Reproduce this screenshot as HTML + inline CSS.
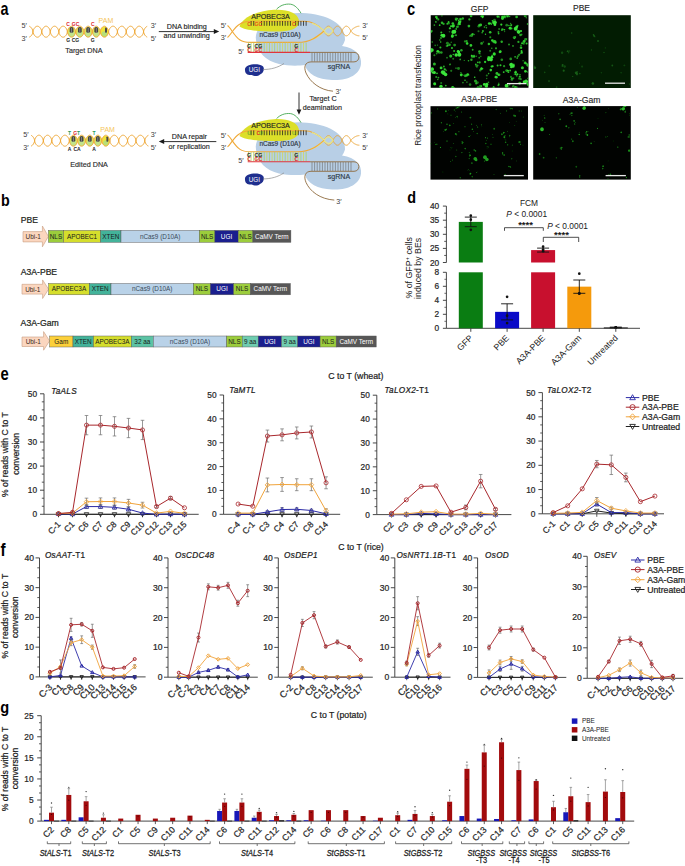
<!DOCTYPE html>
<html><head><meta charset="utf-8"><style>
html,body{margin:0;padding:0;background:#fff;width:685px;height:866px;overflow:hidden}
svg{display:block}
text{font-family:"Liberation Sans", sans-serif}
.b{stroke:#222;stroke-width:0.22px}
.b2{stroke:#333;stroke-width:0.15px}
</style></head><body>
<svg width="685" height="866" viewBox="0 0 685 866">
<rect width="685" height="866" fill="#fff"/>
<text transform="translate(0.4,14.5) scale(0.8,1.0)" font-size="18.0" font-weight="bold" fill="#000">a</text>
<ellipse cx="71.55" cy="31.70" rx="3.95" ry="5.30" fill="#dfe25a"/>
<ellipse cx="71.55" cy="34.01" rx="2.95" ry="2.86" fill="#c2e38a"/>
<rect x="69.65" y="27.10" width="3.8" height="5.70" rx="1.6" fill="#444"/>
<rect x="71.20" y="27.80" width="0.70" height="4.90" fill="#9a9a9a" stroke="none" stroke-width="0.5" />
<ellipse cx="79.85" cy="31.70" rx="3.95" ry="5.30" fill="#dfe25a"/>
<ellipse cx="79.85" cy="34.01" rx="2.95" ry="2.86" fill="#c2e38a"/>
<rect x="77.95" y="27.10" width="3.8" height="5.70" rx="1.6" fill="#444"/>
<rect x="79.50" y="27.80" width="0.70" height="4.90" fill="#9a9a9a" stroke="none" stroke-width="0.5" />
<ellipse cx="88.15" cy="31.70" rx="3.95" ry="5.30" fill="#dfe25a"/>
<ellipse cx="88.15" cy="34.01" rx="2.95" ry="2.86" fill="#c2e38a"/>
<rect x="86.25" y="27.10" width="3.8" height="5.70" rx="1.6" fill="#444"/>
<rect x="87.80" y="27.80" width="0.70" height="4.90" fill="#9a9a9a" stroke="none" stroke-width="0.5" />
<ellipse cx="96.25" cy="31.70" rx="3.75" ry="5.30" fill="#dfe25a"/>
<ellipse cx="96.25" cy="34.01" rx="2.75" ry="2.86" fill="#c2e38a"/>
<rect x="94.35" y="27.10" width="3.8" height="5.70" rx="1.6" fill="#444"/>
<rect x="95.90" y="27.80" width="0.70" height="4.90" fill="#9a9a9a" stroke="none" stroke-width="0.5" />
<ellipse cx="104.40" cy="31.70" rx="4.00" ry="5.30" fill="#efe33a"/>
<ellipse cx="104.40" cy="34.01" rx="2.80" ry="2.75" fill="#b8df78"/>
<rect x="105.00" y="27.40" width="2.0" height="5.30" rx="0.8" fill="#4a4a4a"/>
<polyline points="29.20,26.28 29.69,26.45 30.18,26.73 30.68,27.12 31.17,27.62 31.66,28.24 32.15,29.04 32.64,30.10 33.13,32.58 33.62,33.92 34.12,34.82 34.61,35.51 35.10,36.07 35.59,36.51 36.08,36.83 36.57,37.06 37.07,37.18 37.56,37.19 38.05,37.11 38.54,36.93 39.03,36.64 39.52,36.24 40.02,35.73 40.51,35.08 41.00,34.27 41.49,33.16 41.98,30.61 42.47,29.32 42.97,28.44 43.46,27.75 43.95,27.21 44.44,26.79 44.93,26.48 45.42,26.29 45.92,26.20 46.41,26.23 46.90,26.36 47.39,26.61 47.88,26.97 48.38,27.44 48.87,28.05 49.36,28.82 49.85,29.83 50.34,32.15 50.83,33.77 51.32,34.73 51.82,35.46 52.31,36.05 52.80,36.50 53.29,36.84 53.78,37.07 54.27,37.18 54.77,37.19 55.26,37.09 55.75,36.87 56.24,36.55 56.73,36.11 57.22,35.54 57.72,34.83 58.21,33.90 58.70,32.46 59.19,29.99 59.68,28.94 60.17,28.15 60.67,27.53 61.16,27.04 61.65,26.67 62.14,26.40 62.63,26.25 63.12,26.20 63.62,26.26 64.11,26.42 64.60,26.70 65.09,27.08 65.58,27.59 66.07,28.22 66.57,29.03 67.06,30.12 67.55,32.68 68.04,34.04 68.53,34.95 69.02,35.65 69.52,36.21 70.01,36.63 70.50,36.94 70.99,37.13 71.48,37.20 71.97,37.16 72.47,37.00 72.96,36.73 73.45,36.34 73.94,35.82 74.43,35.16 74.92,34.31 75.42,33.14 75.91,30.50 76.40,29.24 76.89,28.36 77.38,27.67 77.87,27.13 78.37,26.72 78.86,26.43 79.35,26.26 79.84,26.20 80.33,26.26 80.82,26.43 81.32,26.71 81.81,27.12 82.30,27.65 82.79,28.33 83.28,29.20 83.77,30.45 84.27,33.09 84.76,34.28 85.25,35.13 85.74,35.80 86.23,36.32 86.72,36.72 87.22,36.99 87.71,37.15 88.20,37.20 88.69,37.13 89.18,36.95 89.67,36.65 90.17,36.23 90.66,35.68 91.15,34.98 91.64,34.07 92.13,32.75 92.62,30.09 93.12,28.93 93.61,28.08 94.10,27.43 94.59,26.92 95.08,26.56 95.57,26.32 96.07,26.21 96.56,26.22 97.05,26.37 97.54,26.64 98.03,27.04 98.52,27.58 99.02,28.28 99.51,29.18 100.00,30.50 100.49,33.15 100.98,34.31 101.47,35.15 101.97,35.80 102.46,36.32 102.95,36.71 103.44,36.99 103.93,37.15 104.42,37.20 104.92,37.14 105.41,36.96 105.90,36.68 106.39,36.27 106.88,35.74 107.37,35.07 107.87,34.21 108.36,33.00 108.85,30.41 109.34,29.24 109.83,28.40 110.32,27.74 110.82,27.22 111.31,26.81 111.80,26.50 112.29,26.31 112.78,26.21 113.27,26.22 113.77,26.32 114.26,26.53 114.75,26.85 115.24,27.27 115.73,27.81 116.22,28.49 116.72,29.35 117.21,30.60 117.70,33.14 118.19,34.26 118.68,35.07 119.17,35.72 119.67,36.23 120.16,36.63 120.65,36.92 121.14,37.11 121.63,37.19 122.12,37.18 122.62,37.06 123.11,36.84 123.60,36.51 124.09,36.08 124.58,35.52 125.07,34.83 125.57,33.94 126.06,32.62 126.55,30.10 127.04,29.02 127.53,28.21 128.02,27.58 128.52,27.08 129.01,26.69 129.50,26.42 129.99,26.26 130.48,26.20 130.97,26.25 131.47,26.41 131.96,26.67 132.45,27.05 132.94,27.54 133.43,28.16 133.92,28.95 134.42,30.01 134.91,32.48 135.40,33.87 135.89,34.78 136.38,35.48 136.87,36.04 137.37,36.49 137.86,36.82 138.35,37.05 138.84,37.17 139.33,37.20 139.82,37.12 140.32,36.94 140.81,36.65 141.30,36.26 141.79,35.75 142.28,35.12 142.77,34.32 143.27,33.23 143.76,30.72 144.25,29.42 144.74,28.54 145.23,27.86 145.72,27.31 146.22,26.87 146.71,26.55 147.20,26.33" fill="none" stroke="#f0a938" stroke-width="1.0"/>
<polyline points="29.20,37.12 29.69,36.95 30.18,36.67 30.68,36.28 31.17,35.78 31.66,35.16 32.15,34.36 32.64,33.30 33.13,30.82 33.62,29.48 34.12,28.58 34.61,27.89 35.10,27.33 35.59,26.89 36.08,26.57 36.57,26.34 37.07,26.22 37.56,26.21 38.05,26.29 38.54,26.47 39.03,26.76 39.52,27.16 40.02,27.67 40.51,28.32 41.00,29.13 41.49,30.24 41.98,32.79 42.47,34.08 42.97,34.96 43.46,35.65 43.95,36.19 44.44,36.61 44.93,36.92 45.42,37.11 45.92,37.20 46.41,37.17 46.90,37.04 47.39,36.79 47.88,36.43 48.38,35.96 48.87,35.35 49.36,34.58 49.85,33.57 50.34,31.25 50.83,29.63 51.32,28.67 51.82,27.94 52.31,27.35 52.80,26.90 53.29,26.56 53.78,26.33 54.27,26.22 54.77,26.21 55.26,26.31 55.75,26.53 56.24,26.85 56.73,27.29 57.22,27.86 57.72,28.57 58.21,29.50 58.70,30.94 59.19,33.41 59.68,34.46 60.17,35.25 60.67,35.87 61.16,36.36 61.65,36.73 62.14,37.00 62.63,37.15 63.12,37.20 63.62,37.14 64.11,36.98 64.60,36.70 65.09,36.32 65.58,35.81 66.07,35.18 66.57,34.37 67.06,33.28 67.55,30.72 68.04,29.36 68.53,28.45 69.02,27.75 69.52,27.19 70.01,26.77 70.50,26.46 70.99,26.27 71.48,26.20 71.97,26.24 72.47,26.40 72.96,26.67 73.45,27.06 73.94,27.58 74.43,28.24 74.92,29.09 75.42,30.26 75.91,32.90 76.40,34.16 76.89,35.04 77.38,35.73 77.87,36.27 78.37,36.68 78.86,36.97 79.35,37.14 79.84,37.20 80.33,37.14 80.82,36.97 81.32,36.69 81.81,36.28 82.30,35.75 82.79,35.07 83.28,34.20 83.77,32.95 84.27,30.31 84.76,29.12 85.25,28.27 85.74,27.60 86.23,27.08 86.72,26.68 87.22,26.41 87.71,26.25 88.20,26.20 88.69,26.27 89.18,26.45 89.67,26.75 90.17,27.17 90.66,27.72 91.15,28.42 91.64,29.33 92.13,30.65 92.62,33.31 93.12,34.47 93.61,35.32 94.10,35.97 94.59,36.48 95.08,36.84 95.57,37.08 96.07,37.19 96.56,37.18 97.05,37.03 97.54,36.76 98.03,36.36 98.52,35.82 99.02,35.12 99.51,34.22 100.00,32.90 100.49,30.25 100.98,29.09 101.47,28.25 101.97,27.60 102.46,27.08 102.95,26.69 103.44,26.41 103.93,26.25 104.42,26.20 104.92,26.26 105.41,26.44 105.90,26.72 106.39,27.13 106.88,27.66 107.37,28.33 107.87,29.19 108.36,30.40 108.85,32.99 109.34,34.16 109.83,35.00 110.32,35.66 110.82,36.18 111.31,36.59 111.80,36.90 112.29,37.09 112.78,37.19 113.27,37.18 113.77,37.08 114.26,36.87 114.75,36.55 115.24,36.13 115.73,35.59 116.22,34.91 116.72,34.05 117.21,32.80 117.70,30.26 118.19,29.14 118.68,28.33 119.17,27.68 119.67,27.17 120.16,26.77 120.65,26.48 121.14,26.29 121.63,26.21 122.12,26.22 122.62,26.34 123.11,26.56 123.60,26.89 124.09,27.32 124.58,27.88 125.07,28.57 125.57,29.46 126.06,30.78 126.55,33.30 127.04,34.38 127.53,35.19 128.02,35.82 128.52,36.32 129.01,36.71 129.50,36.98 129.99,37.14 130.48,37.20 130.97,37.15 131.47,36.99 131.96,36.73 132.45,36.35 132.94,35.86 133.43,35.24 133.92,34.45 134.42,33.39 134.91,30.92 135.40,29.53 135.89,28.62 136.38,27.92 136.87,27.36 137.37,26.91 137.86,26.58 138.35,26.35 138.84,26.23 139.33,26.20 139.82,26.28 140.32,26.46 140.81,26.75 141.30,27.14 141.79,27.65 142.28,28.28 142.77,29.08 143.27,30.17 143.76,32.68 144.25,33.98 144.74,34.86 145.23,35.54 145.72,36.09 146.22,36.53 146.71,36.85 147.20,37.07" fill="none" stroke="#f0a938" stroke-width="1.0"/>
<text x="21.60" y="27.80" font-size="7.2" text-anchor="start" fill="#3a3a3a" font-weight="normal" font-style="normal" >5&#8242;</text>
<text x="21.60" y="40.50" font-size="7.2" text-anchor="start" fill="#3a3a3a" font-weight="normal" font-style="normal" >3&#8242;</text>
<text x="150.80" y="27.90" font-size="7.2" text-anchor="start" fill="#3a3a3a" font-weight="normal" font-style="normal" >3&#8242;</text>
<text x="150.80" y="40.50" font-size="7.2" text-anchor="start" fill="#3a3a3a" font-weight="normal" font-style="normal" >5&#8242;</text>
<text x="98.60" y="23.40" font-size="7.0" text-anchor="start" fill="#f5c55a" font-weight="normal" font-style="normal" >PAM</text>
<text x="68.00" y="25.70" font-size="5.0" font-weight="bold" fill="#e0242c" text-anchor="middle">C</text>
<text x="75.50" y="25.70" font-size="5.0" font-weight="bold" fill="#e0242c" text-anchor="middle">GC</text>
<text x="92.70" y="25.70" font-size="5.0" font-weight="bold" fill="#e0242c" text-anchor="middle">C</text>
<text x="68.10" y="42.10" font-size="5.0" font-weight="bold" fill="#222" text-anchor="middle">G</text>
<text x="75.40" y="42.10" font-size="5.0" font-weight="bold" fill="#222" text-anchor="middle">CG</text>
<text x="92.70" y="42.10" font-size="5.0" font-weight="bold" fill="#222" text-anchor="middle">G</text>
<text x="83.90" y="52.50" font-size="7.2" text-anchor="middle" fill="#2a2a2a" font-weight="normal" font-style="normal" class="b2">Target DNA</text>
<ellipse cx="73.40" cy="140.70" rx="3.90" ry="5.30" fill="#dfe25a"/>
<ellipse cx="73.40" cy="143.01" rx="2.90" ry="2.86" fill="#c2e38a"/>
<rect x="71.50" y="136.10" width="3.8" height="5.70" rx="1.6" fill="#444"/>
<rect x="73.05" y="136.80" width="0.70" height="4.90" fill="#9a9a9a" stroke="none" stroke-width="0.5" />
<ellipse cx="81.60" cy="140.70" rx="3.90" ry="5.30" fill="#dfe25a"/>
<ellipse cx="81.60" cy="143.01" rx="2.90" ry="2.86" fill="#c2e38a"/>
<rect x="79.70" y="136.10" width="3.8" height="5.70" rx="1.6" fill="#444"/>
<rect x="81.25" y="136.80" width="0.70" height="4.90" fill="#9a9a9a" stroke="none" stroke-width="0.5" />
<ellipse cx="89.80" cy="140.70" rx="3.90" ry="5.30" fill="#dfe25a"/>
<ellipse cx="89.80" cy="143.01" rx="2.90" ry="2.86" fill="#c2e38a"/>
<rect x="87.90" y="136.10" width="3.8" height="5.70" rx="1.6" fill="#444"/>
<rect x="89.45" y="136.80" width="0.70" height="4.90" fill="#9a9a9a" stroke="none" stroke-width="0.5" />
<ellipse cx="97.85" cy="140.70" rx="3.75" ry="5.30" fill="#dfe25a"/>
<ellipse cx="97.85" cy="143.01" rx="2.75" ry="2.86" fill="#c2e38a"/>
<rect x="95.95" y="136.10" width="3.8" height="5.70" rx="1.6" fill="#444"/>
<rect x="97.50" y="136.80" width="0.70" height="4.90" fill="#9a9a9a" stroke="none" stroke-width="0.5" />
<ellipse cx="105.80" cy="140.70" rx="3.80" ry="5.30" fill="#efe33a"/>
<ellipse cx="105.80" cy="143.01" rx="2.60" ry="2.75" fill="#b8df78"/>
<rect x="106.40" y="136.40" width="2.0" height="5.30" rx="0.8" fill="#4a4a4a"/>
<polyline points="31.00,135.32 31.49,135.53 31.98,135.85 32.47,136.27 32.96,136.82 33.45,137.50 33.94,138.38 34.42,139.65 34.91,142.19 35.40,143.29 35.89,144.10 36.38,144.75 36.87,145.26 37.36,145.65 37.85,145.94 38.34,146.12 38.83,146.20 39.32,146.17 39.80,146.04 40.29,145.81 40.78,145.47 41.27,145.02 41.76,144.45 42.25,143.73 42.74,142.80 43.23,141.31 43.72,138.91 44.21,137.88 44.70,137.10 45.19,136.48 45.67,136.00 46.16,135.64 46.65,135.38 47.14,135.24 47.63,135.20 48.12,135.27 48.61,135.45 49.10,135.74 49.59,136.15 50.08,136.67 50.57,137.34 51.06,138.18 51.55,139.37 52.03,141.95 52.52,143.14 53.01,143.99 53.50,144.65 53.99,145.18 54.48,145.60 54.97,145.90 55.46,146.10 55.95,146.19 56.44,146.18 56.93,146.07 57.42,145.85 57.90,145.53 58.39,145.10 58.88,144.55 59.37,143.86 59.86,142.97 60.35,141.66 60.84,139.15 61.33,138.08 61.82,137.28 62.31,136.65 62.80,136.14 63.29,135.75 63.77,135.47 64.26,135.29 64.75,135.20 65.24,135.22 65.73,135.35 66.22,135.57 66.71,135.89 67.20,136.33 67.69,136.88 68.18,137.57 68.67,138.46 69.16,139.77 69.64,142.33 70.13,143.44 70.62,144.26 71.11,144.91 71.60,145.41 72.09,145.78 72.58,146.04 73.07,146.17 73.56,146.19 74.05,146.10 74.54,145.89 75.03,145.56 75.51,145.10 76.00,144.51 76.49,143.76 76.98,142.78 77.47,141.07 77.96,138.77 78.45,137.74 78.94,136.97 79.43,136.36 79.92,135.89 80.41,135.55 80.90,135.32 81.38,135.21 81.87,135.22 82.36,135.34 82.85,135.58 83.34,135.94 83.83,136.43 84.32,137.05 84.81,137.85 85.30,138.91 85.79,141.41 86.28,142.91 86.77,143.86 87.25,144.59 87.74,145.16 88.23,145.60 88.72,145.92 89.21,146.12 89.70,146.20 90.19,146.16 90.68,146.01 91.17,145.74 91.66,145.36 92.15,144.84 92.64,144.18 93.12,143.33 93.61,142.16 94.10,139.49 94.59,138.18 95.08,137.28 95.57,136.59 96.06,136.05 96.55,135.64 97.04,135.37 97.53,135.23 98.02,135.21 98.51,135.31 98.99,135.54 99.48,135.90 99.97,136.40 100.46,137.04 100.95,137.87 101.44,138.99 101.93,141.62 102.42,143.04 102.91,143.97 103.40,144.69 103.89,145.26 104.38,145.68 104.86,145.98 105.35,146.15 105.84,146.20 106.33,146.13 106.82,145.93 107.31,145.62 107.80,145.17 108.29,144.58 108.78,143.83 109.27,142.84 109.76,141.18 110.24,138.89 110.73,137.90 111.22,137.15 111.71,136.55 112.20,136.07 112.69,135.70 113.18,135.44 113.67,135.27 114.16,135.20 114.65,135.23 115.14,135.36 115.63,135.59 116.12,135.92 116.60,136.36 117.09,136.91 117.58,137.60 118.07,138.48 118.56,139.80 119.05,142.28 119.54,143.34 120.03,144.14 120.52,144.77 121.01,145.27 121.50,145.66 121.98,145.94 122.47,146.12 122.96,146.20 123.45,146.17 123.94,146.05 124.43,145.83 124.92,145.50 125.41,145.06 125.90,144.50 126.39,143.81 126.88,142.92 127.37,141.59 127.86,139.08 128.34,137.99 128.83,137.19 129.32,136.56 129.81,136.06 130.30,135.68 130.79,135.41 131.28,135.25 131.77,135.20 132.26,135.26 132.75,135.42 133.24,135.70 133.72,136.09 134.21,136.60 134.70,137.24 135.19,138.06 135.68,139.18 136.17,141.73 136.66,143.00 137.15,143.87 137.64,144.55 138.13,145.10 138.62,145.53 139.11,145.85 139.60,146.06 140.08,146.18 140.57,146.19 141.06,146.11 141.55,145.92 142.04,145.63 142.53,145.23 143.02,144.72 143.51,144.08 144.00,143.28 144.49,142.18 144.98,139.66 145.47,138.39 145.95,137.52 146.44,136.84 146.93,136.30 147.42,135.87 147.91,135.55 148.40,135.33" fill="none" stroke="#f0a938" stroke-width="1.0"/>
<polyline points="31.00,146.08 31.49,145.87 31.98,145.55 32.47,145.13 32.96,144.58 33.45,143.90 33.94,143.02 34.42,141.75 34.91,139.21 35.40,138.11 35.89,137.30 36.38,136.65 36.87,136.14 37.36,135.75 37.85,135.46 38.34,135.28 38.83,135.20 39.32,135.23 39.80,135.36 40.29,135.59 40.78,135.93 41.27,136.38 41.76,136.95 42.25,137.67 42.74,138.60 43.23,140.09 43.72,142.49 44.21,143.52 44.70,144.30 45.19,144.92 45.67,145.40 46.16,145.76 46.65,146.02 47.14,146.16 47.63,146.20 48.12,146.13 48.61,145.95 49.10,145.66 49.59,145.25 50.08,144.73 50.57,144.06 51.06,143.22 51.55,142.03 52.03,139.45 52.52,138.26 53.01,137.41 53.50,136.75 53.99,136.22 54.48,135.80 54.97,135.50 55.46,135.30 55.95,135.21 56.44,135.22 56.93,135.33 57.42,135.55 57.90,135.87 58.39,136.30 58.88,136.85 59.37,137.54 59.86,138.43 60.35,139.74 60.84,142.25 61.33,143.32 61.82,144.12 62.31,144.75 62.80,145.26 63.29,145.65 63.77,145.93 64.26,146.11 64.75,146.20 65.24,146.18 65.73,146.05 66.22,145.83 66.71,145.51 67.20,145.07 67.69,144.52 68.18,143.83 68.67,142.94 69.16,141.63 69.64,139.07 70.13,137.96 70.62,137.14 71.11,136.49 71.60,135.99 72.09,135.62 72.58,135.36 73.07,135.23 73.56,135.21 74.05,135.30 74.54,135.51 75.03,135.84 75.51,136.30 76.00,136.89 76.49,137.64 76.98,138.62 77.47,140.33 77.96,142.63 78.45,143.66 78.94,144.43 79.43,145.04 79.92,145.51 80.41,145.85 80.90,146.08 81.38,146.19 81.87,146.18 82.36,146.06 82.85,145.82 83.34,145.46 83.83,144.97 84.32,144.35 84.81,143.55 85.30,142.49 85.79,139.99 86.28,138.49 86.77,137.54 87.25,136.81 87.74,136.24 88.23,135.80 88.72,135.48 89.21,135.28 89.70,135.20 90.19,135.24 90.68,135.39 91.17,135.66 91.66,136.04 92.15,136.56 92.64,137.22 93.12,138.07 93.61,139.24 94.10,141.91 94.59,143.22 95.08,144.12 95.57,144.81 96.06,145.35 96.55,145.76 97.04,146.03 97.53,146.17 98.02,146.19 98.51,146.09 98.99,145.86 99.48,145.50 99.97,145.00 100.46,144.36 100.95,143.53 101.44,142.41 101.93,139.78 102.42,138.36 102.91,137.43 103.40,136.71 103.89,136.14 104.38,135.72 104.86,135.42 105.35,135.25 105.84,135.20 106.33,135.27 106.82,135.47 107.31,135.78 107.80,136.23 108.29,136.82 108.78,137.57 109.27,138.56 109.76,140.22 110.24,142.51 110.73,143.50 111.22,144.25 111.71,144.85 112.20,145.33 112.69,145.70 113.18,145.96 113.67,146.13 114.16,146.20 114.65,146.17 115.14,146.04 115.63,145.81 116.12,145.48 116.60,145.04 117.09,144.49 117.58,143.80 118.07,142.92 118.56,141.60 119.05,139.12 119.54,138.06 120.03,137.26 120.52,136.63 121.01,136.13 121.50,135.74 121.98,135.46 122.47,135.28 122.96,135.20 123.45,135.23 123.94,135.35 124.43,135.57 124.92,135.90 125.41,136.34 125.90,136.90 126.39,137.59 126.88,138.48 127.37,139.81 127.86,142.32 128.34,143.41 128.83,144.21 129.32,144.84 129.81,145.34 130.30,145.72 130.79,145.99 131.28,146.15 131.77,146.20 132.26,146.14 132.75,145.98 133.24,145.70 133.72,145.31 134.21,144.80 134.70,144.16 135.19,143.34 135.68,142.22 136.17,139.67 136.66,138.40 137.15,137.53 137.64,136.85 138.13,136.30 138.62,135.87 139.11,135.55 139.60,135.34 140.08,135.22 140.57,135.21 141.06,135.29 141.55,135.48 142.04,135.77 142.53,136.17 143.02,136.68 143.51,137.32 144.00,138.12 144.49,139.22 144.98,141.74 145.47,143.01 145.95,143.88 146.44,144.56 146.93,145.10 147.42,145.53 147.91,145.85 148.40,146.07" fill="none" stroke="#f0a938" stroke-width="1.0"/>
<text x="23.30" y="136.80" font-size="7.2" text-anchor="start" fill="#3a3a3a" font-weight="normal" font-style="normal" >5&#8242;</text>
<text x="23.30" y="149.50" font-size="7.2" text-anchor="start" fill="#3a3a3a" font-weight="normal" font-style="normal" >3&#8242;</text>
<text x="150.80" y="136.90" font-size="7.2" text-anchor="start" fill="#3a3a3a" font-weight="normal" font-style="normal" >3&#8242;</text>
<text x="150.80" y="149.50" font-size="7.2" text-anchor="start" fill="#3a3a3a" font-weight="normal" font-style="normal" >5&#8242;</text>
<text x="100.30" y="132.40" font-size="7.0" text-anchor="start" fill="#f5c55a" font-weight="normal" font-style="normal" >PAM</text>
<text x="69.60" y="134.70" font-size="5.0" font-weight="bold" fill="#2a9a5a" text-anchor="middle">T</text>
<text x="75.30" y="134.70" font-size="5.0" font-weight="bold" fill="#e0242c" text-anchor="middle">G</text>
<text x="78.60" y="134.70" font-size="5.0" font-weight="bold" fill="#2a9a5a" text-anchor="middle">T</text>
<text x="94.00" y="134.70" font-size="5.0" font-weight="bold" fill="#2a9a5a" text-anchor="middle">T</text>
<text x="69.60" y="151.10" font-size="5.0" font-weight="bold" fill="#222" text-anchor="middle">A</text>
<text x="77.00" y="151.10" font-size="5.0" font-weight="bold" fill="#222" text-anchor="middle">CA</text>
<text x="94.00" y="151.10" font-size="5.0" font-weight="bold" fill="#222" text-anchor="middle">A</text>
<text x="89.10" y="167.30" font-size="7.2" text-anchor="middle" fill="#2a2a2a" font-weight="normal" font-style="normal" class="b2">Edited DNA</text>
<line x1="158.80" y1="31.60" x2="215.50" y2="31.60" stroke="#1a1a1a" stroke-width="0.9" />
<path d="M219.2,31.6 L213.8,29.1 L213.8,34.1Z" fill="#1a1a1a"/>
<text x="186.80" y="29.30" font-size="7.2" text-anchor="middle" fill="#1a1a1a" font-weight="normal" font-style="normal" class="b2">DNA binding</text>
<text x="186.60" y="38.20" font-size="7.2" text-anchor="middle" fill="#1a1a1a" font-weight="normal" font-style="normal" class="b2">and unwinding</text>
<line x1="162.50" y1="141.60" x2="216.30" y2="141.60" stroke="#1a1a1a" stroke-width="0.9" />
<path d="M158.8,141.6 L164.2,139.1 L164.2,144.1Z" fill="#1a1a1a"/>
<text x="189.40" y="139.30" font-size="7.2" text-anchor="middle" fill="#1a1a1a" font-weight="normal" font-style="normal" class="b2">DNA repair</text>
<text x="189.20" y="148.60" font-size="7.2" text-anchor="middle" fill="#1a1a1a" font-weight="normal" font-style="normal" class="b2">or replication</text>
<line x1="299.00" y1="92.50" x2="299.00" y2="110.00" stroke="#1a1a1a" stroke-width="0.9" />
<path d="M299.0,114.8 L296.6,109.4 L301.4,109.4Z" fill="#1a1a1a"/>
<text x="323.00" y="100.90" font-size="7.2" text-anchor="middle" fill="#1a1a1a" font-weight="normal" font-style="normal" class="b2">Target C</text>
<text x="322.40" y="110.10" font-size="7.2" text-anchor="middle" fill="#1a1a1a" font-weight="normal" font-style="normal" class="b2">deamination</text>
<path d="M256,40.0 C254,24.0 276,12.0 302,13.0 C328,14.0 346,24.0 345,40.0 C344,43.0 343,45.0 342,46.0 C356,48.0 362,56.0 361,64.0 C360,75.0 347,81.0 332,80.0 C318,79.5 307,74.0 305,65.0 C298,66.0 288,66.0 279,64.0 C266,61.0 257,52.0 256,40.0Z" fill="#b8cfe6"/>
<path d="M239.5,26.5 C242,18.0 256,11.0 274,9.8 C288,9.0 297,13.0 298.8,19.5 C300.5,26.5 294,31.2 281,31.5 C264,31.8 246,31.0 239.5,26.5Z" fill="#dcdf28"/>
<path d="M276.5,9.3 C280,5.5 285,3.6 290.5,4.2 C295,4.8 298.5,9.0 301,13.2" fill="none" stroke="#2b9c3a" stroke-width="0.8"/>
<polyline points="324.00,31.00 324.15,31.45 324.30,31.78 324.44,32.07 324.59,32.35 324.74,32.61 324.88,32.85 325.03,33.09 325.18,33.31 325.33,33.52 325.48,33.72 325.62,33.92 325.77,34.10 325.92,34.28 326.06,34.44 326.21,34.60 326.36,34.75 326.51,34.89 326.65,35.01 326.80,35.13 326.95,35.24 327.10,35.34 327.25,35.43 327.39,35.51 327.54,35.59 327.69,35.65 327.83,35.70 327.98,35.74 328.13,35.77 328.28,35.79 328.43,35.80 328.57,35.80 328.72,35.79 328.87,35.77 329.01,35.74 329.16,35.70 329.31,35.65 329.46,35.59 329.61,35.52 329.75,35.44 329.90,35.34 330.05,35.24 330.19,35.14 330.34,35.02 330.49,34.89 330.64,34.75 330.78,34.60 330.93,34.45 331.08,34.28 331.23,34.10 331.38,33.92 331.52,33.73 331.67,33.52 331.82,33.31 331.96,33.09 332.11,32.86 332.26,32.61 332.41,32.35 332.56,32.08 332.70,31.78 332.85,31.45 333.00,31.02 333.14,30.56 333.29,30.23 333.44,29.93 333.59,29.66 333.74,29.40 333.88,29.15 334.03,28.92 334.18,28.70 334.32,28.48 334.47,28.28 334.62,28.09 334.77,27.90 334.92,27.73 335.06,27.56 335.21,27.40 335.36,27.26 335.50,27.12 335.65,26.99 335.80,26.87 335.95,26.76 336.09,26.66 336.24,26.57 336.39,26.49 336.54,26.42 336.69,26.35 336.83,26.30 336.98,26.26 337.13,26.23 337.27,26.21 337.42,26.20 337.57,26.20 337.72,26.21 337.87,26.23 338.01,26.26 338.16,26.30 338.31,26.35 338.45,26.41 338.60,26.48 338.75,26.56 338.90,26.65 339.05,26.75 339.19,26.86 339.34,26.98 339.49,27.11 339.63,27.25 339.78,27.40 339.93,27.55 340.08,27.72 340.22,27.89 340.37,28.08 340.52,28.27 340.67,28.47 340.81,28.68 340.96,28.91 341.11,29.14 341.26,29.38 341.40,29.64 341.55,29.92 341.70,30.21 341.85,30.54 342.00,30.97 342.14,31.44 342.29,31.78 342.44,32.08 342.58,32.36 342.73,32.63 342.88,32.88 343.03,33.11 343.18,33.34 343.32,33.56 343.47,33.76 343.62,33.96 343.76,34.14 343.91,34.32 344.06,34.49 344.21,34.65 344.35,34.79 344.50,34.93 344.65,35.06 344.80,35.18 344.94,35.29 345.09,35.38 345.24,35.47 345.39,35.55 345.53,35.62 345.68,35.67 345.83,35.72 345.98,35.76 346.12,35.78 346.27,35.80 346.42,35.80 346.57,35.79 346.71,35.78 346.86,35.75 347.01,35.71 347.16,35.66 347.31,35.60 347.45,35.53 347.60,35.45 347.75,35.36 347.89,35.26 348.04,35.15 348.19,35.03 348.34,34.90 348.48,34.75 348.63,34.60 348.78,34.44 348.93,34.27 349.07,34.09 349.22,33.91 349.37,33.71 349.52,33.50 349.66,33.28 349.81,33.05 349.96,32.81 350.11,32.56 350.25,32.29 350.40,32.00 350.55,31.69 350.70,31.34 350.84,30.90 350.99,30.67 351.14,30.48 351.29,30.31 351.44,30.14 351.58,29.99 351.73,29.84 351.88,29.70 352.02,29.56 352.17,29.43 352.32,29.30 352.47,29.17 352.62,29.04 352.76,28.92 352.91,28.81 353.06,28.69 353.20,28.58 353.35,28.47 353.50,28.36 353.65,28.26 353.79,28.15 353.94,28.06 354.09,27.96 354.24,27.86 354.38,27.77 354.53,27.68 354.68,27.60 354.83,27.51 354.97,27.43 355.12,27.35 355.27,27.27 355.42,27.20 355.56,27.13 355.71,27.06 355.86,26.99 356.01,26.93 356.15,26.87 356.30,26.81 356.45,26.75 356.60,26.70 356.75,26.65 356.89,26.60 357.04,26.55 357.19,26.51 357.33,26.47 357.48,26.43 357.63,26.40 357.78,26.37 357.92,26.34 358.07,26.31 358.22,26.29 358.37,26.27 358.51,26.25 358.66,26.23 358.81,26.22 358.96,26.21 359.10,26.21 359.25,26.20 359.40,26.20" fill="none" stroke="#f0a938" stroke-width="1.0"/>
<polyline points="324.00,31.00 324.15,30.55 324.30,30.22 324.44,29.93 324.59,29.65 324.74,29.39 324.88,29.15 325.03,28.91 325.18,28.69 325.33,28.48 325.48,28.28 325.62,28.08 325.77,27.90 325.92,27.72 326.06,27.56 326.21,27.40 326.36,27.25 326.51,27.11 326.65,26.99 326.80,26.87 326.95,26.76 327.10,26.66 327.25,26.57 327.39,26.49 327.54,26.41 327.69,26.35 327.83,26.30 327.98,26.26 328.13,26.23 328.28,26.21 328.43,26.20 328.57,26.20 328.72,26.21 328.87,26.23 329.01,26.26 329.16,26.30 329.31,26.35 329.46,26.41 329.61,26.48 329.75,26.56 329.90,26.66 330.05,26.76 330.19,26.86 330.34,26.98 330.49,27.11 330.64,27.25 330.78,27.40 330.93,27.55 331.08,27.72 331.23,27.90 331.38,28.08 331.52,28.27 331.67,28.48 331.82,28.69 331.96,28.91 332.11,29.14 332.26,29.39 332.41,29.65 332.56,29.92 332.70,30.22 332.85,30.55 333.00,30.98 333.14,31.44 333.29,31.77 333.44,32.07 333.59,32.34 333.74,32.60 333.88,32.85 334.03,33.08 334.18,33.30 334.32,33.52 334.47,33.72 334.62,33.91 334.77,34.10 334.92,34.27 335.06,34.44 335.21,34.60 335.36,34.74 335.50,34.88 335.65,35.01 335.80,35.13 335.95,35.24 336.09,35.34 336.24,35.43 336.39,35.51 336.54,35.58 336.69,35.65 336.83,35.70 336.98,35.74 337.13,35.77 337.27,35.79 337.42,35.80 337.57,35.80 337.72,35.79 337.87,35.77 338.01,35.74 338.16,35.70 338.31,35.65 338.45,35.59 338.60,35.52 338.75,35.44 338.90,35.35 339.05,35.25 339.19,35.14 339.34,35.02 339.49,34.89 339.63,34.75 339.78,34.60 339.93,34.45 340.08,34.28 340.22,34.11 340.37,33.92 340.52,33.73 340.67,33.53 340.81,33.32 340.96,33.09 341.11,32.86 341.26,32.62 341.40,32.36 341.55,32.08 341.70,31.79 341.85,31.46 342.00,31.03 342.14,30.56 342.29,30.22 342.44,29.92 342.58,29.64 342.73,29.37 342.88,29.12 343.03,28.89 343.18,28.66 343.32,28.44 343.47,28.24 343.62,28.04 343.76,27.86 343.91,27.68 344.06,27.51 344.21,27.35 344.35,27.21 344.50,27.07 344.65,26.94 344.80,26.82 344.94,26.71 345.09,26.62 345.24,26.53 345.39,26.45 345.53,26.38 345.68,26.33 345.83,26.28 345.98,26.24 346.12,26.22 346.27,26.20 346.42,26.20 346.57,26.21 346.71,26.22 346.86,26.25 347.01,26.29 347.16,26.34 347.31,26.40 347.45,26.47 347.60,26.55 347.75,26.64 347.89,26.74 348.04,26.85 348.19,26.97 348.34,27.10 348.48,27.25 348.63,27.40 348.78,27.56 348.93,27.73 349.07,27.91 349.22,28.09 349.37,28.29 349.52,28.50 349.66,28.72 349.81,28.95 349.96,29.19 350.11,29.44 350.25,29.71 350.40,30.00 350.55,30.31 350.70,30.66 350.84,31.10 350.99,31.33 351.14,31.52 351.29,31.69 351.44,31.86 351.58,32.01 351.73,32.16 351.88,32.30 352.02,32.44 352.17,32.57 352.32,32.70 352.47,32.83 352.62,32.96 352.76,33.08 352.91,33.19 353.06,33.31 353.20,33.42 353.35,33.53 353.50,33.64 353.65,33.74 353.79,33.85 353.94,33.94 354.09,34.04 354.24,34.14 354.38,34.23 354.53,34.32 354.68,34.40 354.83,34.49 354.97,34.57 355.12,34.65 355.27,34.73 355.42,34.80 355.56,34.87 355.71,34.94 355.86,35.01 356.01,35.07 356.15,35.13 356.30,35.19 356.45,35.25 356.60,35.30 356.75,35.35 356.89,35.40 357.04,35.45 357.19,35.49 357.33,35.53 357.48,35.57 357.63,35.60 357.78,35.63 357.92,35.66 358.07,35.69 358.22,35.71 358.37,35.73 358.51,35.75 358.66,35.77 358.81,35.78 358.96,35.79 359.10,35.79 359.25,35.80 359.40,35.80" fill="none" stroke="#f0a938" stroke-width="1.0"/>
<path d="M227.5,37.5 C231,35.0 234,27.0 240,24.0 C243,22.0 246,21.3 250,21.3 H304 C312,21.3 318,24.5 324,31.0" fill="none" stroke="#f0a938" stroke-width="1.1"/>
<path d="M312,23.3 C317,24.5 320,27.0 324,31.0 C327,35.0 330,35.8 333,31.0 C330,26.0 327,26.5 324,31.0 C320,36.0 316,38.0 311,39.5" fill="none" stroke="#e6e48c" stroke-width="1.3"/>
<path d="M227.5,25.5 C231,28.0 234,36.0 240,40.0 C243,42.0 246,42.4 250,42.4 H298 C310,42.4 317,37.0 324,31.0" fill="none" stroke="#f0a938" stroke-width="1.1"/>
<line x1="251.12" y1="21.00" x2="251.12" y2="25.80" stroke="#222" stroke-width="0.8" />
<line x1="253.74" y1="21.00" x2="253.74" y2="25.80" stroke="#222" stroke-width="0.8" />
<line x1="261.60" y1="21.00" x2="261.60" y2="25.80" stroke="#222" stroke-width="0.8" />
<line x1="264.22" y1="21.00" x2="264.22" y2="25.80" stroke="#222" stroke-width="0.8" />
<line x1="266.84" y1="21.00" x2="266.84" y2="25.80" stroke="#222" stroke-width="0.8" />
<line x1="269.46" y1="21.00" x2="269.46" y2="25.80" stroke="#222" stroke-width="0.8" />
<line x1="272.08" y1="21.00" x2="272.08" y2="25.80" stroke="#222" stroke-width="0.8" />
<line x1="274.70" y1="21.00" x2="274.70" y2="25.80" stroke="#222" stroke-width="0.8" />
<line x1="277.32" y1="21.00" x2="277.32" y2="25.80" stroke="#222" stroke-width="0.8" />
<line x1="279.94" y1="21.00" x2="279.94" y2="25.80" stroke="#222" stroke-width="0.8" />
<line x1="282.56" y1="21.00" x2="282.56" y2="25.80" stroke="#222" stroke-width="0.8" />
<line x1="285.18" y1="21.00" x2="285.18" y2="25.80" stroke="#222" stroke-width="0.8" />
<line x1="287.80" y1="21.00" x2="287.80" y2="25.80" stroke="#222" stroke-width="0.8" />
<line x1="290.42" y1="21.00" x2="290.42" y2="25.80" stroke="#222" stroke-width="0.8" />
<line x1="295.66" y1="21.00" x2="295.66" y2="25.80" stroke="#222" stroke-width="0.8" />
<line x1="298.28" y1="21.00" x2="298.28" y2="25.80" stroke="#222" stroke-width="0.8" />
<line x1="300.90" y1="21.00" x2="300.90" y2="25.80" stroke="#222" stroke-width="0.8" />
<line x1="303.52" y1="21.00" x2="303.52" y2="25.80" stroke="#222" stroke-width="0.8" />
<line x1="306.14" y1="21.00" x2="306.14" y2="25.80" stroke="#222" stroke-width="0.8" />
<text x="249.00" y="25.60" font-size="5.2" font-weight="bold" fill="#e8501c" text-anchor="middle">C</text>
<text x="258.30" y="25.60" font-size="5.2" font-weight="bold" fill="#e8501c" text-anchor="middle">GC</text>
<text x="293.80" y="25.60" font-size="5.2" font-weight="bold" fill="#e8501c" text-anchor="middle">C</text>
<line x1="248.50" y1="42.60" x2="248.50" y2="52.00" stroke="#a8d07a" stroke-width="0.9" />
<line x1="251.12" y1="42.60" x2="251.12" y2="52.00" stroke="#c9d96a" stroke-width="0.9" />
<line x1="253.74" y1="42.60" x2="253.74" y2="52.00" stroke="#a8d07a" stroke-width="0.9" />
<line x1="256.36" y1="42.60" x2="256.36" y2="52.00" stroke="#c9d96a" stroke-width="0.9" />
<line x1="258.98" y1="42.60" x2="258.98" y2="52.00" stroke="#a8d07a" stroke-width="0.9" />
<line x1="261.60" y1="42.60" x2="261.60" y2="52.00" stroke="#c9d96a" stroke-width="0.9" />
<line x1="264.22" y1="42.60" x2="264.22" y2="52.00" stroke="#a8d07a" stroke-width="0.9" />
<line x1="266.84" y1="42.60" x2="266.84" y2="52.00" stroke="#c9d96a" stroke-width="0.9" />
<line x1="269.46" y1="42.60" x2="269.46" y2="52.00" stroke="#a8d07a" stroke-width="0.9" />
<line x1="272.08" y1="42.60" x2="272.08" y2="52.00" stroke="#c9d96a" stroke-width="0.9" />
<line x1="274.70" y1="42.60" x2="274.70" y2="52.00" stroke="#a8d07a" stroke-width="0.9" />
<line x1="277.32" y1="42.60" x2="277.32" y2="52.00" stroke="#c9d96a" stroke-width="0.9" />
<line x1="279.94" y1="42.60" x2="279.94" y2="52.00" stroke="#a8d07a" stroke-width="0.9" />
<line x1="282.56" y1="42.60" x2="282.56" y2="52.00" stroke="#c9d96a" stroke-width="0.9" />
<line x1="285.18" y1="42.60" x2="285.18" y2="52.00" stroke="#a8d07a" stroke-width="0.9" />
<line x1="287.80" y1="42.60" x2="287.80" y2="52.00" stroke="#c9d96a" stroke-width="0.9" />
<line x1="290.42" y1="42.60" x2="290.42" y2="52.00" stroke="#a8d07a" stroke-width="0.9" />
<line x1="293.04" y1="42.60" x2="293.04" y2="52.00" stroke="#c9d96a" stroke-width="0.9" />
<line x1="295.66" y1="42.60" x2="295.66" y2="52.00" stroke="#a8d07a" stroke-width="0.9" />
<line x1="298.28" y1="42.60" x2="298.28" y2="52.00" stroke="#c9d96a" stroke-width="0.9" />
<line x1="300.90" y1="42.60" x2="300.90" y2="52.00" stroke="#a8d07a" stroke-width="0.9" />
<line x1="303.52" y1="42.60" x2="303.52" y2="52.00" stroke="#c9d96a" stroke-width="0.9" />
<line x1="306.14" y1="42.60" x2="306.14" y2="52.00" stroke="#a8d07a" stroke-width="0.9" />
<text x="249.00" y="47.80" font-size="5.2" font-weight="bold" fill="#222" text-anchor="middle">G</text>
<text x="258.30" y="47.80" font-size="5.2" font-weight="bold" fill="#222" text-anchor="middle">CG</text>
<text x="296.30" y="47.80" font-size="5.2" font-weight="bold" fill="#222" text-anchor="middle">G</text>
<text x="249.00" y="52.00" font-size="5.0" font-weight="bold" fill="#e0242c" text-anchor="middle">C</text>
<text x="258.30" y="52.00" font-size="5.0" font-weight="bold" fill="#e0242c" text-anchor="middle">GC</text>
<text x="296.30" y="52.00" font-size="5.0" font-weight="bold" fill="#e0242c" text-anchor="middle">C</text>
<line x1="247.70" y1="52.40" x2="310.00" y2="52.40" stroke="#e0343c" stroke-width="1.1" />
<line x1="312.00" y1="52.60" x2="312.00" y2="61.60" stroke="#666" stroke-width="0.6" />
<line x1="314.60" y1="52.60" x2="314.60" y2="61.60" stroke="#666" stroke-width="0.6" />
<line x1="317.20" y1="52.60" x2="317.20" y2="61.60" stroke="#666" stroke-width="0.6" />
<line x1="319.80" y1="52.60" x2="319.80" y2="61.60" stroke="#666" stroke-width="0.6" />
<line x1="322.40" y1="52.60" x2="322.40" y2="61.60" stroke="#666" stroke-width="0.6" />
<line x1="325.00" y1="52.60" x2="325.00" y2="61.60" stroke="#666" stroke-width="0.6" />
<line x1="327.60" y1="52.60" x2="327.60" y2="61.60" stroke="#666" stroke-width="0.6" />
<line x1="330.20" y1="52.60" x2="330.20" y2="61.60" stroke="#666" stroke-width="0.6" />
<line x1="332.80" y1="52.60" x2="332.80" y2="61.60" stroke="#666" stroke-width="0.6" />
<line x1="335.40" y1="52.60" x2="335.40" y2="61.60" stroke="#666" stroke-width="0.6" />
<line x1="338.00" y1="52.60" x2="338.00" y2="61.60" stroke="#666" stroke-width="0.6" />
<line x1="340.60" y1="52.60" x2="340.60" y2="61.60" stroke="#666" stroke-width="0.6" />
<line x1="343.20" y1="52.60" x2="343.20" y2="61.60" stroke="#666" stroke-width="0.6" />
<line x1="345.80" y1="52.60" x2="345.80" y2="61.60" stroke="#666" stroke-width="0.6" />
<line x1="348.40" y1="52.60" x2="348.40" y2="61.60" stroke="#666" stroke-width="0.6" />
<line x1="351.00" y1="52.60" x2="351.00" y2="61.60" stroke="#666" stroke-width="0.6" />
<path d="M310,52.4 H354 C360.5,52.4 360.5,61.9 354,61.9 H311 C305,62.0 303.5,67.0 306,73.0 C310,82.0 320,90.2 333.0,91.2" fill="none" stroke="#8e6b3e" stroke-width="0.9"/>
<path d="M245,70.0 C244,64.0 258,62.5 262.5,66.0 C265,68.0 264,73.0 260,74.5 C258,76.5 254,76.5 252,75.0 C248,75.5 245,74.0 245,70.0Z" fill="#1f2f8e"/>
<path d="M263,69.5 C271,69.5 278,67.5 284,63.5" fill="none" stroke="#8a8a8a" stroke-width="0.7"/>
<text x="254.30" y="72.30" font-size="6.3" text-anchor="middle" fill="#ffffff" font-weight="normal" font-style="normal" >UGI</text>
<text x="270.50" y="18.60" font-size="7.2" text-anchor="middle" fill="#1a1a1a" font-weight="normal" font-style="normal" class="b2">APOBEC3A</text>
<text x="280.00" y="37.00" font-size="6.5" text-anchor="middle" fill="#2a3a4a" font-weight="normal" font-style="normal" class="b2">nCas9 (D10A)</text>
<text x="339.00" y="69.40" font-size="7.1" text-anchor="middle" fill="#2a3a4a" font-weight="normal" font-style="normal" class="b2">sgRNA</text>
<text x="220.80" y="28.10" font-size="7.2" text-anchor="start" fill="#3a3a3a" font-weight="normal" font-style="normal" >5&#8242;</text>
<text x="220.80" y="40.40" font-size="7.2" text-anchor="start" fill="#3a3a3a" font-weight="normal" font-style="normal" >3&#8242;</text>
<text x="238.20" y="53.60" font-size="7.2" text-anchor="start" fill="#3a3a3a" font-weight="normal" font-style="normal" >5&#8242;</text>
<text x="362.30" y="28.20" font-size="7.2" text-anchor="start" fill="#3a3a3a" font-weight="normal" font-style="normal" >3&#8242;</text>
<text x="362.30" y="40.30" font-size="7.2" text-anchor="start" fill="#3a3a3a" font-weight="normal" font-style="normal" >5&#8242;</text>
<text x="335.60" y="94.00" font-size="7.2" text-anchor="start" fill="#3a3a3a" font-weight="normal" font-style="normal" >3&#8242;</text>
<path d="M256,149.4 C254,133.4 276,121.4 302,122.4 C328,123.4 346,133.4 345,149.4 C344,152.4 343,154.4 342,155.4 C356,157.4 362,165.4 361,173.4 C360,184.4 347,190.4 332,189.4 C318,188.9 307,183.4 305,174.4 C298,175.4 288,175.4 279,173.4 C266,170.4 257,161.4 256,149.4Z" fill="#b8cfe6"/>
<path d="M239.5,135.9 C242,127.4 256,120.4 274,119.2 C288,118.4 297,122.4 298.8,128.9 C300.5,135.9 294,140.6 281,140.9 C264,141.20000000000002 246,140.4 239.5,135.9Z" fill="#dcdf28"/>
<path d="M276.5,118.7 C280,114.9 285,113.0 290.5,113.60000000000001 C295,114.2 298.5,118.4 301,122.60000000000001" fill="none" stroke="#2b9c3a" stroke-width="0.8"/>
<polyline points="324.00,140.40 324.15,140.85 324.30,141.18 324.44,141.47 324.59,141.75 324.74,142.01 324.88,142.25 325.03,142.49 325.18,142.71 325.33,142.92 325.48,143.12 325.62,143.32 325.77,143.50 325.92,143.68 326.06,143.84 326.21,144.00 326.36,144.15 326.51,144.29 326.65,144.41 326.80,144.53 326.95,144.64 327.10,144.74 327.25,144.83 327.39,144.91 327.54,144.99 327.69,145.05 327.83,145.10 327.98,145.14 328.13,145.17 328.28,145.19 328.43,145.20 328.57,145.20 328.72,145.19 328.87,145.17 329.01,145.14 329.16,145.10 329.31,145.05 329.46,144.99 329.61,144.92 329.75,144.84 329.90,144.74 330.05,144.64 330.19,144.54 330.34,144.42 330.49,144.29 330.64,144.15 330.78,144.00 330.93,143.85 331.08,143.68 331.23,143.50 331.38,143.32 331.52,143.13 331.67,142.92 331.82,142.71 331.96,142.49 332.11,142.26 332.26,142.01 332.41,141.75 332.56,141.48 332.70,141.18 332.85,140.85 333.00,140.42 333.14,139.96 333.29,139.63 333.44,139.33 333.59,139.06 333.74,138.80 333.88,138.55 334.03,138.32 334.18,138.10 334.32,137.88 334.47,137.68 334.62,137.49 334.77,137.30 334.92,137.13 335.06,136.96 335.21,136.80 335.36,136.66 335.50,136.52 335.65,136.39 335.80,136.27 335.95,136.16 336.09,136.06 336.24,135.97 336.39,135.89 336.54,135.82 336.69,135.75 336.83,135.70 336.98,135.66 337.13,135.63 337.27,135.61 337.42,135.60 337.57,135.60 337.72,135.61 337.87,135.63 338.01,135.66 338.16,135.70 338.31,135.75 338.45,135.81 338.60,135.88 338.75,135.96 338.90,136.05 339.05,136.15 339.19,136.26 339.34,136.38 339.49,136.51 339.63,136.65 339.78,136.80 339.93,136.95 340.08,137.12 340.22,137.29 340.37,137.48 340.52,137.67 340.67,137.87 340.81,138.08 340.96,138.31 341.11,138.54 341.26,138.78 341.40,139.04 341.55,139.32 341.70,139.61 341.85,139.94 342.00,140.37 342.14,140.84 342.29,141.18 342.44,141.48 342.58,141.76 342.73,142.03 342.88,142.28 343.03,142.51 343.18,142.74 343.32,142.96 343.47,143.16 343.62,143.36 343.76,143.54 343.91,143.72 344.06,143.89 344.21,144.05 344.35,144.19 344.50,144.33 344.65,144.46 344.80,144.58 344.94,144.69 345.09,144.78 345.24,144.87 345.39,144.95 345.53,145.02 345.68,145.07 345.83,145.12 345.98,145.16 346.12,145.18 346.27,145.20 346.42,145.20 346.57,145.19 346.71,145.18 346.86,145.15 347.01,145.11 347.16,145.06 347.31,145.00 347.45,144.93 347.60,144.85 347.75,144.76 347.89,144.66 348.04,144.55 348.19,144.43 348.34,144.30 348.48,144.15 348.63,144.00 348.78,143.84 348.93,143.67 349.07,143.49 349.22,143.31 349.37,143.11 349.52,142.90 349.66,142.68 349.81,142.45 349.96,142.21 350.11,141.96 350.25,141.69 350.40,141.40 350.55,141.09 350.70,140.74 350.84,140.30 350.99,140.07 351.14,139.88 351.29,139.71 351.44,139.54 351.58,139.39 351.73,139.24 351.88,139.10 352.02,138.96 352.17,138.83 352.32,138.70 352.47,138.57 352.62,138.44 352.76,138.32 352.91,138.21 353.06,138.09 353.20,137.98 353.35,137.87 353.50,137.76 353.65,137.66 353.79,137.55 353.94,137.46 354.09,137.36 354.24,137.26 354.38,137.17 354.53,137.08 354.68,137.00 354.83,136.91 354.97,136.83 355.12,136.75 355.27,136.67 355.42,136.60 355.56,136.53 355.71,136.46 355.86,136.39 356.01,136.33 356.15,136.27 356.30,136.21 356.45,136.15 356.60,136.10 356.75,136.05 356.89,136.00 357.04,135.95 357.19,135.91 357.33,135.87 357.48,135.83 357.63,135.80 357.78,135.77 357.92,135.74 358.07,135.71 358.22,135.69 358.37,135.67 358.51,135.65 358.66,135.63 358.81,135.62 358.96,135.61 359.10,135.61 359.25,135.60 359.40,135.60" fill="none" stroke="#f0a938" stroke-width="1.0"/>
<polyline points="324.00,140.40 324.15,139.95 324.30,139.62 324.44,139.33 324.59,139.05 324.74,138.79 324.88,138.55 325.03,138.31 325.18,138.09 325.33,137.88 325.48,137.68 325.62,137.48 325.77,137.30 325.92,137.12 326.06,136.96 326.21,136.80 326.36,136.65 326.51,136.51 326.65,136.39 326.80,136.27 326.95,136.16 327.10,136.06 327.25,135.97 327.39,135.89 327.54,135.81 327.69,135.75 327.83,135.70 327.98,135.66 328.13,135.63 328.28,135.61 328.43,135.60 328.57,135.60 328.72,135.61 328.87,135.63 329.01,135.66 329.16,135.70 329.31,135.75 329.46,135.81 329.61,135.88 329.75,135.96 329.90,136.06 330.05,136.16 330.19,136.26 330.34,136.38 330.49,136.51 330.64,136.65 330.78,136.80 330.93,136.95 331.08,137.12 331.23,137.30 331.38,137.48 331.52,137.67 331.67,137.88 331.82,138.09 331.96,138.31 332.11,138.54 332.26,138.79 332.41,139.05 332.56,139.32 332.70,139.62 332.85,139.95 333.00,140.38 333.14,140.84 333.29,141.17 333.44,141.47 333.59,141.74 333.74,142.00 333.88,142.25 334.03,142.48 334.18,142.70 334.32,142.92 334.47,143.12 334.62,143.31 334.77,143.50 334.92,143.67 335.06,143.84 335.21,144.00 335.36,144.14 335.50,144.28 335.65,144.41 335.80,144.53 335.95,144.64 336.09,144.74 336.24,144.83 336.39,144.91 336.54,144.98 336.69,145.05 336.83,145.10 336.98,145.14 337.13,145.17 337.27,145.19 337.42,145.20 337.57,145.20 337.72,145.19 337.87,145.17 338.01,145.14 338.16,145.10 338.31,145.05 338.45,144.99 338.60,144.92 338.75,144.84 338.90,144.75 339.05,144.65 339.19,144.54 339.34,144.42 339.49,144.29 339.63,144.15 339.78,144.00 339.93,143.85 340.08,143.68 340.22,143.51 340.37,143.32 340.52,143.13 340.67,142.93 340.81,142.72 340.96,142.49 341.11,142.26 341.26,142.02 341.40,141.76 341.55,141.48 341.70,141.19 341.85,140.86 342.00,140.43 342.14,139.96 342.29,139.62 342.44,139.32 342.58,139.04 342.73,138.77 342.88,138.52 343.03,138.29 343.18,138.06 343.32,137.84 343.47,137.64 343.62,137.44 343.76,137.26 343.91,137.08 344.06,136.91 344.21,136.75 344.35,136.61 344.50,136.47 344.65,136.34 344.80,136.22 344.94,136.11 345.09,136.02 345.24,135.93 345.39,135.85 345.53,135.78 345.68,135.73 345.83,135.68 345.98,135.64 346.12,135.62 346.27,135.60 346.42,135.60 346.57,135.61 346.71,135.62 346.86,135.65 347.01,135.69 347.16,135.74 347.31,135.80 347.45,135.87 347.60,135.95 347.75,136.04 347.89,136.14 348.04,136.25 348.19,136.37 348.34,136.50 348.48,136.65 348.63,136.80 348.78,136.96 348.93,137.13 349.07,137.31 349.22,137.49 349.37,137.69 349.52,137.90 349.66,138.12 349.81,138.35 349.96,138.59 350.11,138.84 350.25,139.11 350.40,139.40 350.55,139.71 350.70,140.06 350.84,140.50 350.99,140.73 351.14,140.92 351.29,141.09 351.44,141.26 351.58,141.41 351.73,141.56 351.88,141.70 352.02,141.84 352.17,141.97 352.32,142.10 352.47,142.23 352.62,142.36 352.76,142.48 352.91,142.59 353.06,142.71 353.20,142.82 353.35,142.93 353.50,143.04 353.65,143.14 353.79,143.25 353.94,143.34 354.09,143.44 354.24,143.54 354.38,143.63 354.53,143.72 354.68,143.80 354.83,143.89 354.97,143.97 355.12,144.05 355.27,144.13 355.42,144.20 355.56,144.27 355.71,144.34 355.86,144.41 356.01,144.47 356.15,144.53 356.30,144.59 356.45,144.65 356.60,144.70 356.75,144.75 356.89,144.80 357.04,144.85 357.19,144.89 357.33,144.93 357.48,144.97 357.63,145.00 357.78,145.03 357.92,145.06 358.07,145.09 358.22,145.11 358.37,145.13 358.51,145.15 358.66,145.17 358.81,145.18 358.96,145.19 359.10,145.19 359.25,145.20 359.40,145.20" fill="none" stroke="#f0a938" stroke-width="1.0"/>
<path d="M227.5,146.9 C231,144.4 234,136.4 240,133.4 C243,131.4 246,130.70000000000002 250,130.70000000000002 H304 C312,130.70000000000002 318,133.9 324,140.4" fill="none" stroke="#f0a938" stroke-width="1.1"/>
<path d="M312,132.70000000000002 C317,133.9 320,136.4 324,140.4 C327,144.4 330,145.2 333,140.4 C330,135.4 327,135.9 324,140.4 C320,145.4 316,147.4 311,148.9" fill="none" stroke="#e6e48c" stroke-width="1.3"/>
<path d="M227.5,134.9 C231,137.4 234,145.4 240,149.4 C243,151.4 246,151.8 250,151.8 H298 C310,151.8 317,146.4 324,140.4" fill="none" stroke="#f0a938" stroke-width="1.1"/>
<line x1="251.12" y1="130.40" x2="251.12" y2="135.20" stroke="#222" stroke-width="0.8" />
<line x1="253.74" y1="130.40" x2="253.74" y2="135.20" stroke="#222" stroke-width="0.8" />
<line x1="261.60" y1="130.40" x2="261.60" y2="135.20" stroke="#222" stroke-width="0.8" />
<line x1="264.22" y1="130.40" x2="264.22" y2="135.20" stroke="#222" stroke-width="0.8" />
<line x1="266.84" y1="130.40" x2="266.84" y2="135.20" stroke="#222" stroke-width="0.8" />
<line x1="269.46" y1="130.40" x2="269.46" y2="135.20" stroke="#222" stroke-width="0.8" />
<line x1="272.08" y1="130.40" x2="272.08" y2="135.20" stroke="#222" stroke-width="0.8" />
<line x1="274.70" y1="130.40" x2="274.70" y2="135.20" stroke="#222" stroke-width="0.8" />
<line x1="277.32" y1="130.40" x2="277.32" y2="135.20" stroke="#222" stroke-width="0.8" />
<line x1="279.94" y1="130.40" x2="279.94" y2="135.20" stroke="#222" stroke-width="0.8" />
<line x1="282.56" y1="130.40" x2="282.56" y2="135.20" stroke="#222" stroke-width="0.8" />
<line x1="285.18" y1="130.40" x2="285.18" y2="135.20" stroke="#222" stroke-width="0.8" />
<line x1="287.80" y1="130.40" x2="287.80" y2="135.20" stroke="#222" stroke-width="0.8" />
<line x1="290.42" y1="130.40" x2="290.42" y2="135.20" stroke="#222" stroke-width="0.8" />
<line x1="295.66" y1="130.40" x2="295.66" y2="135.20" stroke="#222" stroke-width="0.8" />
<line x1="298.28" y1="130.40" x2="298.28" y2="135.20" stroke="#222" stroke-width="0.8" />
<line x1="300.90" y1="130.40" x2="300.90" y2="135.20" stroke="#222" stroke-width="0.8" />
<line x1="303.52" y1="130.40" x2="303.52" y2="135.20" stroke="#222" stroke-width="0.8" />
<line x1="306.14" y1="130.40" x2="306.14" y2="135.20" stroke="#222" stroke-width="0.8" />
<text x="249.00" y="135.00" font-size="5.2" font-weight="bold" fill="#6aa52a" text-anchor="middle">U</text>
<text x="258.30" y="135.00" font-size="5.2" font-weight="bold" fill="#e0242c" text-anchor="middle">C</text>
<text x="260.80" y="135.00" font-size="5.2" font-weight="bold" fill="#6aa52a" text-anchor="middle">U</text>
<text x="293.80" y="135.00" font-size="5.2" font-weight="bold" fill="#6aa52a" text-anchor="middle">U</text>
<line x1="248.50" y1="152.00" x2="248.50" y2="161.40" stroke="#a8d07a" stroke-width="0.9" />
<line x1="251.12" y1="152.00" x2="251.12" y2="161.40" stroke="#c9d96a" stroke-width="0.9" />
<line x1="253.74" y1="152.00" x2="253.74" y2="161.40" stroke="#a8d07a" stroke-width="0.9" />
<line x1="256.36" y1="152.00" x2="256.36" y2="161.40" stroke="#c9d96a" stroke-width="0.9" />
<line x1="258.98" y1="152.00" x2="258.98" y2="161.40" stroke="#a8d07a" stroke-width="0.9" />
<line x1="261.60" y1="152.00" x2="261.60" y2="161.40" stroke="#c9d96a" stroke-width="0.9" />
<line x1="264.22" y1="152.00" x2="264.22" y2="161.40" stroke="#a8d07a" stroke-width="0.9" />
<line x1="266.84" y1="152.00" x2="266.84" y2="161.40" stroke="#c9d96a" stroke-width="0.9" />
<line x1="269.46" y1="152.00" x2="269.46" y2="161.40" stroke="#a8d07a" stroke-width="0.9" />
<line x1="272.08" y1="152.00" x2="272.08" y2="161.40" stroke="#c9d96a" stroke-width="0.9" />
<line x1="274.70" y1="152.00" x2="274.70" y2="161.40" stroke="#a8d07a" stroke-width="0.9" />
<line x1="277.32" y1="152.00" x2="277.32" y2="161.40" stroke="#c9d96a" stroke-width="0.9" />
<line x1="279.94" y1="152.00" x2="279.94" y2="161.40" stroke="#a8d07a" stroke-width="0.9" />
<line x1="282.56" y1="152.00" x2="282.56" y2="161.40" stroke="#c9d96a" stroke-width="0.9" />
<line x1="285.18" y1="152.00" x2="285.18" y2="161.40" stroke="#a8d07a" stroke-width="0.9" />
<line x1="287.80" y1="152.00" x2="287.80" y2="161.40" stroke="#c9d96a" stroke-width="0.9" />
<line x1="290.42" y1="152.00" x2="290.42" y2="161.40" stroke="#a8d07a" stroke-width="0.9" />
<line x1="293.04" y1="152.00" x2="293.04" y2="161.40" stroke="#c9d96a" stroke-width="0.9" />
<line x1="295.66" y1="152.00" x2="295.66" y2="161.40" stroke="#a8d07a" stroke-width="0.9" />
<line x1="298.28" y1="152.00" x2="298.28" y2="161.40" stroke="#c9d96a" stroke-width="0.9" />
<line x1="300.90" y1="152.00" x2="300.90" y2="161.40" stroke="#a8d07a" stroke-width="0.9" />
<line x1="303.52" y1="152.00" x2="303.52" y2="161.40" stroke="#c9d96a" stroke-width="0.9" />
<line x1="306.14" y1="152.00" x2="306.14" y2="161.40" stroke="#a8d07a" stroke-width="0.9" />
<text x="249.00" y="157.20" font-size="5.2" font-weight="bold" fill="#222" text-anchor="middle">G</text>
<text x="258.30" y="157.20" font-size="5.2" font-weight="bold" fill="#222" text-anchor="middle">CG</text>
<text x="296.30" y="157.20" font-size="5.2" font-weight="bold" fill="#222" text-anchor="middle">G</text>
<text x="249.00" y="161.40" font-size="5.0" font-weight="bold" fill="#e0242c" text-anchor="middle">C</text>
<text x="258.30" y="161.40" font-size="5.0" font-weight="bold" fill="#e0242c" text-anchor="middle">GC</text>
<text x="296.30" y="161.40" font-size="5.0" font-weight="bold" fill="#e0242c" text-anchor="middle">C</text>
<line x1="247.70" y1="161.80" x2="310.00" y2="161.80" stroke="#e0343c" stroke-width="1.1" />
<line x1="312.00" y1="162.00" x2="312.00" y2="171.00" stroke="#666" stroke-width="0.6" />
<line x1="314.60" y1="162.00" x2="314.60" y2="171.00" stroke="#666" stroke-width="0.6" />
<line x1="317.20" y1="162.00" x2="317.20" y2="171.00" stroke="#666" stroke-width="0.6" />
<line x1="319.80" y1="162.00" x2="319.80" y2="171.00" stroke="#666" stroke-width="0.6" />
<line x1="322.40" y1="162.00" x2="322.40" y2="171.00" stroke="#666" stroke-width="0.6" />
<line x1="325.00" y1="162.00" x2="325.00" y2="171.00" stroke="#666" stroke-width="0.6" />
<line x1="327.60" y1="162.00" x2="327.60" y2="171.00" stroke="#666" stroke-width="0.6" />
<line x1="330.20" y1="162.00" x2="330.20" y2="171.00" stroke="#666" stroke-width="0.6" />
<line x1="332.80" y1="162.00" x2="332.80" y2="171.00" stroke="#666" stroke-width="0.6" />
<line x1="335.40" y1="162.00" x2="335.40" y2="171.00" stroke="#666" stroke-width="0.6" />
<line x1="338.00" y1="162.00" x2="338.00" y2="171.00" stroke="#666" stroke-width="0.6" />
<line x1="340.60" y1="162.00" x2="340.60" y2="171.00" stroke="#666" stroke-width="0.6" />
<line x1="343.20" y1="162.00" x2="343.20" y2="171.00" stroke="#666" stroke-width="0.6" />
<line x1="345.80" y1="162.00" x2="345.80" y2="171.00" stroke="#666" stroke-width="0.6" />
<line x1="348.40" y1="162.00" x2="348.40" y2="171.00" stroke="#666" stroke-width="0.6" />
<line x1="351.00" y1="162.00" x2="351.00" y2="171.00" stroke="#666" stroke-width="0.6" />
<path d="M310,161.8 H354 C360.5,161.8 360.5,171.3 354,171.3 H311 C305,171.4 303.5,176.4 306,182.4 C310,191.4 320,199.1 334.3,200.1" fill="none" stroke="#8e6b3e" stroke-width="0.9"/>
<path d="M245,179.4 C244,173.4 258,171.9 262.5,175.4 C265,177.4 264,182.4 260,183.9 C258,185.9 254,185.9 252,184.4 C248,184.9 245,183.4 245,179.4Z" fill="#1f2f8e"/>
<path d="M263,178.9 C271,178.9 278,176.9 284,172.9" fill="none" stroke="#8a8a8a" stroke-width="0.7"/>
<text x="254.30" y="181.70" font-size="6.3" text-anchor="middle" fill="#ffffff" font-weight="normal" font-style="normal" >UGI</text>
<text x="270.50" y="128.00" font-size="7.2" text-anchor="middle" fill="#1a1a1a" font-weight="normal" font-style="normal" class="b2">APOBEC3A</text>
<text x="280.00" y="146.40" font-size="6.5" text-anchor="middle" fill="#2a3a4a" font-weight="normal" font-style="normal" class="b2">nCas9 (D10A)</text>
<text x="339.00" y="178.80" font-size="7.1" text-anchor="middle" fill="#2a3a4a" font-weight="normal" font-style="normal" class="b2">sgRNA</text>
<text x="220.80" y="137.50" font-size="7.2" text-anchor="start" fill="#3a3a3a" font-weight="normal" font-style="normal" >5&#8242;</text>
<text x="220.80" y="149.80" font-size="7.2" text-anchor="start" fill="#3a3a3a" font-weight="normal" font-style="normal" >3&#8242;</text>
<text x="238.20" y="163.00" font-size="7.2" text-anchor="start" fill="#3a3a3a" font-weight="normal" font-style="normal" >5&#8242;</text>
<text x="362.30" y="137.60" font-size="7.2" text-anchor="start" fill="#3a3a3a" font-weight="normal" font-style="normal" >3&#8242;</text>
<text x="362.30" y="149.70" font-size="7.2" text-anchor="start" fill="#3a3a3a" font-weight="normal" font-style="normal" >5&#8242;</text>
<text x="336.20" y="203.60" font-size="7.2" text-anchor="start" fill="#3a3a3a" font-weight="normal" font-style="normal" >3&#8242;</text>
<text transform="translate(1.0,205.6) scale(0.85,1.0)" font-size="16.8" font-weight="bold" fill="#000">b</text>
<text x="20.80" y="222.60" font-size="8.6" text-anchor="start" fill="#231f20" font-weight="normal" font-style="normal" class="b">PBE</text>
<path d="M23.00,231.60H42.40V226.00L48.40,236.40L42.40,246.80V241.90H23.00Z" fill="#fbd6bf" stroke="#c79c7f" stroke-width="0.6"/>
<text x="33.20" y="239.05" font-size="6.4" text-anchor="middle" fill="#3a2a20" font-weight="normal" font-style="normal" >Ubi-1</text>
<rect x="48.40" y="230.40" width="15.10" height="11.90" fill="#9ccd3c" stroke="#555" stroke-width="0.45" />
<text x="55.95" y="238.65" font-size="6.4" text-anchor="middle" fill="#1a1a1a" font-weight="normal" font-style="normal" >NLS</text>
<rect x="63.50" y="230.40" width="37.20" height="11.90" fill="#d5de2c" stroke="#555" stroke-width="0.45" />
<text x="82.10" y="238.65" font-size="6.4" text-anchor="middle" fill="#1a1a1a" font-weight="normal" font-style="normal" >APOBEC1</text>
<rect x="100.70" y="230.40" width="20.30" height="11.90" fill="#43b39a" stroke="#555" stroke-width="0.45" />
<text x="110.85" y="238.65" font-size="6.4" text-anchor="middle" fill="#1a1a1a" font-weight="normal" font-style="normal" >XTEN</text>
<rect x="121.00" y="230.40" width="78.30" height="11.90" fill="#b9d2e8" stroke="#555" stroke-width="0.45" />
<text x="160.15" y="238.65" font-size="6.4" text-anchor="middle" fill="#3a4a5a" font-weight="normal" font-style="normal" >nCas9 (D10A)</text>
<rect x="199.30" y="230.40" width="15.60" height="11.90" fill="#9ccd3c" stroke="#555" stroke-width="0.45" />
<text x="207.10" y="238.65" font-size="6.4" text-anchor="middle" fill="#1a1a1a" font-weight="normal" font-style="normal" >NLS</text>
<rect x="214.90" y="230.40" width="23.30" height="11.90" fill="#1b1f8e" stroke="#555" stroke-width="0.45" />
<text x="226.55" y="238.65" font-size="6.4" text-anchor="middle" fill="#ffffff" font-weight="normal" font-style="normal" >UGI</text>
<rect x="238.20" y="230.40" width="14.70" height="11.90" fill="#9ccd3c" stroke="#555" stroke-width="0.45" />
<text x="245.55" y="238.65" font-size="6.4" text-anchor="middle" fill="#1a1a1a" font-weight="normal" font-style="normal" >NLS</text>
<rect x="252.90" y="230.40" width="38.00" height="11.90" fill="#575757" stroke="#555" stroke-width="0.45" />
<text x="271.90" y="238.65" font-size="6.4" text-anchor="middle" fill="#ffffff" font-weight="normal" font-style="normal" >CaMV Term</text>
<text x="20.80" y="275.30" font-size="8.6" text-anchor="start" fill="#231f20" font-weight="normal" font-style="normal" class="b">A3A-PBE</text>
<path d="M22.00,284.30H42.60V279.90L48.60,289.20L42.60,298.50V294.10H22.00Z" fill="#fbd6bf" stroke="#c79c7f" stroke-width="0.6"/>
<text x="32.80" y="291.50" font-size="6.4" text-anchor="middle" fill="#3a2a20" font-weight="normal" font-style="normal" >Ubi-1</text>
<rect x="48.60" y="283.50" width="40.70" height="11.30" fill="#d5de2c" stroke="#555" stroke-width="0.45" />
<text x="68.95" y="291.45" font-size="6.4" text-anchor="middle" fill="#1a1a1a" font-weight="normal" font-style="normal" >APOBEC3A</text>
<rect x="89.30" y="283.50" width="21.70" height="11.30" fill="#43b39a" stroke="#555" stroke-width="0.45" />
<text x="100.15" y="291.45" font-size="6.4" text-anchor="middle" fill="#1a1a1a" font-weight="normal" font-style="normal" >XTEN</text>
<rect x="111.00" y="283.50" width="82.40" height="11.30" fill="#b9d2e8" stroke="#555" stroke-width="0.45" />
<text x="152.20" y="291.45" font-size="6.4" text-anchor="middle" fill="#3a4a5a" font-weight="normal" font-style="normal" >nCas9 (D10A)</text>
<rect x="193.40" y="283.50" width="17.00" height="11.30" fill="#9ccd3c" stroke="#555" stroke-width="0.45" />
<text x="201.90" y="291.45" font-size="6.4" text-anchor="middle" fill="#1a1a1a" font-weight="normal" font-style="normal" >NLS</text>
<rect x="210.40" y="283.50" width="23.30" height="11.30" fill="#1b1f8e" stroke="#555" stroke-width="0.45" />
<text x="222.05" y="291.45" font-size="6.4" text-anchor="middle" fill="#ffffff" font-weight="normal" font-style="normal" >UGI</text>
<rect x="233.70" y="283.50" width="16.70" height="11.30" fill="#9ccd3c" stroke="#555" stroke-width="0.45" />
<text x="242.05" y="291.45" font-size="6.4" text-anchor="middle" fill="#1a1a1a" font-weight="normal" font-style="normal" >NLS</text>
<rect x="250.40" y="283.50" width="40.00" height="11.30" fill="#575757" stroke="#555" stroke-width="0.45" />
<text x="270.40" y="291.45" font-size="6.4" text-anchor="middle" fill="#ffffff" font-weight="normal" font-style="normal" >CaMV Term</text>
<text x="20.60" y="326.00" font-size="8.7" text-anchor="start" fill="#231f20" font-weight="normal" font-style="normal" class="b">A3A-Gam</text>
<path d="M22.00,337.00H43.60V331.60L49.60,340.90L43.60,350.20V346.50H22.00Z" fill="#fbd6bf" stroke="#c79c7f" stroke-width="0.6"/>
<text x="33.30" y="344.05" font-size="6.4" text-anchor="middle" fill="#3a2a20" font-weight="normal" font-style="normal" >Ubi-1</text>
<rect x="49.60" y="336.00" width="23.40" height="11.00" fill="#fcd03a" stroke="#555" stroke-width="0.45" />
<text x="61.30" y="343.80" font-size="6.4" text-anchor="middle" fill="#1a1a1a" font-weight="normal" font-style="normal" >Gam</text>
<rect x="73.00" y="336.00" width="20.40" height="11.00" fill="#43b39a" stroke="#555" stroke-width="0.45" />
<text x="83.20" y="343.80" font-size="6.4" text-anchor="middle" fill="#1a1a1a" font-weight="normal" font-style="normal" >XTEN</text>
<rect x="93.40" y="336.00" width="38.00" height="11.00" fill="#d5de2c" stroke="#555" stroke-width="0.45" />
<text x="112.40" y="343.80" font-size="6.4" text-anchor="middle" fill="#1a1a1a" font-weight="normal" font-style="normal" >APOBEC3A</text>
<rect x="131.40" y="336.00" width="21.90" height="11.00" fill="#5cc3a4" stroke="#555" stroke-width="0.45" />
<text x="142.35" y="343.80" font-size="6.4" text-anchor="middle" fill="#1a1a1a" font-weight="normal" font-style="normal" >32 aa</text>
<rect x="153.30" y="336.00" width="73.40" height="11.00" fill="#b9d2e8" stroke="#555" stroke-width="0.45" />
<text x="190.00" y="343.80" font-size="6.4" text-anchor="middle" fill="#3a4a5a" font-weight="normal" font-style="normal" >nCas9 (D10A)</text>
<rect x="226.70" y="336.00" width="15.50" height="11.00" fill="#9ccd3c" stroke="#555" stroke-width="0.45" />
<text x="234.45" y="343.80" font-size="6.4" text-anchor="middle" fill="#1a1a1a" font-weight="normal" font-style="normal" >NLS</text>
<rect x="242.20" y="336.00" width="16.00" height="11.00" fill="#6fcdb0" stroke="#555" stroke-width="0.45" />
<text x="250.20" y="343.80" font-size="6.4" text-anchor="middle" fill="#1a1a1a" font-weight="normal" font-style="normal" >9 aa</text>
<rect x="258.20" y="336.00" width="23.40" height="11.00" fill="#1b1f8e" stroke="#555" stroke-width="0.45" />
<text x="269.90" y="343.80" font-size="6.4" text-anchor="middle" fill="#ffffff" font-weight="normal" font-style="normal" >UGI</text>
<rect x="281.60" y="336.00" width="16.10" height="11.00" fill="#6fcdb0" stroke="#555" stroke-width="0.45" />
<text x="289.65" y="343.80" font-size="6.4" text-anchor="middle" fill="#1a1a1a" font-weight="normal" font-style="normal" >9 aa</text>
<rect x="297.70" y="336.00" width="22.40" height="11.00" fill="#1b1f8e" stroke="#555" stroke-width="0.45" />
<text x="308.90" y="343.80" font-size="6.4" text-anchor="middle" fill="#ffffff" font-weight="normal" font-style="normal" >UGI</text>
<rect x="320.10" y="336.00" width="16.10" height="11.00" fill="#9ccd3c" stroke="#555" stroke-width="0.45" />
<text x="328.15" y="343.80" font-size="6.4" text-anchor="middle" fill="#1a1a1a" font-weight="normal" font-style="normal" >NLS</text>
<rect x="336.20" y="336.00" width="40.00" height="11.00" fill="#575757" stroke="#555" stroke-width="0.45" />
<text x="356.20" y="343.80" font-size="6.4" text-anchor="middle" fill="#ffffff" font-weight="normal" font-style="normal" >CaMV Term</text>
<text transform="translate(406.9,14.5) scale(0.82,1.0)" font-size="18.0" font-weight="bold" fill="#000">c</text>
<defs><filter id="glow" x="-20%" y="-20%" width="140%" height="140%"><feGaussianBlur stdDeviation="0.55"/></filter><clipPath id="c1"><rect x="430.7" y="15.2" width="97.8" height="72.6"/></clipPath><clipPath id="c2"><rect x="533.2" y="15.2" width="97.6" height="72.8"/></clipPath><clipPath id="c3"><rect x="430.5" y="106.2" width="97.5" height="73.4"/></clipPath><clipPath id="c4"><rect x="533.2" y="106.1" width="97.6" height="73.5"/></clipPath></defs>
<defs><filter id="glow2" x="-20%" y="-20%" width="140%" height="140%"><feGaussianBlur stdDeviation="0.75"/></filter><filter id="glow3" x="-20%" y="-20%" width="140%" height="140%"><feGaussianBlur stdDeviation="1.2"/></filter></defs>
<rect x="430.70" y="15.20" width="97.80" height="72.60" fill="#010401" stroke="none" stroke-width="0.5" />
<g clip-path="url(#c1)" filter="url(#glow2)" opacity="1.0">
<circle cx="474.0" cy="56.8" r="0.96" fill="#33dd33" fill-opacity="0.93"/>
<circle cx="474.0" cy="55.7" r="0.98" fill="#33dd33" fill-opacity="0.81"/>
<circle cx="476.1" cy="56.2" r="0.75" fill="#33dd33" fill-opacity="0.77"/>
<circle cx="488.9" cy="44.0" r="1.24" fill="#33dd33" fill-opacity="0.83"/>
<circle cx="436.7" cy="18.8" r="0.70" fill="#33dd33" fill-opacity="0.73"/>
<circle cx="436.9" cy="18.3" r="1.02" fill="#33dd33" fill-opacity="0.82"/>
<circle cx="438.4" cy="19.3" r="0.96" fill="#33dd33" fill-opacity="0.64"/>
<circle cx="436.3" cy="17.0" r="1.35" fill="#33dd33" fill-opacity="0.85"/>
<circle cx="457.7" cy="18.8" r="0.73" fill="#33dd33" fill-opacity="0.65"/>
<circle cx="460.2" cy="19.0" r="1.18" fill="#33dd33" fill-opacity="0.61"/>
<circle cx="458.7" cy="20.5" r="0.90" fill="#33dd33" fill-opacity="0.85"/>
<circle cx="450.1" cy="64.2" r="0.85" fill="#33dd33" fill-opacity="0.51"/>
<circle cx="443.9" cy="66.5" r="0.97" fill="#33dd33" fill-opacity="0.74"/>
<circle cx="480.2" cy="85.9" r="1.14" fill="#33dd33" fill-opacity="0.56"/>
<circle cx="481.4" cy="86.1" r="0.82" fill="#33dd33" fill-opacity="0.99"/>
<circle cx="480.1" cy="87.8" r="1.41" fill="#33dd33" fill-opacity="0.61"/>
<circle cx="493.8" cy="23.5" r="0.95" fill="#33dd33" fill-opacity="0.50"/>
<circle cx="492.6" cy="22.9" r="0.90" fill="#33dd33" fill-opacity="0.54"/>
<circle cx="432.2" cy="42.0" r="0.74" fill="#33dd33" fill-opacity="0.79"/>
<circle cx="468.5" cy="60.7" r="0.79" fill="#33dd33" fill-opacity="0.81"/>
<circle cx="492.2" cy="55.4" r="0.91" fill="#33dd33" fill-opacity="0.74"/>
<circle cx="441.4" cy="52.4" r="1.24" fill="#33dd33" fill-opacity="0.70"/>
<circle cx="479.2" cy="53.3" r="0.74" fill="#33dd33" fill-opacity="0.74"/>
<circle cx="480.0" cy="53.7" r="0.72" fill="#33dd33" fill-opacity="0.61"/>
<circle cx="437.5" cy="45.1" r="0.71" fill="#33dd33" fill-opacity="0.64"/>
<circle cx="439.7" cy="25.2" r="0.86" fill="#33dd33" fill-opacity="0.87"/>
<circle cx="488.4" cy="82.3" r="0.88" fill="#33dd33" fill-opacity="0.66"/>
<circle cx="438.0" cy="20.1" r="0.74" fill="#33dd33" fill-opacity="0.54"/>
<circle cx="434.6" cy="83.7" r="1.30" fill="#33dd33" fill-opacity="0.96"/>
<circle cx="434.8" cy="84.0" r="1.43" fill="#33dd33" fill-opacity="0.94"/>
<circle cx="515.1" cy="56.8" r="0.90" fill="#33dd33" fill-opacity="0.79"/>
<circle cx="493.8" cy="87.2" r="0.86" fill="#33dd33" fill-opacity="0.97"/>
<circle cx="493.3" cy="87.4" r="0.97" fill="#33dd33" fill-opacity="0.77"/>
<circle cx="491.8" cy="88.7" r="0.85" fill="#33dd33" fill-opacity="0.54"/>
<circle cx="493.7" cy="87.3" r="0.73" fill="#33dd33" fill-opacity="0.89"/>
<circle cx="518.4" cy="41.9" r="1.11" fill="#33dd33" fill-opacity="0.76"/>
<circle cx="521.7" cy="51.4" r="0.92" fill="#33dd33" fill-opacity="0.63"/>
<circle cx="504.5" cy="29.7" r="0.79" fill="#33dd33" fill-opacity="0.96"/>
<circle cx="465.0" cy="80.2" r="0.71" fill="#33dd33" fill-opacity="0.99"/>
<circle cx="476.2" cy="83.4" r="1.12" fill="#33dd33" fill-opacity="0.75"/>
<circle cx="475.5" cy="81.0" r="1.53" fill="#33dd33" fill-opacity="0.73"/>
<circle cx="477.4" cy="82.6" r="1.39" fill="#33dd33" fill-opacity="0.52"/>
<circle cx="460.9" cy="72.7" r="0.74" fill="#33dd33" fill-opacity="0.73"/>
<circle cx="453.9" cy="25.4" r="1.12" fill="#33dd33" fill-opacity="0.72"/>
<circle cx="509.7" cy="84.8" r="0.78" fill="#33dd33" fill-opacity="0.74"/>
<circle cx="476.9" cy="67.0" r="0.82" fill="#33dd33" fill-opacity="0.67"/>
<circle cx="490.8" cy="70.1" r="1.30" fill="#33dd33" fill-opacity="0.95"/>
<circle cx="501.3" cy="24.6" r="1.12" fill="#33dd33" fill-opacity="0.95"/>
<circle cx="515.5" cy="74.1" r="0.86" fill="#33dd33" fill-opacity="0.99"/>
<circle cx="515.6" cy="72.3" r="1.31" fill="#33dd33" fill-opacity="0.96"/>
<circle cx="516.1" cy="74.5" r="0.91" fill="#33dd33" fill-opacity="0.54"/>
<circle cx="521.7" cy="34.4" r="0.87" fill="#33dd33" fill-opacity="0.54"/>
<circle cx="520.5" cy="35.1" r="1.27" fill="#33dd33" fill-opacity="0.74"/>
<circle cx="437.0" cy="73.3" r="0.86" fill="#33dd33" fill-opacity="0.89"/>
<circle cx="481.5" cy="68.3" r="0.95" fill="#33dd33" fill-opacity="0.94"/>
<circle cx="481.4" cy="68.7" r="1.26" fill="#33dd33" fill-opacity="0.72"/>
<circle cx="481.3" cy="69.0" r="1.06" fill="#33dd33" fill-opacity="0.58"/>
<circle cx="482.6" cy="68.8" r="0.81" fill="#33dd33" fill-opacity="0.84"/>
<circle cx="490.3" cy="37.3" r="1.04" fill="#33dd33" fill-opacity="0.64"/>
<circle cx="441.9" cy="15.6" r="1.04" fill="#33dd33" fill-opacity="0.52"/>
<circle cx="527.5" cy="24.1" r="0.76" fill="#33dd33" fill-opacity="0.97"/>
<circle cx="509.0" cy="44.5" r="0.99" fill="#33dd33" fill-opacity="0.67"/>
<circle cx="520.7" cy="53.3" r="0.93" fill="#33dd33" fill-opacity="0.51"/>
<circle cx="526.3" cy="17.8" r="0.70" fill="#33dd33" fill-opacity="0.64"/>
<circle cx="479.5" cy="51.5" r="1.37" fill="#33dd33" fill-opacity="0.81"/>
<circle cx="516.6" cy="16.9" r="1.34" fill="#33dd33" fill-opacity="0.81"/>
<circle cx="482.9" cy="31.1" r="1.04" fill="#33dd33" fill-opacity="0.79"/>
<circle cx="492.1" cy="40.4" r="1.10" fill="#33dd33" fill-opacity="0.95"/>
<circle cx="448.5" cy="23.2" r="1.23" fill="#33dd33" fill-opacity="0.63"/>
<circle cx="448.6" cy="21.9" r="0.93" fill="#33dd33" fill-opacity="0.89"/>
<circle cx="497.7" cy="16.5" r="1.18" fill="#33dd33" fill-opacity="0.96"/>
<circle cx="480.2" cy="70.2" r="1.18" fill="#33dd33" fill-opacity="0.59"/>
<circle cx="434.4" cy="55.3" r="1.06" fill="#33dd33" fill-opacity="0.57"/>
<circle cx="513.4" cy="85.8" r="1.08" fill="#33dd33" fill-opacity="0.57"/>
<circle cx="512.7" cy="86.7" r="0.73" fill="#33dd33" fill-opacity="0.70"/>
<circle cx="451.2" cy="42.3" r="0.71" fill="#33dd33" fill-opacity="0.60"/>
<circle cx="466.9" cy="82.1" r="0.72" fill="#33dd33" fill-opacity="0.90"/>
<circle cx="513.3" cy="78.3" r="1.07" fill="#33dd33" fill-opacity="0.60"/>
<circle cx="511.9" cy="79.5" r="1.27" fill="#33dd33" fill-opacity="0.64"/>
<circle cx="511.9" cy="78.3" r="0.75" fill="#33dd33" fill-opacity="0.97"/>
<circle cx="483.4" cy="42.1" r="0.77" fill="#33dd33" fill-opacity="0.60"/>
<circle cx="459.5" cy="23.9" r="1.43" fill="#33dd33" fill-opacity="0.52"/>
<circle cx="459.9" cy="21.6" r="0.84" fill="#33dd33" fill-opacity="0.61"/>
<circle cx="460.2" cy="21.7" r="0.72" fill="#33dd33" fill-opacity="0.76"/>
<circle cx="460.4" cy="21.4" r="0.74" fill="#33dd33" fill-opacity="0.70"/>
<circle cx="441.3" cy="32.4" r="1.00" fill="#33dd33" fill-opacity="0.88"/>
<circle cx="456.0" cy="35.2" r="1.04" fill="#33dd33" fill-opacity="0.71"/>
<circle cx="440.4" cy="47.5" r="1.05" fill="#33dd33" fill-opacity="0.83"/>
<circle cx="522.3" cy="43.2" r="1.04" fill="#33dd33" fill-opacity="0.80"/>
<circle cx="521.9" cy="43.3" r="0.83" fill="#33dd33" fill-opacity="0.70"/>
<circle cx="523.8" cy="43.7" r="0.99" fill="#33dd33" fill-opacity="0.63"/>
<circle cx="504.6" cy="16.8" r="0.71" fill="#33dd33" fill-opacity="0.58"/>
<circle cx="502.5" cy="18.6" r="1.42" fill="#33dd33" fill-opacity="0.87"/>
<circle cx="505.0" cy="16.9" r="1.48" fill="#33dd33" fill-opacity="0.54"/>
<circle cx="503.1" cy="17.2" r="0.98" fill="#33dd33" fill-opacity="0.99"/>
<circle cx="522.4" cy="67.7" r="1.52" fill="#33dd33" fill-opacity="0.91"/>
<circle cx="491.8" cy="48.3" r="0.71" fill="#33dd33" fill-opacity="0.76"/>
<circle cx="496.0" cy="48.3" r="1.08" fill="#33dd33" fill-opacity="0.71"/>
<circle cx="527.7" cy="84.4" r="0.98" fill="#33dd33" fill-opacity="0.75"/>
<circle cx="528.6" cy="85.0" r="1.36" fill="#33dd33" fill-opacity="0.64"/>
<circle cx="499.1" cy="29.0" r="0.80" fill="#33dd33" fill-opacity="0.98"/>
<circle cx="449.9" cy="64.8" r="0.70" fill="#33dd33" fill-opacity="0.63"/>
<circle cx="453.9" cy="35.4" r="0.75" fill="#33dd33" fill-opacity="0.62"/>
<circle cx="452.4" cy="34.3" r="0.88" fill="#33dd33" fill-opacity="0.67"/>
<circle cx="452.3" cy="36.4" r="1.39" fill="#33dd33" fill-opacity="0.90"/>
<circle cx="452.3" cy="36.1" r="1.35" fill="#33dd33" fill-opacity="0.88"/>
<circle cx="468.9" cy="26.1" r="1.35" fill="#33dd33" fill-opacity="0.80"/>
<circle cx="511.5" cy="28.5" r="1.08" fill="#33dd33" fill-opacity="0.73"/>
<circle cx="471.7" cy="55.6" r="0.84" fill="#33dd33" fill-opacity="0.89"/>
<circle cx="472.4" cy="57.1" r="1.16" fill="#33dd33" fill-opacity="0.54"/>
<circle cx="471.9" cy="56.0" r="1.19" fill="#33dd33" fill-opacity="0.64"/>
<circle cx="501.7" cy="41.8" r="1.21" fill="#33dd33" fill-opacity="0.78"/>
<circle cx="521.4" cy="47.7" r="0.96" fill="#33dd33" fill-opacity="0.61"/>
<circle cx="521.0" cy="45.6" r="1.02" fill="#33dd33" fill-opacity="0.54"/>
<circle cx="520.9" cy="47.7" r="1.17" fill="#33dd33" fill-opacity="0.79"/>
<circle cx="466.7" cy="43.5" r="1.09" fill="#33dd33" fill-opacity="0.59"/>
<circle cx="514.3" cy="74.1" r="0.71" fill="#33dd33" fill-opacity="0.58"/>
<circle cx="513.0" cy="45.9" r="0.84" fill="#33dd33" fill-opacity="0.77"/>
<circle cx="441.0" cy="38.0" r="1.15" fill="#33dd33" fill-opacity="0.55"/>
<circle cx="499.9" cy="52.1" r="1.27" fill="#33dd33" fill-opacity="0.70"/>
<circle cx="500.5" cy="51.4" r="1.17" fill="#33dd33" fill-opacity="0.75"/>
<circle cx="500.1" cy="51.7" r="1.21" fill="#33dd33" fill-opacity="0.96"/>
<circle cx="496.3" cy="77.2" r="1.41" fill="#33dd33" fill-opacity="0.98"/>
<circle cx="495.7" cy="76.9" r="1.21" fill="#33dd33" fill-opacity="0.90"/>
<circle cx="444.7" cy="69.1" r="1.18" fill="#33dd33" fill-opacity="0.66"/>
<circle cx="444.9" cy="69.7" r="0.82" fill="#33dd33" fill-opacity="0.94"/>
<circle cx="446.3" cy="70.3" r="0.84" fill="#33dd33" fill-opacity="0.58"/>
<circle cx="504.4" cy="16.4" r="1.31" fill="#33dd33" fill-opacity="0.66"/>
<circle cx="488.2" cy="58.8" r="1.01" fill="#33dd33" fill-opacity="0.72"/>
<circle cx="519.8" cy="83.3" r="1.48" fill="#33dd33" fill-opacity="0.78"/>
<circle cx="470.1" cy="84.6" r="1.28" fill="#33dd33" fill-opacity="0.55"/>
<circle cx="452.8" cy="23.6" r="1.30" fill="#33dd33" fill-opacity="0.89"/>
<circle cx="453.1" cy="26.2" r="1.46" fill="#33dd33" fill-opacity="0.95"/>
<circle cx="451.7" cy="26.1" r="0.96" fill="#33dd33" fill-opacity="0.62"/>
<circle cx="450.9" cy="26.2" r="0.93" fill="#33dd33" fill-opacity="0.89"/>
<circle cx="508.9" cy="25.5" r="0.82" fill="#33dd33" fill-opacity="0.77"/>
<circle cx="511.0" cy="25.7" r="0.70" fill="#33dd33" fill-opacity="0.91"/>
<circle cx="510.6" cy="23.5" r="0.72" fill="#33dd33" fill-opacity="0.63"/>
<circle cx="511.3" cy="25.0" r="0.98" fill="#33dd33" fill-opacity="0.73"/>
<circle cx="515.4" cy="37.1" r="0.77" fill="#33dd33" fill-opacity="0.84"/>
<circle cx="514.5" cy="38.6" r="0.71" fill="#33dd33" fill-opacity="0.71"/>
<circle cx="514.3" cy="37.4" r="1.50" fill="#33dd33" fill-opacity="0.66"/>
<circle cx="528.2" cy="63.6" r="0.72" fill="#33dd33" fill-opacity="0.57"/>
<circle cx="503.7" cy="72.1" r="0.95" fill="#33dd33" fill-opacity="0.93"/>
<circle cx="458.8" cy="23.1" r="0.78" fill="#33dd33" fill-opacity="0.81"/>
<circle cx="458.9" cy="23.1" r="1.04" fill="#33dd33" fill-opacity="0.65"/>
<circle cx="458.5" cy="24.1" r="1.16" fill="#33dd33" fill-opacity="0.63"/>
<circle cx="459.6" cy="24.1" r="0.86" fill="#33dd33" fill-opacity="0.97"/>
<circle cx="463.1" cy="75.2" r="0.74" fill="#33dd33" fill-opacity="0.55"/>
<circle cx="446.9" cy="45.9" r="1.20" fill="#33dd33" fill-opacity="0.55"/>
<circle cx="447.8" cy="45.4" r="0.94" fill="#33dd33" fill-opacity="0.89"/>
<circle cx="447.4" cy="43.3" r="1.46" fill="#33dd33" fill-opacity="0.57"/>
<circle cx="449.6" cy="44.8" r="1.19" fill="#33dd33" fill-opacity="0.74"/>
<circle cx="501.8" cy="59.7" r="1.30" fill="#33dd33" fill-opacity="0.62"/>
<circle cx="456.2" cy="28.9" r="0.95" fill="#33dd33" fill-opacity="0.78"/>
<circle cx="459.5" cy="22.2" r="1.27" fill="#33dd33" fill-opacity="0.95"/>
<circle cx="460.0" cy="24.1" r="1.00" fill="#33dd33" fill-opacity="0.57"/>
<circle cx="460.4" cy="21.7" r="1.02" fill="#33dd33" fill-opacity="0.86"/>
<circle cx="523.1" cy="60.7" r="0.72" fill="#33dd33" fill-opacity="0.62"/>
<circle cx="462.9" cy="82.6" r="0.97" fill="#33dd33" fill-opacity="0.56"/>
<circle cx="519.1" cy="54.7" r="1.06" fill="#33dd33" fill-opacity="0.63"/>
<circle cx="510.7" cy="58.9" r="1.34" fill="#33dd33" fill-opacity="0.64"/>
<circle cx="486.8" cy="75.5" r="1.04" fill="#33dd33" fill-opacity="0.54"/>
<circle cx="527.2" cy="83.4" r="0.85" fill="#33dd33" fill-opacity="0.84"/>
<circle cx="488.6" cy="73.6" r="0.78" fill="#33dd33" fill-opacity="0.73"/>
<circle cx="486.4" cy="27.8" r="0.82" fill="#33dd33" fill-opacity="0.78"/>
<circle cx="434.4" cy="63.9" r="1.50" fill="#33dd33" fill-opacity="0.80"/>
<circle cx="492.7" cy="66.3" r="0.99" fill="#33dd33" fill-opacity="1.00"/>
<circle cx="491.9" cy="66.5" r="0.92" fill="#33dd33" fill-opacity="0.72"/>
<circle cx="491.5" cy="66.5" r="1.02" fill="#33dd33" fill-opacity="0.76"/>
<circle cx="462.8" cy="18.6" r="1.23" fill="#33dd33" fill-opacity="0.80"/>
<circle cx="460.9" cy="19.0" r="1.09" fill="#33dd33" fill-opacity="0.53"/>
<circle cx="460.7" cy="19.8" r="1.00" fill="#33dd33" fill-opacity="0.70"/>
<circle cx="482.2" cy="32.6" r="0.91" fill="#33dd33" fill-opacity="0.62"/>
<circle cx="525.7" cy="63.3" r="1.06" fill="#33dd33" fill-opacity="0.58"/>
<circle cx="525.3" cy="62.4" r="0.74" fill="#33dd33" fill-opacity="0.54"/>
<circle cx="525.1" cy="62.9" r="1.40" fill="#33dd33" fill-opacity="0.79"/>
<circle cx="501.9" cy="16.9" r="0.95" fill="#33dd33" fill-opacity="0.73"/>
<circle cx="498.4" cy="32.0" r="0.96" fill="#33dd33" fill-opacity="0.66"/>
<circle cx="507.8" cy="70.7" r="0.84" fill="#33dd33" fill-opacity="0.96"/>
<circle cx="506.6" cy="70.6" r="1.35" fill="#33dd33" fill-opacity="0.68"/>
<circle cx="516.7" cy="87.5" r="1.13" fill="#33dd33" fill-opacity="0.60"/>
<circle cx="441.1" cy="67.9" r="1.43" fill="#33dd33" fill-opacity="0.93"/>
<circle cx="498.8" cy="83.3" r="0.72" fill="#33dd33" fill-opacity="0.61"/>
<circle cx="449.9" cy="28.3" r="1.16" fill="#33dd33" fill-opacity="0.90"/>
<circle cx="517.2" cy="58.0" r="0.84" fill="#33dd33" fill-opacity="0.96"/>
<circle cx="494.5" cy="20.3" r="1.45" fill="#33dd33" fill-opacity="0.54"/>
<circle cx="493.1" cy="21.9" r="1.08" fill="#33dd33" fill-opacity="0.77"/>
<circle cx="492.4" cy="20.8" r="0.76" fill="#33dd33" fill-opacity="0.99"/>
<circle cx="502.4" cy="18.0" r="1.53" fill="#33dd33" fill-opacity="0.52"/>
<circle cx="502.5" cy="16.3" r="0.90" fill="#33dd33" fill-opacity="0.96"/>
<circle cx="485.1" cy="62.0" r="1.15" fill="#33dd33" fill-opacity="0.89"/>
<circle cx="513.4" cy="64.9" r="1.49" fill="#33dd33" fill-opacity="0.59"/>
<circle cx="490.2" cy="32.3" r="1.28" fill="#33dd33" fill-opacity="0.89"/>
<circle cx="478.5" cy="31.3" r="1.00" fill="#33dd33" fill-opacity="0.52"/>
<circle cx="486.7" cy="78.6" r="0.75" fill="#33dd33" fill-opacity="0.51"/>
<circle cx="474.3" cy="34.5" r="0.73" fill="#33dd33" fill-opacity="0.59"/>
<circle cx="472.6" cy="34.1" r="1.22" fill="#33dd33" fill-opacity="0.81"/>
<circle cx="499.2" cy="74.7" r="1.27" fill="#33dd33" fill-opacity="0.75"/>
<circle cx="498.7" cy="75.2" r="0.90" fill="#33dd33" fill-opacity="0.62"/>
<circle cx="498.2" cy="74.6" r="1.09" fill="#33dd33" fill-opacity="0.73"/>
<circle cx="500.5" cy="65.2" r="0.99" fill="#33dd33" fill-opacity="0.88"/>
<circle cx="497.6" cy="65.5" r="0.96" fill="#33dd33" fill-opacity="0.87"/>
<circle cx="517.8" cy="25.5" r="0.84" fill="#33dd33" fill-opacity="0.71"/>
<circle cx="529.2" cy="70.4" r="0.84" fill="#33dd33" fill-opacity="0.56"/>
<circle cx="527.5" cy="72.0" r="0.72" fill="#33dd33" fill-opacity="0.61"/>
<circle cx="521.0" cy="31.1" r="1.08" fill="#33dd33" fill-opacity="1.00"/>
<circle cx="520.9" cy="79.1" r="0.97" fill="#33dd33" fill-opacity="0.70"/>
<circle cx="519.4" cy="78.5" r="1.29" fill="#33dd33" fill-opacity="0.61"/>
<circle cx="484.4" cy="27.1" r="0.78" fill="#33dd33" fill-opacity="0.73"/>
<circle cx="526.5" cy="63.8" r="1.04" fill="#33dd33" fill-opacity="0.71"/>
<circle cx="527.9" cy="65.2" r="1.49" fill="#33dd33" fill-opacity="0.81"/>
<circle cx="480.8" cy="56.4" r="0.79" fill="#33dd33" fill-opacity="0.55"/>
<circle cx="506.7" cy="25.2" r="1.35" fill="#33dd33" fill-opacity="0.56"/>
<circle cx="474.7" cy="77.2" r="0.81" fill="#33dd33" fill-opacity="0.94"/>
<circle cx="490.2" cy="50.7" r="1.01" fill="#33dd33" fill-opacity="0.56"/>
<circle cx="477.5" cy="65.6" r="1.04" fill="#33dd33" fill-opacity="0.66"/>
<circle cx="516.8" cy="75.8" r="0.96" fill="#33dd33" fill-opacity="0.57"/>
<circle cx="440.7" cy="42.1" r="0.74" fill="#33dd33" fill-opacity="0.92"/>
<circle cx="431.0" cy="71.1" r="1.17" fill="#33dd33" fill-opacity="0.96"/>
<circle cx="432.9" cy="69.7" r="1.16" fill="#33dd33" fill-opacity="0.98"/>
<circle cx="431.6" cy="70.2" r="1.13" fill="#33dd33" fill-opacity="0.54"/>
<circle cx="431.3" cy="70.5" r="0.71" fill="#33dd33" fill-opacity="0.69"/>
<circle cx="458.1" cy="26.7" r="0.98" fill="#33dd33" fill-opacity="0.58"/>
<circle cx="439.8" cy="40.0" r="0.75" fill="#33dd33" fill-opacity="0.79"/>
<circle cx="499.2" cy="16.9" r="0.89" fill="#33dd33" fill-opacity="0.53"/>
<circle cx="479.2" cy="57.7" r="0.86" fill="#33dd33" fill-opacity="0.63"/>
<circle cx="517.9" cy="56.3" r="1.16" fill="#33dd33" fill-opacity="0.59"/>
<circle cx="524.1" cy="41.5" r="1.48" fill="#33dd33" fill-opacity="0.89"/>
<circle cx="470.9" cy="45.4" r="1.34" fill="#33dd33" fill-opacity="0.94"/>
<circle cx="434.4" cy="25.1" r="0.85" fill="#33dd33" fill-opacity="0.68"/>
<circle cx="449.5" cy="31.8" r="0.80" fill="#33dd33" fill-opacity="0.50"/>
<circle cx="454.1" cy="51.0" r="1.04" fill="#33dd33" fill-opacity="0.81"/>
<circle cx="525.5" cy="39.4" r="1.41" fill="#33dd33" fill-opacity="0.66"/>
<circle cx="498.8" cy="84.6" r="0.86" fill="#33dd33" fill-opacity="0.84"/>
<circle cx="498.3" cy="85.2" r="0.93" fill="#33dd33" fill-opacity="0.68"/>
<circle cx="495.4" cy="42.5" r="1.24" fill="#33dd33" fill-opacity="0.94"/>
<circle cx="495.0" cy="41.5" r="1.41" fill="#33dd33" fill-opacity="0.66"/>
<circle cx="494.3" cy="41.2" r="1.18" fill="#33dd33" fill-opacity="0.52"/>
<circle cx="493.6" cy="42.2" r="0.98" fill="#33dd33" fill-opacity="0.67"/>
<circle cx="498.6" cy="33.6" r="0.89" fill="#33dd33" fill-opacity="0.84"/>
<circle cx="450.7" cy="56.1" r="1.53" fill="#33dd33" fill-opacity="0.82"/>
<circle cx="457.0" cy="26.9" r="1.12" fill="#33dd33" fill-opacity="0.65"/>
<circle cx="476.1" cy="66.1" r="0.82" fill="#33dd33" fill-opacity="0.64"/>
<circle cx="475.8" cy="64.5" r="0.90" fill="#33dd33" fill-opacity="0.84"/>
<circle cx="528.2" cy="78.4" r="0.88" fill="#33dd33" fill-opacity="0.77"/>
<circle cx="520.1" cy="76.7" r="0.89" fill="#33dd33" fill-opacity="0.65"/>
<circle cx="519.5" cy="76.5" r="0.83" fill="#33dd33" fill-opacity="0.70"/>
<circle cx="526.6" cy="43.5" r="1.04" fill="#33dd33" fill-opacity="0.90"/>
<circle cx="441.2" cy="83.0" r="0.99" fill="#33dd33" fill-opacity="0.56"/>
<circle cx="486.0" cy="25.6" r="0.82" fill="#33dd33" fill-opacity="0.61"/>
<circle cx="456.1" cy="18.9" r="1.42" fill="#33dd33" fill-opacity="0.65"/>
<circle cx="478.0" cy="87.6" r="1.39" fill="#33dd33" fill-opacity="0.74"/>
<circle cx="469.4" cy="19.4" r="1.15" fill="#33dd33" fill-opacity="0.81"/>
<circle cx="515.3" cy="87.4" r="1.35" fill="#33dd33" fill-opacity="0.86"/>
<circle cx="447.2" cy="23.8" r="0.88" fill="#33dd33" fill-opacity="0.88"/>
<circle cx="431.0" cy="31.7" r="1.27" fill="#33dd33" fill-opacity="0.63"/>
<circle cx="431.8" cy="31.0" r="1.00" fill="#33dd33" fill-opacity="0.65"/>
<circle cx="508.4" cy="72.2" r="0.92" fill="#33dd33" fill-opacity="0.85"/>
<circle cx="508.4" cy="70.6" r="0.70" fill="#33dd33" fill-opacity="0.79"/>
<circle cx="510.1" cy="70.5" r="0.89" fill="#33dd33" fill-opacity="0.83"/>
<circle cx="493.1" cy="40.9" r="1.43" fill="#33dd33" fill-opacity="0.66"/>
<circle cx="502.8" cy="29.5" r="0.84" fill="#33dd33" fill-opacity="0.60"/>
<circle cx="501.8" cy="30.2" r="0.89" fill="#33dd33" fill-opacity="0.59"/>
<circle cx="504.6" cy="31.6" r="0.71" fill="#33dd33" fill-opacity="0.55"/>
<circle cx="502.3" cy="29.2" r="1.26" fill="#33dd33" fill-opacity="0.51"/>
<circle cx="488.3" cy="57.2" r="0.98" fill="#33dd33" fill-opacity="0.97"/>
<circle cx="517.5" cy="74.2" r="0.91" fill="#33dd33" fill-opacity="0.96"/>
<circle cx="481.2" cy="16.3" r="0.90" fill="#33dd33" fill-opacity="0.82"/>
<circle cx="482.4" cy="15.9" r="1.41" fill="#33dd33" fill-opacity="0.93"/>
<circle cx="483.1" cy="16.5" r="1.06" fill="#33dd33" fill-opacity="0.56"/>
<circle cx="481.8" cy="15.6" r="0.96" fill="#33dd33" fill-opacity="0.83"/>
<circle cx="453.2" cy="58.8" r="1.01" fill="#33dd33" fill-opacity="0.52"/>
<circle cx="488.0" cy="58.7" r="1.03" fill="#33dd33" fill-opacity="0.66"/>
<circle cx="488.9" cy="57.0" r="0.77" fill="#33dd33" fill-opacity="0.73"/>
<circle cx="525.8" cy="71.2" r="0.80" fill="#33dd33" fill-opacity="0.92"/>
<circle cx="525.4" cy="71.3" r="1.34" fill="#33dd33" fill-opacity="0.90"/>
<circle cx="436.2" cy="76.9" r="1.02" fill="#33dd33" fill-opacity="0.67"/>
<circle cx="438.4" cy="77.6" r="0.94" fill="#33dd33" fill-opacity="0.74"/>
<circle cx="437.8" cy="79.5" r="0.73" fill="#33dd33" fill-opacity="0.72"/>
<circle cx="437.8" cy="51.3" r="1.39" fill="#33dd33" fill-opacity="0.99"/>
<circle cx="510.1" cy="28.2" r="1.46" fill="#33dd33" fill-opacity="0.98"/>
<circle cx="471.4" cy="59.8" r="1.18" fill="#33dd33" fill-opacity="0.73"/>
<circle cx="494.2" cy="53.8" r="1.50" fill="#33dd33" fill-opacity="0.99"/>
<circle cx="467.7" cy="74.5" r="1.36" fill="#33dd33" fill-opacity="0.97"/>
<circle cx="451.2" cy="70.8" r="1.08" fill="#33dd33" fill-opacity="0.52"/>
<circle cx="464.3" cy="60.4" r="0.70" fill="#33dd33" fill-opacity="0.53"/>
<circle cx="515.8" cy="71.1" r="0.72" fill="#33dd33" fill-opacity="0.63"/>
<circle cx="458.0" cy="24.9" r="0.72" fill="#33dd33" fill-opacity="0.76"/>
<circle cx="443.5" cy="23.8" r="1.17" fill="#33dd33" fill-opacity="0.73"/>
<circle cx="442.0" cy="22.8" r="1.24" fill="#33dd33" fill-opacity="0.80"/>
<circle cx="471.7" cy="35.6" r="1.49" fill="#33dd33" fill-opacity="0.65"/>
<circle cx="454.6" cy="45.1" r="1.42" fill="#33dd33" fill-opacity="0.63"/>
<circle cx="510.9" cy="76.9" r="1.04" fill="#33dd33" fill-opacity="0.55"/>
<circle cx="467.2" cy="43.5" r="1.19" fill="#33dd33" fill-opacity="0.99"/>
<circle cx="465.0" cy="41.4" r="1.16" fill="#33dd33" fill-opacity="0.58"/>
<circle cx="466.7" cy="41.1" r="1.01" fill="#33dd33" fill-opacity="0.74"/>
<circle cx="467.1" cy="42.2" r="0.79" fill="#33dd33" fill-opacity="0.51"/>
<circle cx="453.2" cy="54.5" r="0.71" fill="#33dd33" fill-opacity="1.00"/>
<circle cx="521.9" cy="52.8" r="1.00" fill="#33dd33" fill-opacity="0.92"/>
<circle cx="507.7" cy="16.4" r="1.12" fill="#33dd33" fill-opacity="0.87"/>
<circle cx="507.3" cy="15.4" r="1.23" fill="#33dd33" fill-opacity="0.89"/>
<circle cx="509.7" cy="16.6" r="0.70" fill="#33dd33" fill-opacity="0.93"/>
<circle cx="508.5" cy="15.6" r="0.70" fill="#33dd33" fill-opacity="0.68"/>
<circle cx="441.6" cy="72.5" r="1.01" fill="#33dd33" fill-opacity="0.56"/>
<circle cx="439.3" cy="52.4" r="1.28" fill="#33dd33" fill-opacity="0.62"/>
<circle cx="452.0" cy="48.0" r="0.96" fill="#33dd33" fill-opacity="0.93"/>
<circle cx="445.8" cy="85.6" r="0.92" fill="#33dd33" fill-opacity="0.81"/>
<circle cx="471.1" cy="16.0" r="1.33" fill="#33dd33" fill-opacity="0.87"/>
<circle cx="482.6" cy="17.3" r="0.84" fill="#33dd33" fill-opacity="0.98"/>
<circle cx="435.2" cy="45.4" r="0.81" fill="#33dd33" fill-opacity="0.56"/>
<circle cx="479.7" cy="62.4" r="1.06" fill="#33dd33" fill-opacity="0.75"/>
<circle cx="477.8" cy="62.3" r="0.84" fill="#33dd33" fill-opacity="0.87"/>
<circle cx="472.7" cy="49.8" r="0.94" fill="#33dd33" fill-opacity="0.73"/>
<circle cx="436.7" cy="53.5" r="0.91" fill="#33dd33" fill-opacity="0.61"/>
<circle cx="461.4" cy="50.3" r="1.25" fill="#33dd33" fill-opacity="0.74"/>
<circle cx="525.2" cy="15.7" r="1.50" fill="#33dd33" fill-opacity="0.68"/>
<circle cx="460.2" cy="59.4" r="0.85" fill="#33dd33" fill-opacity="0.75"/>
<circle cx="435.9" cy="21.9" r="0.82" fill="#33dd33" fill-opacity="0.90"/>
<circle cx="470.0" cy="35.9" r="0.72" fill="#33dd33" fill-opacity="0.99"/>
<circle cx="461.7" cy="74.4" r="0.83" fill="#33dd33" fill-opacity="1.00"/>
<circle cx="461.3" cy="75.3" r="0.72" fill="#33dd33" fill-opacity="0.57"/>
<circle cx="460.9" cy="74.8" r="1.11" fill="#33dd33" fill-opacity="0.84"/>
<circle cx="461.2" cy="75.1" r="1.34" fill="#33dd33" fill-opacity="0.74"/>
<circle cx="520.0" cy="74.8" r="0.72" fill="#33dd33" fill-opacity="0.84"/>
<circle cx="496.9" cy="73.4" r="1.42" fill="#33dd33" fill-opacity="0.86"/>
<circle cx="466.9" cy="75.8" r="0.73" fill="#33dd33" fill-opacity="0.66"/>
<circle cx="465.3" cy="75.7" r="1.45" fill="#33dd33" fill-opacity="0.61"/>
<circle cx="466.6" cy="75.5" r="1.35" fill="#33dd33" fill-opacity="0.56"/>
<circle cx="465.1" cy="76.1" r="0.70" fill="#33dd33" fill-opacity="0.72"/>
<circle cx="521.5" cy="51.0" r="0.91" fill="#33dd33" fill-opacity="0.89"/>
<circle cx="447.0" cy="57.7" r="0.87" fill="#33dd33" fill-opacity="0.58"/>
<circle cx="481.6" cy="43.4" r="1.36" fill="#33dd33" fill-opacity="0.68"/>
<circle cx="526.6" cy="39.0" r="0.80" fill="#33dd33" fill-opacity="0.63"/>
<circle cx="457.1" cy="18.6" r="0.80" fill="#33dd33" fill-opacity="0.61"/>
<circle cx="455.9" cy="19.5" r="0.76" fill="#33dd33" fill-opacity="0.71"/>
<circle cx="456.2" cy="20.4" r="0.73" fill="#33dd33" fill-opacity="0.59"/>
<circle cx="479.2" cy="25.1" r="1.06" fill="#33dd33" fill-opacity="0.78"/>
<circle cx="480.6" cy="24.9" r="1.49" fill="#33dd33" fill-opacity="0.88"/>
<circle cx="478.8" cy="26.2" r="1.29" fill="#33dd33" fill-opacity="0.61"/>
<circle cx="489.9" cy="23.4" r="0.76" fill="#33dd33" fill-opacity="1.00"/>
<circle cx="491.3" cy="24.3" r="0.73" fill="#33dd33" fill-opacity="0.89"/>
<circle cx="489.2" cy="23.5" r="1.34" fill="#33dd33" fill-opacity="0.99"/>
<circle cx="490.8" cy="23.3" r="0.76" fill="#33dd33" fill-opacity="0.94"/>
<circle cx="485.5" cy="34.3" r="0.70" fill="#33dd33" fill-opacity="0.90"/>
<circle cx="468.8" cy="74.9" r="0.74" fill="#33dd33" fill-opacity="0.54"/>
<circle cx="504.1" cy="66.2" r="1.13" fill="#33dd33" fill-opacity="0.65"/>
<circle cx="494.4" cy="54.6" r="1.18" fill="#33dd33" fill-opacity="0.67"/>
<circle cx="458.5" cy="68.4" r="1.49" fill="#33dd33" fill-opacity="0.56"/>
<circle cx="456.0" cy="68.1" r="0.72" fill="#33dd33" fill-opacity="0.95"/>
<circle cx="441.0" cy="88.8" r="1.48" fill="#3be43b"/>
<circle cx="441.0" cy="86.6" r="1.73" fill="#3be43b"/>
<circle cx="444.0" cy="88.9" r="1.31" fill="#3be43b"/>
<circle cx="526.1" cy="80.7" r="1.26" fill="#3be43b"/>
<circle cx="525.4" cy="82.0" r="1.62" fill="#3be43b"/>
<circle cx="526.8" cy="81.6" r="1.36" fill="#3be43b"/>
<circle cx="524.3" cy="81.9" r="1.59" fill="#3be43b"/>
<circle cx="486.8" cy="84.8" r="1.27" fill="#3be43b"/>
<circle cx="484.3" cy="84.4" r="1.38" fill="#3be43b"/>
<circle cx="486.7" cy="84.4" r="1.63" fill="#3be43b"/>
<circle cx="486.4" cy="86.2" r="1.54" fill="#3be43b"/>
<circle cx="508.9" cy="89.3" r="1.69" fill="#3be43b"/>
<circle cx="508.6" cy="89.4" r="1.27" fill="#3be43b"/>
<circle cx="506.9" cy="89.0" r="1.23" fill="#3be43b"/>
<circle cx="506.6" cy="85.7" r="1.97" fill="#3be43b"/>
<circle cx="512.9" cy="65.9" r="1.88" fill="#3be43b"/>
<circle cx="511.3" cy="67.0" r="1.27" fill="#3be43b"/>
<circle cx="511.4" cy="64.1" r="1.37" fill="#3be43b"/>
<circle cx="510.7" cy="64.8" r="1.48" fill="#3be43b"/>
<circle cx="518.7" cy="32.1" r="1.67" fill="#3be43b"/>
<circle cx="518.4" cy="31.7" r="1.74" fill="#3be43b"/>
<circle cx="516.8" cy="26.8" r="1.37" fill="#3be43b"/>
<circle cx="515.7" cy="28.7" r="1.94" fill="#3be43b"/>
<circle cx="491.9" cy="57.2" r="1.40" fill="#3be43b"/>
<circle cx="489.6" cy="57.8" r="1.39" fill="#3be43b"/>
<circle cx="491.1" cy="59.6" r="1.78" fill="#3be43b"/>
<circle cx="488.7" cy="59.5" r="1.63" fill="#3be43b"/>
<circle cx="453.2" cy="31.7" r="1.65" fill="#3be43b"/>
<circle cx="452.9" cy="32.4" r="1.26" fill="#3be43b"/>
<circle cx="454.3" cy="31.7" r="2.00" fill="#3be43b"/>
<circle cx="452.6" cy="87.6" r="1.50" fill="#3be43b"/>
<circle cx="453.3" cy="88.5" r="1.79" fill="#3be43b"/>
<circle cx="431.8" cy="50.1" r="1.96" fill="#3be43b"/>
<circle cx="430.7" cy="51.4" r="1.25" fill="#3be43b"/>
<circle cx="431.3" cy="50.0" r="1.38" fill="#3be43b"/>
<circle cx="442.8" cy="72.1" r="1.96" fill="#3be43b"/>
<circle cx="445.6" cy="74.4" r="1.74" fill="#3be43b"/>
<circle cx="443.8" cy="73.0" r="1.96" fill="#3be43b"/>
<circle cx="443.4" cy="35.7" r="1.99" fill="#3be43b"/>
<circle cx="441.7" cy="35.3" r="1.30" fill="#3be43b"/>
<circle cx="458.7" cy="52.1" r="1.55" fill="#3be43b"/>
<circle cx="458.1" cy="51.2" r="1.27" fill="#3be43b"/>
<circle cx="459.4" cy="54.8" r="1.94" fill="#3be43b"/>
<circle cx="456.2" cy="55.0" r="1.74" fill="#3be43b"/>
<circle cx="495.0" cy="22.6" r="1.83" fill="#3be43b"/>
<circle cx="494.5" cy="22.7" r="1.68" fill="#3be43b"/>
<circle cx="494.9" cy="24.7" r="1.35" fill="#3be43b"/>
<circle cx="432.2" cy="68.8" r="1.63" fill="#3be43b"/>
<circle cx="434.4" cy="72.4" r="1.52" fill="#3be43b"/>
<circle cx="432.8" cy="72.4" r="1.22" fill="#3be43b"/>
</g>
<rect x="533.20" y="15.20" width="97.60" height="72.80" fill="#021c02" stroke="none" stroke-width="0.5" />
<g clip-path="url(#c2)" filter="url(#glow2)" opacity="0.55">
<circle cx="579.5" cy="63.1" r="0.64" fill="#2a9a2a" fill-opacity="0.51"/>
<circle cx="612.3" cy="65.5" r="0.89" fill="#2a9a2a" fill-opacity="0.83"/>
<circle cx="549.0" cy="81.2" r="1.12" fill="#2a9a2a" fill-opacity="0.54"/>
<circle cx="572.7" cy="76.5" r="0.61" fill="#2a9a2a" fill-opacity="0.96"/>
<circle cx="629.5" cy="84.1" r="0.79" fill="#2a9a2a" fill-opacity="0.57"/>
<circle cx="549.2" cy="65.9" r="0.65" fill="#2a9a2a" fill-opacity="0.91"/>
<circle cx="591.4" cy="49.9" r="0.60" fill="#2a9a2a" fill-opacity="0.86"/>
<circle cx="598.0" cy="41.1" r="1.00" fill="#2a9a2a" fill-opacity="0.84"/>
<circle cx="569.7" cy="51.0" r="0.65" fill="#2a9a2a" fill-opacity="0.69"/>
<circle cx="567.3" cy="51.5" r="0.60" fill="#2a9a2a" fill-opacity="0.84"/>
<circle cx="567.8" cy="51.2" r="0.93" fill="#2a9a2a" fill-opacity="0.88"/>
<circle cx="568.7" cy="52.7" r="0.70" fill="#2a9a2a" fill-opacity="0.72"/>
<circle cx="604.0" cy="52.6" r="0.74" fill="#2a9a2a" fill-opacity="0.73"/>
<circle cx="556.6" cy="87.2" r="0.88" fill="#2a9a2a" fill-opacity="0.59"/>
<circle cx="592.4" cy="83.4" r="0.65" fill="#2a9a2a" fill-opacity="0.90"/>
<circle cx="592.6" cy="83.2" r="0.63" fill="#2a9a2a" fill-opacity="0.68"/>
<circle cx="592.9" cy="83.5" r="1.23" fill="#2a9a2a" fill-opacity="0.94"/>
<circle cx="544.7" cy="72.3" r="0.84" fill="#2a9a2a" fill-opacity="0.68"/>
<circle cx="605.3" cy="47.9" r="0.61" fill="#2a9a2a" fill-opacity="0.67"/>
<circle cx="577.2" cy="71.8" r="0.69" fill="#2a9a2a" fill-opacity="0.84"/>
<circle cx="575.9" cy="72.7" r="1.18" fill="#2a9a2a" fill-opacity="0.71"/>
<circle cx="577.0" cy="74.1" r="1.28" fill="#2a9a2a" fill-opacity="0.78"/>
<circle cx="576.4" cy="73.1" r="1.26" fill="#2a9a2a" fill-opacity="0.88"/>
<circle cx="621.1" cy="72.7" r="0.74" fill="#2a9a2a" fill-opacity="0.68"/>
<circle cx="535.0" cy="67.8" r="1.20" fill="#2a9a2a" fill-opacity="0.96"/>
<circle cx="534.4" cy="66.3" r="0.76" fill="#2a9a2a" fill-opacity="0.55"/>
<circle cx="624.4" cy="65.4" r="0.94" fill="#2a9a2a" fill-opacity="0.56"/>
<circle cx="571.7" cy="33.1" r="0.73" fill="#2a9a2a" fill-opacity="0.84"/>
<circle cx="562.7" cy="65.0" r="0.96" fill="#2a9a2a" fill-opacity="0.72"/>
<circle cx="562.4" cy="66.1" r="0.94" fill="#2a9a2a" fill-opacity="0.74"/>
<circle cx="562.5" cy="65.0" r="0.82" fill="#2a9a2a" fill-opacity="0.94"/>
<circle cx="564.7" cy="66.4" r="1.26" fill="#2a9a2a" fill-opacity="0.68"/>
<circle cx="562.1" cy="52.8" r="1.20" fill="#2a9a2a" fill-opacity="0.67"/>
<circle cx="582.1" cy="66.6" r="1.09" fill="#2a9a2a" fill-opacity="0.52"/>
<circle cx="601.4" cy="72.8" r="0.80" fill="#2a9a2a" fill-opacity="0.53"/>
<circle cx="563.7" cy="70.7" r="1.08" fill="#2a9a2a" fill-opacity="0.95"/>
<circle cx="579.8" cy="73.5" r="0.84" fill="#2a9a2a" fill-opacity="0.71"/>
<circle cx="594.9" cy="36.8" r="0.73" fill="#2a9a2a" fill-opacity="0.56"/>
<circle cx="594.2" cy="36.1" r="0.93" fill="#2a9a2a" fill-opacity="0.89"/>
<circle cx="594.1" cy="35.4" r="0.69" fill="#2a9a2a" fill-opacity="0.70"/>
<circle cx="593.5" cy="34.9" r="0.78" fill="#2a9a2a" fill-opacity="0.90"/>
</g>
<rect x="430.50" y="106.20" width="97.50" height="73.40" fill="#010301" stroke="none" stroke-width="0.5" />
<g clip-path="url(#c3)" filter="url(#glow2)" opacity="0.85">
<circle cx="455.8" cy="156.5" r="0.83" fill="#22b022" fill-opacity="0.59"/>
<circle cx="452.5" cy="160.1" r="0.61" fill="#22b022" fill-opacity="0.61"/>
<circle cx="512.2" cy="150.9" r="0.48" fill="#22b022" fill-opacity="0.57"/>
<circle cx="510.1" cy="166.8" r="0.79" fill="#22b022" fill-opacity="0.63"/>
<circle cx="508.9" cy="166.4" r="0.76" fill="#22b022" fill-opacity="0.78"/>
<circle cx="472.4" cy="129.2" r="0.81" fill="#22b022" fill-opacity="0.90"/>
<circle cx="484.5" cy="161.1" r="0.71" fill="#22b022" fill-opacity="0.72"/>
<circle cx="481.5" cy="124.8" r="0.66" fill="#22b022" fill-opacity="0.70"/>
<circle cx="453.5" cy="123.5" r="0.52" fill="#22b022" fill-opacity="0.54"/>
<circle cx="469.1" cy="158.8" r="0.46" fill="#22b022" fill-opacity="0.75"/>
<circle cx="469.2" cy="158.2" r="0.47" fill="#22b022" fill-opacity="0.87"/>
<circle cx="503.5" cy="133.3" r="0.53" fill="#22b022" fill-opacity="0.86"/>
<circle cx="503.7" cy="132.3" r="0.66" fill="#22b022" fill-opacity="0.86"/>
<circle cx="504.2" cy="132.6" r="0.64" fill="#22b022" fill-opacity="0.80"/>
<circle cx="503.6" cy="132.5" r="0.51" fill="#22b022" fill-opacity="0.65"/>
<circle cx="441.4" cy="122.8" r="0.68" fill="#22b022" fill-opacity="0.78"/>
<circle cx="473.4" cy="131.4" r="0.40" fill="#22b022" fill-opacity="1.00"/>
<circle cx="456.7" cy="150.0" r="0.58" fill="#22b022" fill-opacity="0.68"/>
<circle cx="462.3" cy="143.5" r="0.81" fill="#22b022" fill-opacity="0.61"/>
<circle cx="462.1" cy="141.6" r="0.53" fill="#22b022" fill-opacity="0.86"/>
<circle cx="462.3" cy="142.4" r="0.55" fill="#22b022" fill-opacity="0.91"/>
<circle cx="463.4" cy="142.4" r="0.46" fill="#22b022" fill-opacity="0.89"/>
<circle cx="493.0" cy="137.4" r="0.57" fill="#22b022" fill-opacity="0.53"/>
<circle cx="494.2" cy="128.7" r="0.94" fill="#22b022" fill-opacity="0.69"/>
<circle cx="523.3" cy="117.1" r="0.52" fill="#22b022" fill-opacity="0.58"/>
<circle cx="458.9" cy="131.7" r="0.59" fill="#22b022" fill-opacity="0.79"/>
<circle cx="464.9" cy="126.8" r="0.50" fill="#22b022" fill-opacity="0.95"/>
<circle cx="465.8" cy="126.8" r="0.40" fill="#22b022" fill-opacity="0.62"/>
<circle cx="477.2" cy="133.5" r="0.79" fill="#22b022" fill-opacity="0.61"/>
<circle cx="520.4" cy="144.5" r="0.45" fill="#22b022" fill-opacity="0.70"/>
<circle cx="523.0" cy="145.1" r="0.41" fill="#22b022" fill-opacity="0.81"/>
<circle cx="520.6" cy="144.5" r="0.52" fill="#22b022" fill-opacity="0.70"/>
<circle cx="456.6" cy="134.7" r="0.74" fill="#22b022" fill-opacity="0.55"/>
<circle cx="455.7" cy="133.9" r="0.95" fill="#22b022" fill-opacity="0.90"/>
<circle cx="511.7" cy="158.8" r="0.77" fill="#22b022" fill-opacity="0.55"/>
<circle cx="476.5" cy="125.2" r="0.49" fill="#22b022" fill-opacity="0.76"/>
<circle cx="477.8" cy="127.2" r="0.46" fill="#22b022" fill-opacity="1.00"/>
<circle cx="477.5" cy="126.8" r="0.53" fill="#22b022" fill-opacity="0.58"/>
<circle cx="470.4" cy="117.6" r="0.92" fill="#22b022" fill-opacity="0.73"/>
<circle cx="510.4" cy="108.6" r="0.81" fill="#22b022" fill-opacity="0.59"/>
<circle cx="511.6" cy="108.4" r="0.49" fill="#22b022" fill-opacity="0.94"/>
<circle cx="512.3" cy="108.8" r="0.82" fill="#22b022" fill-opacity="0.61"/>
<circle cx="472.3" cy="176.6" r="0.84" fill="#22b022" fill-opacity="0.57"/>
<circle cx="434.5" cy="142.4" r="0.46" fill="#22b022" fill-opacity="0.51"/>
<circle cx="436.9" cy="144.2" r="0.60" fill="#22b022" fill-opacity="0.79"/>
<circle cx="435.8" cy="144.4" r="0.69" fill="#22b022" fill-opacity="0.80"/>
<circle cx="453.5" cy="143.6" r="0.52" fill="#22b022" fill-opacity="0.57"/>
<circle cx="443.5" cy="131.5" r="0.48" fill="#22b022" fill-opacity="0.55"/>
<circle cx="447.9" cy="113.9" r="0.43" fill="#22b022" fill-opacity="0.87"/>
<circle cx="465.2" cy="148.6" r="0.80" fill="#22b022" fill-opacity="0.76"/>
<circle cx="481.9" cy="126.8" r="0.42" fill="#22b022" fill-opacity="0.60"/>
<circle cx="505.2" cy="174.6" r="0.89" fill="#22b022" fill-opacity="0.51"/>
<circle cx="477.4" cy="171.9" r="0.47" fill="#22b022" fill-opacity="0.50"/>
<circle cx="512.4" cy="145.2" r="0.63" fill="#22b022" fill-opacity="0.51"/>
<circle cx="502.6" cy="152.9" r="0.53" fill="#22b022" fill-opacity="0.61"/>
<circle cx="502.8" cy="154.6" r="0.72" fill="#22b022" fill-opacity="0.52"/>
<circle cx="504.2" cy="155.0" r="0.86" fill="#22b022" fill-opacity="0.83"/>
<circle cx="502.6" cy="153.0" r="0.79" fill="#22b022" fill-opacity="0.93"/>
<circle cx="491.0" cy="144.3" r="0.78" fill="#22b022" fill-opacity="0.59"/>
<circle cx="471.6" cy="124.2" r="0.64" fill="#22b022" fill-opacity="0.78"/>
<circle cx="500.3" cy="113.3" r="0.44" fill="#22b022" fill-opacity="0.93"/>
<circle cx="509.3" cy="122.3" r="0.42" fill="#22b022" fill-opacity="0.72"/>
<circle cx="485.5" cy="137.7" r="0.58" fill="#22b022" fill-opacity="0.92"/>
<circle cx="487.4" cy="138.1" r="0.59" fill="#22b022" fill-opacity="0.85"/>
<circle cx="455.9" cy="106.3" r="0.40" fill="#22b022" fill-opacity="0.76"/>
<circle cx="456.3" cy="108.1" r="0.87" fill="#22b022" fill-opacity="0.51"/>
<circle cx="457.4" cy="107.5" r="0.75" fill="#22b022" fill-opacity="0.55"/>
<circle cx="457.6" cy="107.6" r="0.68" fill="#22b022" fill-opacity="0.97"/>
<circle cx="505.6" cy="142.3" r="0.81" fill="#22b022" fill-opacity="0.81"/>
<circle cx="507.5" cy="131.2" r="0.48" fill="#22b022" fill-opacity="0.78"/>
<circle cx="488.5" cy="147.0" r="0.42" fill="#22b022" fill-opacity="0.93"/>
<circle cx="487.1" cy="147.9" r="0.43" fill="#22b022" fill-opacity="0.89"/>
<circle cx="487.1" cy="146.5" r="0.40" fill="#22b022" fill-opacity="0.99"/>
<circle cx="471.9" cy="163.1" r="0.88" fill="#22b022" fill-opacity="0.70"/>
<circle cx="450.6" cy="161.5" r="0.53" fill="#22b022" fill-opacity="0.61"/>
<circle cx="516.2" cy="121.2" r="0.40" fill="#22b022" fill-opacity="0.76"/>
<circle cx="520.1" cy="143.1" r="0.41" fill="#22b022" fill-opacity="0.98"/>
<circle cx="519.8" cy="141.9" r="0.90" fill="#22b022" fill-opacity="0.76"/>
<circle cx="519.0" cy="142.1" r="0.79" fill="#22b022" fill-opacity="0.82"/>
<circle cx="470.1" cy="174.2" r="0.58" fill="#22b022" fill-opacity="0.71"/>
<circle cx="470.4" cy="173.8" r="0.79" fill="#22b022" fill-opacity="0.76"/>
<circle cx="470.5" cy="173.5" r="0.81" fill="#22b022" fill-opacity="0.99"/>
<circle cx="447.0" cy="141.1" r="0.94" fill="#22b022" fill-opacity="0.50"/>
<circle cx="506.6" cy="110.9" r="0.53" fill="#22b022" fill-opacity="0.85"/>
<circle cx="501.9" cy="134.2" r="0.95" fill="#22b022" fill-opacity="0.73"/>
<circle cx="475.5" cy="150.9" r="0.82" fill="#22b022" fill-opacity="0.79"/>
<circle cx="474.2" cy="150.0" r="0.79" fill="#22b022" fill-opacity="0.85"/>
<circle cx="509.7" cy="135.5" r="0.78" fill="#22b022" fill-opacity="0.64"/>
<circle cx="504.9" cy="138.9" r="0.47" fill="#22b022" fill-opacity="0.86"/>
<circle cx="505.9" cy="140.1" r="0.48" fill="#22b022" fill-opacity="0.77"/>
<circle cx="430.6" cy="163.6" r="0.55" fill="#22b022" fill-opacity="0.62"/>
<circle cx="455.7" cy="117.7" r="0.40" fill="#22b022" fill-opacity="0.92"/>
<circle cx="457.7" cy="117.8" r="0.41" fill="#22b022" fill-opacity="0.88"/>
<circle cx="457.1" cy="116.6" r="0.75" fill="#22b022" fill-opacity="0.74"/>
<circle cx="430.6" cy="143.7" r="0.67" fill="#22b022" fill-opacity="0.78"/>
<circle cx="469.1" cy="136.5" r="0.65" fill="#22b022" fill-opacity="0.98"/>
<circle cx="470.7" cy="135.6" r="0.41" fill="#22b022" fill-opacity="0.79"/>
<circle cx="509.7" cy="136.8" r="0.45" fill="#22b022" fill-opacity="0.79"/>
<circle cx="460.3" cy="177.7" r="0.71" fill="#22b022" fill-opacity="0.71"/>
<circle cx="451.0" cy="115.2" r="0.71" fill="#22b022" fill-opacity="0.51"/>
<circle cx="445.2" cy="130.1" r="0.78" fill="#22b022" fill-opacity="0.90"/>
<circle cx="446.3" cy="129.3" r="0.71" fill="#22b022" fill-opacity="0.71"/>
<circle cx="446.3" cy="129.7" r="0.52" fill="#22b022" fill-opacity="0.95"/>
<circle cx="445.3" cy="129.8" r="0.74" fill="#22b022" fill-opacity="0.74"/>
<circle cx="447.0" cy="124.3" r="0.79" fill="#22b022" fill-opacity="0.80"/>
<circle cx="459.1" cy="106.5" r="0.93" fill="#22b022" fill-opacity="0.53"/>
<circle cx="458.3" cy="106.6" r="0.42" fill="#22b022" fill-opacity="0.94"/>
<circle cx="458.2" cy="107.7" r="0.63" fill="#22b022" fill-opacity="0.53"/>
<circle cx="513.9" cy="115.7" r="0.41" fill="#22b022" fill-opacity="0.56"/>
<circle cx="514.0" cy="115.5" r="0.93" fill="#22b022" fill-opacity="0.67"/>
<circle cx="461.6" cy="112.0" r="0.55" fill="#22b022" fill-opacity="0.84"/>
<circle cx="485.8" cy="143.5" r="0.78" fill="#22b022" fill-opacity="0.69"/>
<circle cx="519.2" cy="111.0" r="0.73" fill="#22b022" fill-opacity="0.51"/>
<circle cx="516.6" cy="160.9" r="0.43" fill="#22b022" fill-opacity="0.83"/>
<circle cx="469.3" cy="152.6" r="0.66" fill="#22b022" fill-opacity="0.60"/>
<circle cx="470.3" cy="155.4" r="0.63" fill="#22b022" fill-opacity="0.93"/>
<circle cx="469.8" cy="156.6" r="0.52" fill="#22b022" fill-opacity="0.60"/>
<circle cx="469.8" cy="155.1" r="0.92" fill="#22b022" fill-opacity="0.69"/>
<circle cx="514.7" cy="125.5" r="0.50" fill="#22b022" fill-opacity="0.54"/>
<circle cx="494.0" cy="174.4" r="0.49" fill="#22b022" fill-opacity="0.79"/>
<circle cx="486.4" cy="140.3" r="0.55" fill="#22b022" fill-opacity="0.51"/>
<circle cx="455.3" cy="111.2" r="0.42" fill="#22b022" fill-opacity="0.62"/>
<circle cx="454.4" cy="110.1" r="0.75" fill="#22b022" fill-opacity="0.59"/>
<circle cx="507.7" cy="144.8" r="0.64" fill="#22b022" fill-opacity="0.95"/>
<circle cx="521.6" cy="110.9" r="0.50" fill="#22b022" fill-opacity="0.60"/>
<circle cx="437.6" cy="108.9" r="0.68" fill="#22b022" fill-opacity="0.58"/>
<circle cx="449.8" cy="125.3" r="0.88" fill="#22b022" fill-opacity="0.87"/>
<circle cx="461.9" cy="152.6" r="0.59" fill="#22b022" fill-opacity="0.91"/>
<circle cx="510.6" cy="167.2" r="0.66" fill="#22b022" fill-opacity="0.60"/>
<circle cx="504.3" cy="137.2" r="0.92" fill="#22b022" fill-opacity="0.88"/>
<circle cx="504.5" cy="136.2" r="0.88" fill="#22b022" fill-opacity="0.54"/>
<circle cx="505.6" cy="135.2" r="0.49" fill="#22b022" fill-opacity="0.62"/>
<circle cx="504.6" cy="137.5" r="0.63" fill="#22b022" fill-opacity="0.51"/>
<circle cx="430.3" cy="114.8" r="0.60" fill="#22b022" fill-opacity="0.65"/>
<circle cx="431.4" cy="112.9" r="0.64" fill="#22b022" fill-opacity="0.72"/>
<circle cx="468.4" cy="169.7" r="0.48" fill="#22b022" fill-opacity="0.82"/>
<circle cx="469.7" cy="170.8" r="0.44" fill="#22b022" fill-opacity="0.52"/>
<circle cx="467.4" cy="170.1" r="0.40" fill="#22b022" fill-opacity="0.64"/>
<circle cx="492.5" cy="134.4" r="0.48" fill="#22b022" fill-opacity="0.61"/>
<circle cx="515.2" cy="115.9" r="0.92" fill="#22b022" fill-opacity="0.83"/>
<circle cx="496.2" cy="109.5" r="0.71" fill="#22b022" fill-opacity="0.54"/>
<circle cx="476.5" cy="172.4" r="0.51" fill="#22b022" fill-opacity="0.74"/>
<circle cx="442.9" cy="171.9" r="0.49" fill="#22b022" fill-opacity="0.63"/>
<circle cx="445.9" cy="111.2" r="0.94" fill="#22b022" fill-opacity="0.92"/>
<circle cx="448.5" cy="110.4" r="0.43" fill="#22b022" fill-opacity="0.66"/>
<circle cx="440.5" cy="147.4" r="0.60" fill="#22b022" fill-opacity="0.97"/>
<circle cx="450.9" cy="147.5" r="0.49" fill="#22b022" fill-opacity="0.58"/>
<circle cx="450.0" cy="149.9" r="0.41" fill="#22b022" fill-opacity="0.71"/>
<circle cx="451.5" cy="148.8" r="0.42" fill="#22b022" fill-opacity="0.56"/>
<circle cx="452.0" cy="147.8" r="0.44" fill="#22b022" fill-opacity="0.56"/>
<circle cx="486.9" cy="159.4" r="1.75" fill="#28b828"/>
<circle cx="485.0" cy="157.2" r="1.93" fill="#28b828"/>
<circle cx="475.2" cy="158.7" r="1.80" fill="#28b828"/>
<circle cx="476.1" cy="159.9" r="1.36" fill="#28b828"/>
</g>
<rect x="533.20" y="106.10" width="97.60" height="73.50" fill="#010301" stroke="none" stroke-width="0.5" />
<g clip-path="url(#c4)" filter="url(#glow2)" opacity="0.9">
<circle cx="543.6" cy="157.7" r="0.90" fill="#22b022" fill-opacity="0.64"/>
<circle cx="597.5" cy="128.4" r="0.54" fill="#22b022" fill-opacity="0.89"/>
<circle cx="621.2" cy="132.4" r="0.80" fill="#22b022" fill-opacity="0.82"/>
<circle cx="598.0" cy="118.2" r="0.42" fill="#22b022" fill-opacity="0.67"/>
<circle cx="629.1" cy="136.9" r="0.87" fill="#22b022" fill-opacity="0.55"/>
<circle cx="628.2" cy="136.9" r="0.64" fill="#22b022" fill-opacity="0.82"/>
<circle cx="629.2" cy="135.1" r="0.76" fill="#22b022" fill-opacity="0.74"/>
<circle cx="594.1" cy="141.7" r="0.47" fill="#22b022" fill-opacity="0.56"/>
<circle cx="544.7" cy="118.0" r="0.71" fill="#22b022" fill-opacity="0.79"/>
<circle cx="549.6" cy="134.5" r="0.57" fill="#22b022" fill-opacity="0.71"/>
<circle cx="571.7" cy="139.1" r="0.59" fill="#22b022" fill-opacity="0.78"/>
<circle cx="576.3" cy="166.8" r="0.94" fill="#22b022" fill-opacity="0.51"/>
<circle cx="579.2" cy="132.2" r="0.40" fill="#22b022" fill-opacity="0.78"/>
<circle cx="542.7" cy="120.2" r="0.40" fill="#22b022" fill-opacity="0.75"/>
<circle cx="629.8" cy="113.5" r="0.40" fill="#22b022" fill-opacity="0.63"/>
<circle cx="629.3" cy="115.1" r="0.45" fill="#22b022" fill-opacity="0.84"/>
<circle cx="620.6" cy="109.4" r="0.90" fill="#22b022" fill-opacity="0.88"/>
<circle cx="622.0" cy="108.6" r="0.52" fill="#22b022" fill-opacity="0.69"/>
<circle cx="621.9" cy="108.8" r="0.77" fill="#22b022" fill-opacity="0.66"/>
<circle cx="620.5" cy="107.9" r="0.47" fill="#22b022" fill-opacity="0.97"/>
<circle cx="558.8" cy="113.7" r="0.72" fill="#22b022" fill-opacity="0.57"/>
<circle cx="586.1" cy="133.9" r="0.72" fill="#22b022" fill-opacity="0.77"/>
<circle cx="585.4" cy="132.6" r="0.41" fill="#22b022" fill-opacity="0.90"/>
<circle cx="587.4" cy="135.0" r="0.88" fill="#22b022" fill-opacity="0.99"/>
<circle cx="629.6" cy="149.8" r="0.41" fill="#22b022" fill-opacity="0.70"/>
<circle cx="629.0" cy="150.4" r="0.90" fill="#22b022" fill-opacity="0.93"/>
<circle cx="629.1" cy="151.0" r="0.90" fill="#22b022" fill-opacity="0.77"/>
<circle cx="631.4" cy="150.9" r="0.55" fill="#22b022" fill-opacity="0.99"/>
<circle cx="625.2" cy="110.1" r="0.41" fill="#22b022" fill-opacity="0.99"/>
<circle cx="625.2" cy="111.8" r="0.86" fill="#22b022" fill-opacity="0.73"/>
<circle cx="623.4" cy="110.5" r="0.40" fill="#22b022" fill-opacity="0.54"/>
<circle cx="591.1" cy="143.4" r="0.79" fill="#22b022" fill-opacity="0.86"/>
<circle cx="544.1" cy="115.2" r="0.49" fill="#22b022" fill-opacity="0.86"/>
<circle cx="561.7" cy="147.6" r="0.92" fill="#22b022" fill-opacity="0.76"/>
<circle cx="560.5" cy="148.0" r="0.87" fill="#22b022" fill-opacity="0.53"/>
<circle cx="561.3" cy="149.1" r="0.79" fill="#22b022" fill-opacity="0.71"/>
<circle cx="574.1" cy="120.8" r="0.84" fill="#22b022" fill-opacity="0.74"/>
<circle cx="545.0" cy="122.4" r="0.47" fill="#22b022" fill-opacity="0.93"/>
<circle cx="617.8" cy="147.1" r="0.71" fill="#22b022" fill-opacity="0.84"/>
<circle cx="575.2" cy="122.5" r="0.41" fill="#22b022" fill-opacity="0.86"/>
<circle cx="574.2" cy="121.8" r="0.45" fill="#22b022" fill-opacity="0.55"/>
<circle cx="574.7" cy="124.1" r="0.71" fill="#22b022" fill-opacity="0.67"/>
<circle cx="574.5" cy="123.8" r="0.41" fill="#22b022" fill-opacity="0.80"/>
<circle cx="613.2" cy="141.0" r="0.41" fill="#22b022" fill-opacity="0.53"/>
<circle cx="568.8" cy="127.8" r="0.75" fill="#22b022" fill-opacity="0.57"/>
<circle cx="608.0" cy="179.3" r="0.87" fill="#22b022" fill-opacity="0.65"/>
<circle cx="607.9" cy="180.4" r="0.66" fill="#22b022" fill-opacity="0.68"/>
<circle cx="588.5" cy="131.3" r="0.42" fill="#22b022" fill-opacity="0.52"/>
<circle cx="586.5" cy="132.0" r="0.49" fill="#22b022" fill-opacity="0.90"/>
<circle cx="586.8" cy="131.8" r="0.75" fill="#22b022" fill-opacity="0.97"/>
<circle cx="571.8" cy="115.4" r="0.77" fill="#22b022" fill-opacity="0.54"/>
<circle cx="570.0" cy="114.5" r="0.47" fill="#22b022" fill-opacity="0.80"/>
<circle cx="571.0" cy="113.3" r="0.76" fill="#22b022" fill-opacity="0.69"/>
<circle cx="571.9" cy="113.1" r="0.84" fill="#22b022" fill-opacity="0.81"/>
<circle cx="605.9" cy="112.7" r="0.46" fill="#22b022" fill-opacity="0.95"/>
<circle cx="579.2" cy="134.5" r="0.70" fill="#22b022" fill-opacity="0.99"/>
<circle cx="566.3" cy="126.2" r="0.93" fill="#22b022" fill-opacity="0.89"/>
<circle cx="577.3" cy="107.2" r="0.53" fill="#22b022" fill-opacity="0.62"/>
<circle cx="608.3" cy="174.5" r="0.41" fill="#22b022" fill-opacity="0.88"/>
<circle cx="610.7" cy="175.3" r="0.58" fill="#22b022" fill-opacity="0.59"/>
<circle cx="610.4" cy="174.3" r="0.86" fill="#22b022" fill-opacity="0.72"/>
<circle cx="607.4" cy="136.4" r="0.46" fill="#22b022" fill-opacity="0.85"/>
<circle cx="605.8" cy="136.8" r="0.60" fill="#22b022" fill-opacity="0.53"/>
<circle cx="606.0" cy="137.6" r="0.42" fill="#22b022" fill-opacity="0.61"/>
<circle cx="608.6" cy="108.6" r="0.47" fill="#22b022" fill-opacity="0.67"/>
<circle cx="560.1" cy="119.4" r="0.81" fill="#22b022" fill-opacity="0.82"/>
<circle cx="608.1" cy="160.9" r="0.43" fill="#22b022" fill-opacity="0.60"/>
<circle cx="626.4" cy="177.5" r="0.65" fill="#22b022" fill-opacity="0.83"/>
<circle cx="572.8" cy="141.2" r="0.94" fill="#22b022" fill-opacity="0.66"/>
<circle cx="539.8" cy="154.1" r="0.47" fill="#22b022" fill-opacity="0.98"/>
<circle cx="539.6" cy="154.0" r="0.90" fill="#22b022" fill-opacity="0.69"/>
<circle cx="556.3" cy="157.8" r="0.60" fill="#22b022" fill-opacity="0.79"/>
<circle cx="579.7" cy="177.0" r="0.73" fill="#22b022" fill-opacity="0.73"/>
<circle cx="579.8" cy="175.5" r="0.58" fill="#22b022" fill-opacity="0.87"/>
<circle cx="579.5" cy="175.9" r="0.40" fill="#22b022" fill-opacity="0.87"/>
<circle cx="602.6" cy="166.2" r="0.41" fill="#22b022" fill-opacity="0.74"/>
<circle cx="603.1" cy="166.3" r="0.68" fill="#22b022" fill-opacity="0.88"/>
<circle cx="603.2" cy="166.1" r="0.72" fill="#22b022" fill-opacity="0.69"/>
<circle cx="602.7" cy="168.6" r="0.82" fill="#22b022" fill-opacity="0.66"/>
<circle cx="625.3" cy="105.5" r="1.27" fill="#30cc30"/>
<circle cx="622.9" cy="109.0" r="1.38" fill="#30cc30"/>
<circle cx="623.6" cy="108.7" r="1.47" fill="#30cc30"/>
<circle cx="624.6" cy="105.5" r="1.69" fill="#30cc30"/>
<circle cx="584.4" cy="107.4" r="1.22" fill="#30cc30"/>
<circle cx="584.1" cy="108.2" r="1.70" fill="#30cc30"/>
<circle cx="542.0" cy="129.7" r="1.64" fill="#30cc30"/>
<circle cx="542.0" cy="129.0" r="1.73" fill="#30cc30"/>
</g>
<line x1="507.00" y1="83.60" x2="526.40" y2="83.60" stroke="#e8e8e8" stroke-width="1.3" />
<line x1="605.00" y1="83.20" x2="625.00" y2="83.20" stroke="#e8e8e8" stroke-width="1.3" />
<line x1="503.80" y1="175.60" x2="523.80" y2="175.60" stroke="#e8e8e8" stroke-width="1.3" />
<line x1="605.60" y1="175.60" x2="625.90" y2="175.60" stroke="#e8e8e8" stroke-width="1.3" />
<text x="479.60" y="11.50" font-size="8.5" text-anchor="middle" fill="#1a1a1a" font-weight="normal" font-style="normal" class="b2">GFP</text>
<text x="581.50" y="11.30" font-size="8.5" text-anchor="middle" fill="#1a1a1a" font-weight="normal" font-style="normal" class="b2">PBE</text>
<text x="479.30" y="101.90" font-size="8.5" text-anchor="middle" fill="#1a1a1a" font-weight="normal" font-style="normal" class="b2">A3A-PBE</text>
<text x="581.60" y="102.60" font-size="8.6" text-anchor="middle" fill="#1a1a1a" font-weight="normal" font-style="normal" class="b2">A3A-Gam</text>
<text transform="translate(420.6,95.5) rotate(-90)" font-size="8.3" text-anchor="middle" fill="#1a1a1a">Rice protoplast transfection</text>
<text transform="translate(407.2,203.3) scale(0.84,1.0)" font-size="17.2" font-weight="bold" fill="#000">d</text>
<line x1="446.40" y1="206.10" x2="446.40" y2="262.50" stroke="#333333" stroke-width="0.9" />
<line x1="442.90" y1="262.50" x2="446.40" y2="262.50" stroke="#333333" stroke-width="0.9" />
<text x="439.20" y="265.50" font-size="8.3" text-anchor="end" fill="#2a2a2a" font-weight="normal" font-style="normal" class="b">20</text>
<line x1="442.90" y1="248.40" x2="446.40" y2="248.40" stroke="#333333" stroke-width="0.9" />
<text x="439.20" y="251.40" font-size="8.3" text-anchor="end" fill="#2a2a2a" font-weight="normal" font-style="normal" class="b">25</text>
<line x1="442.90" y1="234.30" x2="446.40" y2="234.30" stroke="#333333" stroke-width="0.9" />
<text x="439.20" y="237.30" font-size="8.3" text-anchor="end" fill="#2a2a2a" font-weight="normal" font-style="normal" class="b">30</text>
<line x1="442.90" y1="220.20" x2="446.40" y2="220.20" stroke="#333333" stroke-width="0.9" />
<text x="439.20" y="223.20" font-size="8.3" text-anchor="end" fill="#2a2a2a" font-weight="normal" font-style="normal" class="b">35</text>
<line x1="442.90" y1="206.10" x2="446.40" y2="206.10" stroke="#333333" stroke-width="0.9" />
<text x="439.20" y="209.10" font-size="8.3" text-anchor="end" fill="#2a2a2a" font-weight="normal" font-style="normal" class="b">40</text>
<line x1="444.20" y1="255.45" x2="446.40" y2="255.45" stroke="#333333" stroke-width="0.8" />
<line x1="444.20" y1="241.35" x2="446.40" y2="241.35" stroke="#333333" stroke-width="0.8" />
<line x1="444.20" y1="227.25" x2="446.40" y2="227.25" stroke="#333333" stroke-width="0.8" />
<line x1="444.20" y1="213.15" x2="446.40" y2="213.15" stroke="#333333" stroke-width="0.8" />
<line x1="446.40" y1="272.30" x2="446.40" y2="328.30" stroke="#333333" stroke-width="0.9" />
<line x1="442.90" y1="328.30" x2="446.40" y2="328.30" stroke="#333333" stroke-width="0.9" />
<text x="439.20" y="331.30" font-size="8.3" text-anchor="end" fill="#2a2a2a" font-weight="normal" font-style="normal" class="b">0</text>
<line x1="442.90" y1="314.30" x2="446.40" y2="314.30" stroke="#333333" stroke-width="0.9" />
<text x="439.20" y="317.30" font-size="8.3" text-anchor="end" fill="#2a2a2a" font-weight="normal" font-style="normal" class="b">2</text>
<line x1="442.90" y1="300.30" x2="446.40" y2="300.30" stroke="#333333" stroke-width="0.9" />
<text x="439.20" y="303.30" font-size="8.3" text-anchor="end" fill="#2a2a2a" font-weight="normal" font-style="normal" class="b">4</text>
<line x1="442.90" y1="286.30" x2="446.40" y2="286.30" stroke="#333333" stroke-width="0.9" />
<text x="439.20" y="289.30" font-size="8.3" text-anchor="end" fill="#2a2a2a" font-weight="normal" font-style="normal" class="b">6</text>
<line x1="442.90" y1="272.30" x2="446.40" y2="272.30" stroke="#333333" stroke-width="0.9" />
<text x="439.20" y="275.30" font-size="8.3" text-anchor="end" fill="#2a2a2a" font-weight="normal" font-style="normal" class="b">8</text>
<line x1="444.40" y1="321.30" x2="446.40" y2="321.30" stroke="#333333" stroke-width="0.7" />
<line x1="444.40" y1="307.30" x2="446.40" y2="307.30" stroke="#333333" stroke-width="0.7" />
<line x1="444.40" y1="293.30" x2="446.40" y2="293.30" stroke="#333333" stroke-width="0.7" />
<line x1="444.40" y1="279.30" x2="446.40" y2="279.30" stroke="#333333" stroke-width="0.7" />
<line x1="446.40" y1="328.30" x2="640.00" y2="328.30" stroke="#333333" stroke-width="0.9" />
<rect x="458.80" y="221.89" width="24.00" height="40.61" fill="#0a7d12" stroke="none" stroke-width="0.5" />
<rect x="458.80" y="272.30" width="24.00" height="56.00" fill="#0a7d12" stroke="none" stroke-width="0.5" />
<path d="M470.80,217.10V226.69M464.80,217.10h12M464.80,226.69h12" stroke="#111" stroke-width="0.9" fill="none"/>
<circle cx="470.80" cy="215.69" r="1.35" fill="#111"/>
<circle cx="470.80" cy="219.64" r="1.35" fill="#111"/>
<circle cx="470.80" cy="229.79" r="1.35" fill="#111"/>
<line x1="470.80" y1="328.30" x2="470.80" y2="331.80" stroke="#333333" stroke-width="0.9" />
<text transform="translate(473.40,338.50) rotate(-45)" font-size="8.8" text-anchor="end" fill="#1a1a1a" font-style="normal">GFP</text>
<rect x="495.10" y="311.85" width="24.00" height="16.45" fill="#0a0ac8" stroke="none" stroke-width="0.5" />
<path d="M507.10,303.80V319.90M501.10,303.80h12M501.10,319.90h12" stroke="#111" stroke-width="0.9" fill="none"/>
<circle cx="507.10" cy="296.80" r="1.35" fill="#111"/>
<circle cx="507.10" cy="315.70" r="1.35" fill="#111"/>
<circle cx="507.10" cy="323.05" r="1.35" fill="#111"/>
<line x1="507.10" y1="328.30" x2="507.10" y2="331.80" stroke="#333333" stroke-width="0.9" />
<text transform="translate(509.70,338.50) rotate(-45)" font-size="8.8" text-anchor="end" fill="#1a1a1a" font-style="normal">PBE</text>
<rect x="531.10" y="250.09" width="24.00" height="12.41" fill="#c8102e" stroke="none" stroke-width="0.5" />
<rect x="531.10" y="272.30" width="24.00" height="56.00" fill="#c8102e" stroke="none" stroke-width="0.5" />
<path d="M543.10,248.12V252.07M537.10,248.12h12M537.10,252.07h12" stroke="#111" stroke-width="0.9" fill="none"/>
<circle cx="543.10" cy="246.71" r="1.35" fill="#111"/>
<circle cx="543.10" cy="249.53" r="1.35" fill="#111"/>
<circle cx="543.10" cy="251.22" r="1.35" fill="#111"/>
<line x1="543.10" y1="328.30" x2="543.10" y2="331.80" stroke="#333333" stroke-width="0.9" />
<text transform="translate(545.70,338.50) rotate(-45)" font-size="8.8" text-anchor="end" fill="#1a1a1a" font-style="normal">A3A-PBE</text>
<rect x="567.30" y="286.65" width="24.00" height="41.65" fill="#f59a0c" stroke="none" stroke-width="0.5" />
<path d="M579.30,280.00V293.30M573.30,280.00h12M573.30,293.30h12" stroke="#111" stroke-width="0.9" fill="none"/>
<circle cx="579.30" cy="273.70" r="1.35" fill="#111"/>
<circle cx="579.30" cy="293.30" r="1.35" fill="#111"/>
<circle cx="579.30" cy="293.65" r="1.35" fill="#111"/>
<line x1="579.30" y1="328.30" x2="579.30" y2="331.80" stroke="#333333" stroke-width="0.9" />
<text transform="translate(581.90,338.50) rotate(-45)" font-size="8.8" text-anchor="end" fill="#1a1a1a" font-style="normal">A3A-Gam</text>
<rect x="603.80" y="327.46" width="24.00" height="0.84" fill="#111" stroke="none" stroke-width="0.5" />
<path d="M615.80,327.11V327.81M609.80,327.11h12M609.80,327.81h12" stroke="#111" stroke-width="0.9" fill="none"/>
<circle cx="615.80" cy="327.25" r="1.35" fill="#111"/>
<circle cx="615.80" cy="327.60" r="1.35" fill="#111"/>
<circle cx="615.80" cy="327.46" r="1.35" fill="#111"/>
<line x1="615.80" y1="328.30" x2="615.80" y2="331.80" stroke="#333333" stroke-width="0.9" />
<text transform="translate(618.40,338.50) rotate(-45)" font-size="8.8" text-anchor="end" fill="#1a1a1a" font-style="normal">Untreated</text>
<text x="529.00" y="205.60" font-size="8.4" text-anchor="middle" fill="#1a1a1a" font-weight="normal" font-style="normal" >FCM</text>
<text x="506.3" y="216.8" font-size="8.4" fill="#1a1a1a"><tspan font-style="italic">P</tspan> &lt; 0.0001</text>
<text x="525.60" y="228.20" font-size="9.6" text-anchor="middle" fill="#1a1a1a" font-weight="bold" font-style="normal" >****</text>
<path d="M504.5,230.8V227.7H543.3V230.8" stroke="#222" stroke-width="0.8" fill="none"/>
<text x="547.2" y="228.7" font-size="8.4" fill="#1a1a1a"><tspan font-style="italic">P</tspan> &lt; 0.0001</text>
<text x="561.50" y="237.90" font-size="9.6" text-anchor="middle" fill="#1a1a1a" font-weight="bold" font-style="normal" >****</text>
<path d="M543.3,242V237.3H578.7V242" stroke="#222" stroke-width="0.8" fill="none"/>
<text transform="translate(411.8,267.8) rotate(-90)" font-size="8.8" text-anchor="middle" fill="#1a1a1a">% of GFP<tspan dy="-2.8" font-size="5.8">+</tspan><tspan dy="2.8"> cells</tspan></text>
<text transform="translate(421.4,268.4) rotate(-90)" font-size="8.8" text-anchor="middle" fill="#1a1a1a">induced by BEs</text>
<text transform="translate(0.4,380.2) scale(0.84,1.0)" font-size="17.6" font-weight="bold" fill="#000">e</text>
<text x="355.80" y="379.00" font-size="8.75" text-anchor="middle" fill="#1a1a1a" font-weight="normal" font-style="normal" class="b">C to T (wheat)</text>
<text transform="translate(8.2,454.6) rotate(-90)" font-size="8.65" text-anchor="middle" fill="#1a1a1a" class="b">% of reads with C to T</text>
<text transform="translate(18.5,453.9) rotate(-90)" font-size="8.65" text-anchor="middle" fill="#1a1a1a" class="b">conversion</text>
<line x1="44.00" y1="393.80" x2="44.00" y2="514.30" stroke="#333333" stroke-width="0.9" />
<line x1="40.00" y1="514.30" x2="44.00" y2="514.30" stroke="#333333" stroke-width="0.9" />
<text x="37.00" y="517.30" font-size="8.3" text-anchor="end" fill="#2a2a2a" font-weight="normal" font-style="normal" class="b">0</text>
<line x1="41.80" y1="506.27" x2="44.00" y2="506.27" stroke="#333333" stroke-width="0.8" />
<line x1="41.80" y1="498.23" x2="44.00" y2="498.23" stroke="#333333" stroke-width="0.8" />
<line x1="40.00" y1="490.20" x2="44.00" y2="490.20" stroke="#333333" stroke-width="0.9" />
<text x="37.00" y="493.20" font-size="8.3" text-anchor="end" fill="#2a2a2a" font-weight="normal" font-style="normal" class="b">10</text>
<line x1="41.80" y1="482.17" x2="44.00" y2="482.17" stroke="#333333" stroke-width="0.8" />
<line x1="41.80" y1="474.13" x2="44.00" y2="474.13" stroke="#333333" stroke-width="0.8" />
<line x1="40.00" y1="466.10" x2="44.00" y2="466.10" stroke="#333333" stroke-width="0.9" />
<text x="37.00" y="469.10" font-size="8.3" text-anchor="end" fill="#2a2a2a" font-weight="normal" font-style="normal" class="b">20</text>
<line x1="41.80" y1="458.07" x2="44.00" y2="458.07" stroke="#333333" stroke-width="0.8" />
<line x1="41.80" y1="450.03" x2="44.00" y2="450.03" stroke="#333333" stroke-width="0.8" />
<line x1="40.00" y1="442.00" x2="44.00" y2="442.00" stroke="#333333" stroke-width="0.9" />
<text x="37.00" y="445.00" font-size="8.3" text-anchor="end" fill="#2a2a2a" font-weight="normal" font-style="normal" class="b">30</text>
<line x1="41.80" y1="433.97" x2="44.00" y2="433.97" stroke="#333333" stroke-width="0.8" />
<line x1="41.80" y1="425.93" x2="44.00" y2="425.93" stroke="#333333" stroke-width="0.8" />
<line x1="40.00" y1="417.90" x2="44.00" y2="417.90" stroke="#333333" stroke-width="0.9" />
<text x="37.00" y="420.90" font-size="8.3" text-anchor="end" fill="#2a2a2a" font-weight="normal" font-style="normal" class="b">40</text>
<line x1="41.80" y1="409.87" x2="44.00" y2="409.87" stroke="#333333" stroke-width="0.8" />
<line x1="41.80" y1="401.83" x2="44.00" y2="401.83" stroke="#333333" stroke-width="0.8" />
<line x1="40.00" y1="393.80" x2="44.00" y2="393.80" stroke="#333333" stroke-width="0.9" />
<text x="37.00" y="396.80" font-size="8.3" text-anchor="end" fill="#2a2a2a" font-weight="normal" font-style="normal" class="b">50</text>
<line x1="44.00" y1="514.30" x2="198.70" y2="514.30" stroke="#333333" stroke-width="0.9" />
<line x1="58.50" y1="514.30" x2="58.50" y2="517.30" stroke="#333333" stroke-width="0.8" />
<text transform="translate(61.10,525.00) rotate(-45)" font-size="8.5" text-anchor="end" fill="#2a2a2a" font-style="normal" class="b">C-1</text>
<line x1="72.50" y1="514.30" x2="72.50" y2="517.30" stroke="#333333" stroke-width="0.8" />
<text transform="translate(75.10,525.00) rotate(-45)" font-size="8.5" text-anchor="end" fill="#2a2a2a" font-style="normal" class="b">C1</text>
<line x1="86.50" y1="514.30" x2="86.50" y2="517.30" stroke="#333333" stroke-width="0.8" />
<text transform="translate(89.10,525.00) rotate(-45)" font-size="8.5" text-anchor="end" fill="#2a2a2a" font-style="normal" class="b">C6</text>
<line x1="100.50" y1="514.30" x2="100.50" y2="517.30" stroke="#333333" stroke-width="0.8" />
<text transform="translate(103.10,525.00) rotate(-45)" font-size="8.5" text-anchor="end" fill="#2a2a2a" font-style="normal" class="b">C7</text>
<line x1="114.50" y1="514.30" x2="114.50" y2="517.30" stroke="#333333" stroke-width="0.8" />
<text transform="translate(117.10,525.00) rotate(-45)" font-size="8.5" text-anchor="end" fill="#2a2a2a" font-style="normal" class="b">C8</text>
<line x1="128.50" y1="514.30" x2="128.50" y2="517.30" stroke="#333333" stroke-width="0.8" />
<text transform="translate(131.10,525.00) rotate(-45)" font-size="8.5" text-anchor="end" fill="#2a2a2a" font-style="normal" class="b">C9</text>
<line x1="142.50" y1="514.30" x2="142.50" y2="517.30" stroke="#333333" stroke-width="0.8" />
<text transform="translate(145.10,525.00) rotate(-45)" font-size="8.5" text-anchor="end" fill="#2a2a2a" font-style="normal" class="b">C10</text>
<line x1="156.50" y1="514.30" x2="156.50" y2="517.30" stroke="#333333" stroke-width="0.8" />
<text transform="translate(159.10,525.00) rotate(-45)" font-size="8.5" text-anchor="end" fill="#2a2a2a" font-style="normal" class="b">C12</text>
<line x1="170.50" y1="514.30" x2="170.50" y2="517.30" stroke="#333333" stroke-width="0.8" />
<text transform="translate(173.10,525.00) rotate(-45)" font-size="8.5" text-anchor="end" fill="#2a2a2a" font-style="normal" class="b">C13</text>
<line x1="184.50" y1="514.30" x2="184.50" y2="517.30" stroke="#333333" stroke-width="0.8" />
<text transform="translate(187.10,525.00) rotate(-45)" font-size="8.5" text-anchor="end" fill="#2a2a2a" font-style="normal" class="b">C15</text>
<path d="M58.50,514.30 L72.50,514.30 L86.50,514.30 L100.50,514.30 L114.50,514.30 L128.50,514.30 L142.50,514.30 L156.50,514.30 L170.50,514.30 L184.50,514.30" fill="none" stroke="#222222" stroke-width="1.0"/>
<path d="M58.50,516.65 L60.75,512.66 L56.25,512.66Z" fill="none" stroke="#222222" stroke-width="0.8"/>
<path d="M72.50,516.65 L74.75,512.66 L70.25,512.66Z" fill="none" stroke="#222222" stroke-width="0.8"/>
<path d="M86.50,516.65 L88.75,512.66 L84.25,512.66Z" fill="none" stroke="#222222" stroke-width="0.8"/>
<path d="M100.50,516.65 L102.75,512.66 L98.25,512.66Z" fill="none" stroke="#222222" stroke-width="0.8"/>
<path d="M114.50,516.65 L116.75,512.66 L112.25,512.66Z" fill="none" stroke="#222222" stroke-width="0.8"/>
<path d="M128.50,516.65 L130.75,512.66 L126.25,512.66Z" fill="none" stroke="#222222" stroke-width="0.8"/>
<path d="M142.50,516.65 L144.75,512.66 L140.25,512.66Z" fill="none" stroke="#222222" stroke-width="0.8"/>
<path d="M156.50,516.65 L158.75,512.66 L154.25,512.66Z" fill="none" stroke="#222222" stroke-width="0.8"/>
<path d="M170.50,516.65 L172.75,512.66 L168.25,512.66Z" fill="none" stroke="#222222" stroke-width="0.8"/>
<path d="M184.50,516.65 L186.75,512.66 L182.25,512.66Z" fill="none" stroke="#222222" stroke-width="0.8"/>
<path d="M86.50,504.66V508.52M84.70,504.66h3.6M84.70,508.52h3.6" stroke="#6d6d6d" stroke-width="0.7" fill="none"/>
<path d="M100.50,504.66V508.52M98.70,504.66h3.6M98.70,508.52h3.6" stroke="#6d6d6d" stroke-width="0.7" fill="none"/>
<path d="M114.50,505.38V509.24M112.70,505.38h3.6M112.70,509.24h3.6" stroke="#6d6d6d" stroke-width="0.7" fill="none"/>
<path d="M128.50,507.31V511.17M126.70,507.31h3.6M126.70,511.17h3.6" stroke="#6d6d6d" stroke-width="0.7" fill="none"/>
<path d="M58.50,513.82 L72.50,514.06 L86.50,506.59 L100.50,506.59 L114.50,507.31 L128.50,509.24 L142.50,513.09 L156.50,514.30 L170.50,514.06 L184.50,514.30" fill="none" stroke="#2a2aa6" stroke-width="1.0"/>
<path d="M58.50,511.47 L60.75,515.46 L56.25,515.46Z" fill="none" stroke="#2a2aa6" stroke-width="0.8"/>
<path d="M72.50,511.71 L74.75,515.70 L70.25,515.70Z" fill="none" stroke="#2a2aa6" stroke-width="0.8"/>
<path d="M86.50,504.24 L88.75,508.23 L84.25,508.23Z" fill="none" stroke="#2a2aa6" stroke-width="0.8"/>
<path d="M100.50,504.24 L102.75,508.23 L98.25,508.23Z" fill="none" stroke="#2a2aa6" stroke-width="0.8"/>
<path d="M114.50,504.96 L116.75,508.95 L112.25,508.95Z" fill="none" stroke="#2a2aa6" stroke-width="0.8"/>
<path d="M128.50,506.89 L130.75,510.88 L126.25,510.88Z" fill="none" stroke="#2a2aa6" stroke-width="0.8"/>
<path d="M142.50,510.74 L144.75,514.73 L140.25,514.73Z" fill="none" stroke="#2a2aa6" stroke-width="0.8"/>
<path d="M156.50,511.95 L158.75,515.94 L154.25,515.94Z" fill="none" stroke="#2a2aa6" stroke-width="0.8"/>
<path d="M170.50,511.71 L172.75,515.70 L168.25,515.70Z" fill="none" stroke="#2a2aa6" stroke-width="0.8"/>
<path d="M184.50,511.95 L186.75,515.94 L182.25,515.94Z" fill="none" stroke="#2a2aa6" stroke-width="0.8"/>
<path d="M86.50,498.15V505.38M84.70,498.15h3.6M84.70,505.38h3.6" stroke="#6d6d6d" stroke-width="0.7" fill="none"/>
<path d="M100.50,497.91V505.14M98.70,497.91h3.6M98.70,505.14h3.6" stroke="#6d6d6d" stroke-width="0.7" fill="none"/>
<path d="M114.50,497.91V505.14M112.70,497.91h3.6M112.70,505.14h3.6" stroke="#6d6d6d" stroke-width="0.7" fill="none"/>
<path d="M128.50,499.36V506.59M126.70,499.36h3.6M126.70,506.59h3.6" stroke="#6d6d6d" stroke-width="0.7" fill="none"/>
<path d="M142.50,502.25V508.03M140.70,502.25h3.6M140.70,508.03h3.6" stroke="#6d6d6d" stroke-width="0.7" fill="none"/>
<path d="M58.50,513.58 L72.50,513.09 L86.50,501.77 L100.50,501.53 L114.50,501.53 L128.50,502.97 L142.50,505.14 L156.50,513.09 L170.50,511.41 L184.50,513.34" fill="none" stroke="#f0a43c" stroke-width="1.0"/>
<path d="M58.50,511.13 L60.85,513.58 L58.50,516.03 L56.15,513.58Z" fill="none" stroke="#f0a43c" stroke-width="0.8"/>
<path d="M72.50,510.64 L74.85,513.09 L72.50,515.54 L70.15,513.09Z" fill="none" stroke="#f0a43c" stroke-width="0.8"/>
<path d="M86.50,499.32 L88.85,501.77 L86.50,504.22 L84.15,501.77Z" fill="none" stroke="#f0a43c" stroke-width="0.8"/>
<path d="M100.50,499.08 L102.85,501.53 L100.50,503.98 L98.15,501.53Z" fill="none" stroke="#f0a43c" stroke-width="0.8"/>
<path d="M114.50,499.08 L116.85,501.53 L114.50,503.98 L112.15,501.53Z" fill="none" stroke="#f0a43c" stroke-width="0.8"/>
<path d="M128.50,500.52 L130.85,502.97 L128.50,505.42 L126.15,502.97Z" fill="none" stroke="#f0a43c" stroke-width="0.8"/>
<path d="M142.50,502.69 L144.85,505.14 L142.50,507.59 L140.15,505.14Z" fill="none" stroke="#f0a43c" stroke-width="0.8"/>
<path d="M156.50,510.64 L158.85,513.09 L156.50,515.54 L154.15,513.09Z" fill="none" stroke="#f0a43c" stroke-width="0.8"/>
<path d="M170.50,508.96 L172.85,511.41 L170.50,513.86 L168.15,511.41Z" fill="none" stroke="#f0a43c" stroke-width="0.8"/>
<path d="M184.50,510.89 L186.85,513.34 L184.50,515.79 L182.15,513.34Z" fill="none" stroke="#f0a43c" stroke-width="0.8"/>
<path d="M72.50,511.17V513.58M70.70,511.17h3.6M70.70,513.58h3.6" stroke="#6d6d6d" stroke-width="0.7" fill="none"/>
<path d="M86.50,415.49V434.77M84.70,415.49h3.6M84.70,434.77h3.6" stroke="#6d6d6d" stroke-width="0.7" fill="none"/>
<path d="M100.50,415.49V434.77M98.70,415.49h3.6M98.70,434.77h3.6" stroke="#6d6d6d" stroke-width="0.7" fill="none"/>
<path d="M114.50,416.69V435.97M112.70,416.69h3.6M112.70,435.97h3.6" stroke="#6d6d6d" stroke-width="0.7" fill="none"/>
<path d="M128.50,418.38V437.66M126.70,418.38h3.6M126.70,437.66h3.6" stroke="#6d6d6d" stroke-width="0.7" fill="none"/>
<path d="M142.50,420.31V439.59M140.70,420.31h3.6M140.70,439.59h3.6" stroke="#6d6d6d" stroke-width="0.7" fill="none"/>
<path d="M156.50,505.38V507.79M154.70,505.38h3.6M154.70,507.79h3.6" stroke="#6d6d6d" stroke-width="0.7" fill="none"/>
<path d="M170.50,496.47V499.84M168.70,496.47h3.6M168.70,499.84h3.6" stroke="#6d6d6d" stroke-width="0.7" fill="none"/>
<path d="M58.50,513.58 L72.50,512.37 L86.50,425.13 L100.50,425.13 L114.50,426.33 L128.50,428.02 L142.50,429.95 L156.50,506.59 L170.50,498.15 L184.50,507.79" fill="none" stroke="#a8272c" stroke-width="1.0"/>
<circle cx="58.50" cy="513.58" r="2.05" fill="none" stroke="#a8272c" stroke-width="0.8"/>
<circle cx="72.50" cy="512.37" r="2.05" fill="none" stroke="#a8272c" stroke-width="0.8"/>
<circle cx="86.50" cy="425.13" r="2.05" fill="none" stroke="#a8272c" stroke-width="0.8"/>
<circle cx="100.50" cy="425.13" r="2.05" fill="none" stroke="#a8272c" stroke-width="0.8"/>
<circle cx="114.50" cy="426.33" r="2.05" fill="none" stroke="#a8272c" stroke-width="0.8"/>
<circle cx="128.50" cy="428.02" r="2.05" fill="none" stroke="#a8272c" stroke-width="0.8"/>
<circle cx="142.50" cy="429.95" r="2.05" fill="none" stroke="#a8272c" stroke-width="0.8"/>
<circle cx="156.50" cy="506.59" r="2.05" fill="none" stroke="#a8272c" stroke-width="0.8"/>
<circle cx="170.50" cy="498.15" r="2.05" fill="none" stroke="#a8272c" stroke-width="0.8"/>
<circle cx="184.50" cy="507.79" r="2.05" fill="none" stroke="#a8272c" stroke-width="0.8"/>
<text x="51.2" y="394.0" font-size="8.2" fill="#1a1a1a" class="b" letter-spacing="0.3"><tspan font-style="italic">TaALS</tspan></text>
<line x1="223.60" y1="395.00" x2="223.60" y2="514.30" stroke="#333333" stroke-width="0.9" />
<line x1="219.60" y1="514.30" x2="223.60" y2="514.30" stroke="#333333" stroke-width="0.9" />
<text x="216.60" y="517.30" font-size="8.3" text-anchor="end" fill="#2a2a2a" font-weight="normal" font-style="normal" class="b">0</text>
<line x1="221.40" y1="506.35" x2="223.60" y2="506.35" stroke="#333333" stroke-width="0.8" />
<line x1="221.40" y1="498.39" x2="223.60" y2="498.39" stroke="#333333" stroke-width="0.8" />
<line x1="219.60" y1="490.44" x2="223.60" y2="490.44" stroke="#333333" stroke-width="0.9" />
<text x="216.60" y="493.44" font-size="8.3" text-anchor="end" fill="#2a2a2a" font-weight="normal" font-style="normal" class="b">10</text>
<line x1="221.40" y1="482.49" x2="223.60" y2="482.49" stroke="#333333" stroke-width="0.8" />
<line x1="221.40" y1="474.53" x2="223.60" y2="474.53" stroke="#333333" stroke-width="0.8" />
<line x1="219.60" y1="466.58" x2="223.60" y2="466.58" stroke="#333333" stroke-width="0.9" />
<text x="216.60" y="469.58" font-size="8.3" text-anchor="end" fill="#2a2a2a" font-weight="normal" font-style="normal" class="b">20</text>
<line x1="221.40" y1="458.63" x2="223.60" y2="458.63" stroke="#333333" stroke-width="0.8" />
<line x1="221.40" y1="450.67" x2="223.60" y2="450.67" stroke="#333333" stroke-width="0.8" />
<line x1="219.60" y1="442.72" x2="223.60" y2="442.72" stroke="#333333" stroke-width="0.9" />
<text x="216.60" y="445.72" font-size="8.3" text-anchor="end" fill="#2a2a2a" font-weight="normal" font-style="normal" class="b">30</text>
<line x1="221.40" y1="434.77" x2="223.60" y2="434.77" stroke="#333333" stroke-width="0.8" />
<line x1="221.40" y1="426.81" x2="223.60" y2="426.81" stroke="#333333" stroke-width="0.8" />
<line x1="219.60" y1="418.86" x2="223.60" y2="418.86" stroke="#333333" stroke-width="0.9" />
<text x="216.60" y="421.86" font-size="8.3" text-anchor="end" fill="#2a2a2a" font-weight="normal" font-style="normal" class="b">40</text>
<line x1="221.40" y1="410.91" x2="223.60" y2="410.91" stroke="#333333" stroke-width="0.8" />
<line x1="221.40" y1="402.95" x2="223.60" y2="402.95" stroke="#333333" stroke-width="0.8" />
<line x1="219.60" y1="395.00" x2="223.60" y2="395.00" stroke="#333333" stroke-width="0.9" />
<text x="216.60" y="398.00" font-size="8.3" text-anchor="end" fill="#2a2a2a" font-weight="normal" font-style="normal" class="b">50</text>
<line x1="223.60" y1="514.30" x2="340.20" y2="514.30" stroke="#333333" stroke-width="0.9" />
<line x1="238.10" y1="514.30" x2="238.10" y2="517.30" stroke="#333333" stroke-width="0.8" />
<text transform="translate(240.70,525.00) rotate(-45)" font-size="8.5" text-anchor="end" fill="#2a2a2a" font-style="normal" class="b">C-4</text>
<line x1="252.76" y1="514.30" x2="252.76" y2="517.30" stroke="#333333" stroke-width="0.8" />
<text transform="translate(255.36,525.00) rotate(-45)" font-size="8.5" text-anchor="end" fill="#2a2a2a" font-style="normal" class="b">C-1</text>
<line x1="267.42" y1="514.30" x2="267.42" y2="517.30" stroke="#333333" stroke-width="0.8" />
<text transform="translate(270.02,525.00) rotate(-45)" font-size="8.5" text-anchor="end" fill="#2a2a2a" font-style="normal" class="b">C3</text>
<line x1="282.08" y1="514.30" x2="282.08" y2="517.30" stroke="#333333" stroke-width="0.8" />
<text transform="translate(284.68,525.00) rotate(-45)" font-size="8.5" text-anchor="end" fill="#2a2a2a" font-style="normal" class="b">C4</text>
<line x1="296.74" y1="514.30" x2="296.74" y2="517.30" stroke="#333333" stroke-width="0.8" />
<text transform="translate(299.34,525.00) rotate(-45)" font-size="8.5" text-anchor="end" fill="#2a2a2a" font-style="normal" class="b">C7</text>
<line x1="311.40" y1="514.30" x2="311.40" y2="517.30" stroke="#333333" stroke-width="0.8" />
<text transform="translate(314.00,525.00) rotate(-45)" font-size="8.5" text-anchor="end" fill="#2a2a2a" font-style="normal" class="b">C8</text>
<line x1="326.06" y1="514.30" x2="326.06" y2="517.30" stroke="#333333" stroke-width="0.8" />
<text transform="translate(328.66,525.00) rotate(-45)" font-size="8.5" text-anchor="end" fill="#2a2a2a" font-style="normal" class="b">C14</text>
<path d="M238.10,514.30 L252.76,514.30 L267.42,514.30 L282.08,514.30 L296.74,514.30 L311.40,514.30 L326.06,514.30" fill="none" stroke="#222222" stroke-width="1.0"/>
<path d="M238.10,516.65 L240.35,512.66 L235.85,512.66Z" fill="none" stroke="#222222" stroke-width="0.8"/>
<path d="M252.76,516.65 L255.01,512.66 L250.51,512.66Z" fill="none" stroke="#222222" stroke-width="0.8"/>
<path d="M267.42,516.65 L269.67,512.66 L265.17,512.66Z" fill="none" stroke="#222222" stroke-width="0.8"/>
<path d="M282.08,516.65 L284.33,512.66 L279.83,512.66Z" fill="none" stroke="#222222" stroke-width="0.8"/>
<path d="M296.74,516.65 L298.99,512.66 L294.49,512.66Z" fill="none" stroke="#222222" stroke-width="0.8"/>
<path d="M311.40,516.65 L313.65,512.66 L309.15,512.66Z" fill="none" stroke="#222222" stroke-width="0.8"/>
<path d="M326.06,516.65 L328.31,512.66 L323.81,512.66Z" fill="none" stroke="#222222" stroke-width="0.8"/>
<path d="M267.42,510.72V513.11M265.62,510.72h3.6M265.62,513.11h3.6" stroke="#6d6d6d" stroke-width="0.7" fill="none"/>
<path d="M282.08,507.62V511.44M280.28,507.62h3.6M280.28,511.44h3.6" stroke="#6d6d6d" stroke-width="0.7" fill="none"/>
<path d="M296.74,507.86V510.72M294.94,507.86h3.6M294.94,510.72h3.6" stroke="#6d6d6d" stroke-width="0.7" fill="none"/>
<path d="M311.40,509.29V511.68M309.60,509.29h3.6M309.60,511.68h3.6" stroke="#6d6d6d" stroke-width="0.7" fill="none"/>
<path d="M238.10,514.30 L252.76,514.30 L267.42,511.91 L282.08,509.53 L296.74,509.29 L311.40,510.48 L326.06,513.82" fill="none" stroke="#2a2aa6" stroke-width="1.0"/>
<path d="M238.10,511.95 L240.35,515.94 L235.85,515.94Z" fill="none" stroke="#2a2aa6" stroke-width="0.8"/>
<path d="M252.76,511.95 L255.01,515.94 L250.51,515.94Z" fill="none" stroke="#2a2aa6" stroke-width="0.8"/>
<path d="M267.42,509.56 L269.67,513.55 L265.17,513.55Z" fill="none" stroke="#2a2aa6" stroke-width="0.8"/>
<path d="M282.08,507.18 L284.33,511.17 L279.83,511.17Z" fill="none" stroke="#2a2aa6" stroke-width="0.8"/>
<path d="M296.74,506.94 L298.99,510.93 L294.49,510.93Z" fill="none" stroke="#2a2aa6" stroke-width="0.8"/>
<path d="M311.40,508.13 L313.65,512.12 L309.15,512.12Z" fill="none" stroke="#2a2aa6" stroke-width="0.8"/>
<path d="M326.06,511.47 L328.31,515.46 L323.81,515.46Z" fill="none" stroke="#2a2aa6" stroke-width="0.8"/>
<path d="M267.42,478.03V491.87M265.62,478.03h3.6M265.62,491.87h3.6" stroke="#6d6d6d" stroke-width="0.7" fill="none"/>
<path d="M282.08,477.56V491.39M280.28,477.56h3.6M280.28,491.39h3.6" stroke="#6d6d6d" stroke-width="0.7" fill="none"/>
<path d="M296.74,478.75V490.68M294.94,478.75h3.6M294.94,490.68h3.6" stroke="#6d6d6d" stroke-width="0.7" fill="none"/>
<path d="M311.40,478.75V490.68M309.60,478.75h3.6M309.60,490.68h3.6" stroke="#6d6d6d" stroke-width="0.7" fill="none"/>
<path d="M326.06,508.81V512.63M324.26,508.81h3.6M324.26,512.63h3.6" stroke="#6d6d6d" stroke-width="0.7" fill="none"/>
<path d="M238.10,513.11 L252.76,513.11 L267.42,484.95 L282.08,484.47 L296.74,484.71 L311.40,484.71 L326.06,510.72" fill="none" stroke="#f0a43c" stroke-width="1.0"/>
<path d="M238.10,510.66 L240.45,513.11 L238.10,515.56 L235.75,513.11Z" fill="none" stroke="#f0a43c" stroke-width="0.8"/>
<path d="M252.76,510.66 L255.11,513.11 L252.76,515.56 L250.41,513.11Z" fill="none" stroke="#f0a43c" stroke-width="0.8"/>
<path d="M267.42,482.50 L269.77,484.95 L267.42,487.40 L265.07,484.95Z" fill="none" stroke="#f0a43c" stroke-width="0.8"/>
<path d="M282.08,482.02 L284.43,484.47 L282.08,486.92 L279.73,484.47Z" fill="none" stroke="#f0a43c" stroke-width="0.8"/>
<path d="M296.74,482.26 L299.09,484.71 L296.74,487.16 L294.39,484.71Z" fill="none" stroke="#f0a43c" stroke-width="0.8"/>
<path d="M311.40,482.26 L313.75,484.71 L311.40,487.16 L309.05,484.71Z" fill="none" stroke="#f0a43c" stroke-width="0.8"/>
<path d="M326.06,508.27 L328.41,510.72 L326.06,513.17 L323.71,510.72Z" fill="none" stroke="#f0a43c" stroke-width="0.8"/>
<path d="M267.42,430.07V442.00M265.62,430.07h3.6M265.62,442.00h3.6" stroke="#6d6d6d" stroke-width="0.7" fill="none"/>
<path d="M282.08,428.88V440.81M280.28,428.88h3.6M280.28,440.81h3.6" stroke="#6d6d6d" stroke-width="0.7" fill="none"/>
<path d="M296.74,426.97V438.90M294.94,426.97h3.6M294.94,438.90h3.6" stroke="#6d6d6d" stroke-width="0.7" fill="none"/>
<path d="M311.40,426.02V437.95M309.60,426.02h3.6M309.60,437.95h3.6" stroke="#6d6d6d" stroke-width="0.7" fill="none"/>
<path d="M326.06,476.84V488.77M324.26,476.84h3.6M324.26,488.77h3.6" stroke="#6d6d6d" stroke-width="0.7" fill="none"/>
<path d="M238.10,504.04 L252.76,506.19 L267.42,436.04 L282.08,434.85 L296.74,432.94 L311.40,431.98 L326.06,482.80" fill="none" stroke="#a8272c" stroke-width="1.0"/>
<circle cx="238.10" cy="504.04" r="2.05" fill="none" stroke="#a8272c" stroke-width="0.8"/>
<circle cx="252.76" cy="506.19" r="2.05" fill="none" stroke="#a8272c" stroke-width="0.8"/>
<circle cx="267.42" cy="436.04" r="2.05" fill="none" stroke="#a8272c" stroke-width="0.8"/>
<circle cx="282.08" cy="434.85" r="2.05" fill="none" stroke="#a8272c" stroke-width="0.8"/>
<circle cx="296.74" cy="432.94" r="2.05" fill="none" stroke="#a8272c" stroke-width="0.8"/>
<circle cx="311.40" cy="431.98" r="2.05" fill="none" stroke="#a8272c" stroke-width="0.8"/>
<circle cx="326.06" cy="482.80" r="2.05" fill="none" stroke="#a8272c" stroke-width="0.8"/>
<text x="229.2" y="393.0" font-size="8.2" fill="#1a1a1a" class="b" letter-spacing="0.3"><tspan font-style="italic">TaMTL</tspan></text>
<line x1="376.80" y1="395.20" x2="376.80" y2="514.60" stroke="#333333" stroke-width="0.9" />
<line x1="372.80" y1="514.60" x2="376.80" y2="514.60" stroke="#333333" stroke-width="0.9" />
<text x="369.80" y="517.60" font-size="8.3" text-anchor="end" fill="#2a2a2a" font-weight="normal" font-style="normal" class="b">0</text>
<line x1="374.60" y1="506.64" x2="376.80" y2="506.64" stroke="#333333" stroke-width="0.8" />
<line x1="374.60" y1="498.68" x2="376.80" y2="498.68" stroke="#333333" stroke-width="0.8" />
<line x1="372.80" y1="490.72" x2="376.80" y2="490.72" stroke="#333333" stroke-width="0.9" />
<text x="369.80" y="493.72" font-size="8.3" text-anchor="end" fill="#2a2a2a" font-weight="normal" font-style="normal" class="b">10</text>
<line x1="374.60" y1="482.76" x2="376.80" y2="482.76" stroke="#333333" stroke-width="0.8" />
<line x1="374.60" y1="474.80" x2="376.80" y2="474.80" stroke="#333333" stroke-width="0.8" />
<line x1="372.80" y1="466.84" x2="376.80" y2="466.84" stroke="#333333" stroke-width="0.9" />
<text x="369.80" y="469.84" font-size="8.3" text-anchor="end" fill="#2a2a2a" font-weight="normal" font-style="normal" class="b">20</text>
<line x1="374.60" y1="458.88" x2="376.80" y2="458.88" stroke="#333333" stroke-width="0.8" />
<line x1="374.60" y1="450.92" x2="376.80" y2="450.92" stroke="#333333" stroke-width="0.8" />
<line x1="372.80" y1="442.96" x2="376.80" y2="442.96" stroke="#333333" stroke-width="0.9" />
<text x="369.80" y="445.96" font-size="8.3" text-anchor="end" fill="#2a2a2a" font-weight="normal" font-style="normal" class="b">30</text>
<line x1="374.60" y1="435.00" x2="376.80" y2="435.00" stroke="#333333" stroke-width="0.8" />
<line x1="374.60" y1="427.04" x2="376.80" y2="427.04" stroke="#333333" stroke-width="0.8" />
<line x1="372.80" y1="419.08" x2="376.80" y2="419.08" stroke="#333333" stroke-width="0.9" />
<text x="369.80" y="422.08" font-size="8.3" text-anchor="end" fill="#2a2a2a" font-weight="normal" font-style="normal" class="b">40</text>
<line x1="374.60" y1="411.12" x2="376.80" y2="411.12" stroke="#333333" stroke-width="0.8" />
<line x1="374.60" y1="403.16" x2="376.80" y2="403.16" stroke="#333333" stroke-width="0.8" />
<line x1="372.80" y1="395.20" x2="376.80" y2="395.20" stroke="#333333" stroke-width="0.9" />
<text x="369.80" y="398.20" font-size="8.3" text-anchor="end" fill="#2a2a2a" font-weight="normal" font-style="normal" class="b">50</text>
<line x1="376.80" y1="514.60" x2="511.40" y2="514.60" stroke="#333333" stroke-width="0.9" />
<line x1="391.50" y1="514.60" x2="391.50" y2="517.60" stroke="#333333" stroke-width="0.8" />
<text transform="translate(394.10,525.30) rotate(-45)" font-size="8.5" text-anchor="end" fill="#2a2a2a" font-style="normal" class="b">C2</text>
<line x1="406.36" y1="514.60" x2="406.36" y2="517.60" stroke="#333333" stroke-width="0.8" />
<text transform="translate(408.96,525.30) rotate(-45)" font-size="8.5" text-anchor="end" fill="#2a2a2a" font-style="normal" class="b">C3</text>
<line x1="421.22" y1="514.60" x2="421.22" y2="517.60" stroke="#333333" stroke-width="0.8" />
<text transform="translate(423.82,525.30) rotate(-45)" font-size="8.5" text-anchor="end" fill="#2a2a2a" font-style="normal" class="b">C6</text>
<line x1="436.08" y1="514.60" x2="436.08" y2="517.60" stroke="#333333" stroke-width="0.8" />
<text transform="translate(438.68,525.30) rotate(-45)" font-size="8.5" text-anchor="end" fill="#2a2a2a" font-style="normal" class="b">C9</text>
<line x1="450.94" y1="514.60" x2="450.94" y2="517.60" stroke="#333333" stroke-width="0.8" />
<text transform="translate(453.54,525.30) rotate(-45)" font-size="8.5" text-anchor="end" fill="#2a2a2a" font-style="normal" class="b">C12</text>
<line x1="465.80" y1="514.60" x2="465.80" y2="517.60" stroke="#333333" stroke-width="0.8" />
<text transform="translate(468.40,525.30) rotate(-45)" font-size="8.5" text-anchor="end" fill="#2a2a2a" font-style="normal" class="b">C13</text>
<line x1="480.66" y1="514.60" x2="480.66" y2="517.60" stroke="#333333" stroke-width="0.8" />
<text transform="translate(483.26,525.30) rotate(-45)" font-size="8.5" text-anchor="end" fill="#2a2a2a" font-style="normal" class="b">C15</text>
<line x1="495.52" y1="514.60" x2="495.52" y2="517.60" stroke="#333333" stroke-width="0.8" />
<text transform="translate(498.12,525.30) rotate(-45)" font-size="8.5" text-anchor="end" fill="#2a2a2a" font-style="normal" class="b">C17</text>
<path d="M391.50,514.60 L406.36,514.60 L421.22,514.60 L436.08,514.60 L450.94,514.60 L465.80,514.60 L480.66,514.60 L495.52,514.60" fill="none" stroke="#222222" stroke-width="1.0"/>
<path d="M391.50,516.95 L393.75,512.96 L389.25,512.96Z" fill="none" stroke="#222222" stroke-width="0.8"/>
<path d="M406.36,516.95 L408.61,512.96 L404.11,512.96Z" fill="none" stroke="#222222" stroke-width="0.8"/>
<path d="M421.22,516.95 L423.47,512.96 L418.97,512.96Z" fill="none" stroke="#222222" stroke-width="0.8"/>
<path d="M436.08,516.95 L438.33,512.96 L433.83,512.96Z" fill="none" stroke="#222222" stroke-width="0.8"/>
<path d="M450.94,516.95 L453.19,512.96 L448.69,512.96Z" fill="none" stroke="#222222" stroke-width="0.8"/>
<path d="M465.80,516.95 L468.05,512.96 L463.55,512.96Z" fill="none" stroke="#222222" stroke-width="0.8"/>
<path d="M480.66,516.95 L482.91,512.96 L478.41,512.96Z" fill="none" stroke="#222222" stroke-width="0.8"/>
<path d="M495.52,516.95 L497.77,512.96 L493.27,512.96Z" fill="none" stroke="#222222" stroke-width="0.8"/>
<path d="M391.50,514.60 L406.36,514.60 L421.22,513.41 L436.08,513.88 L450.94,514.60 L465.80,514.60 L480.66,514.60 L495.52,514.60" fill="none" stroke="#2a2aa6" stroke-width="1.0"/>
<path d="M391.50,512.25 L393.75,516.24 L389.25,516.24Z" fill="none" stroke="#2a2aa6" stroke-width="0.8"/>
<path d="M406.36,512.25 L408.61,516.24 L404.11,516.24Z" fill="none" stroke="#2a2aa6" stroke-width="0.8"/>
<path d="M421.22,511.06 L423.47,515.05 L418.97,515.05Z" fill="none" stroke="#2a2aa6" stroke-width="0.8"/>
<path d="M436.08,511.53 L438.33,515.52 L433.83,515.52Z" fill="none" stroke="#2a2aa6" stroke-width="0.8"/>
<path d="M450.94,512.25 L453.19,516.24 L448.69,516.24Z" fill="none" stroke="#2a2aa6" stroke-width="0.8"/>
<path d="M465.80,512.25 L468.05,516.24 L463.55,516.24Z" fill="none" stroke="#2a2aa6" stroke-width="0.8"/>
<path d="M480.66,512.25 L482.91,516.24 L478.41,516.24Z" fill="none" stroke="#2a2aa6" stroke-width="0.8"/>
<path d="M495.52,512.25 L497.77,516.24 L493.27,516.24Z" fill="none" stroke="#2a2aa6" stroke-width="0.8"/>
<path d="M391.50,514.12 L406.36,513.88 L421.22,512.21 L436.08,511.73 L450.94,514.12 L465.80,514.12 L480.66,513.41 L495.52,514.12" fill="none" stroke="#f0a43c" stroke-width="1.0"/>
<path d="M391.50,511.67 L393.85,514.12 L391.50,516.57 L389.15,514.12Z" fill="none" stroke="#f0a43c" stroke-width="0.8"/>
<path d="M406.36,511.43 L408.71,513.88 L406.36,516.33 L404.01,513.88Z" fill="none" stroke="#f0a43c" stroke-width="0.8"/>
<path d="M421.22,509.76 L423.57,512.21 L421.22,514.66 L418.87,512.21Z" fill="none" stroke="#f0a43c" stroke-width="0.8"/>
<path d="M436.08,509.28 L438.43,511.73 L436.08,514.18 L433.73,511.73Z" fill="none" stroke="#f0a43c" stroke-width="0.8"/>
<path d="M450.94,511.67 L453.29,514.12 L450.94,516.57 L448.59,514.12Z" fill="none" stroke="#f0a43c" stroke-width="0.8"/>
<path d="M465.80,511.67 L468.15,514.12 L465.80,516.57 L463.45,514.12Z" fill="none" stroke="#f0a43c" stroke-width="0.8"/>
<path d="M480.66,510.96 L483.01,513.41 L480.66,515.86 L478.31,513.41Z" fill="none" stroke="#f0a43c" stroke-width="0.8"/>
<path d="M495.52,511.67 L497.87,514.12 L495.52,516.57 L493.17,514.12Z" fill="none" stroke="#f0a43c" stroke-width="0.8"/>
<path d="M465.80,505.05V509.82M464.00,505.05h3.6M464.00,509.82h3.6" stroke="#6d6d6d" stroke-width="0.7" fill="none"/>
<path d="M480.66,474.48V487.85M478.86,474.48h3.6M478.86,487.85h3.6" stroke="#6d6d6d" stroke-width="0.7" fill="none"/>
<path d="M495.52,508.15V510.54M493.72,508.15h3.6M493.72,510.54h3.6" stroke="#6d6d6d" stroke-width="0.7" fill="none"/>
<path d="M391.50,513.41 L406.36,499.79 L421.22,486.42 L436.08,485.94 L450.94,512.21 L465.80,507.44 L480.66,481.17 L495.52,509.35" fill="none" stroke="#a8272c" stroke-width="1.0"/>
<circle cx="391.50" cy="513.41" r="2.05" fill="none" stroke="#a8272c" stroke-width="0.8"/>
<circle cx="406.36" cy="499.79" r="2.05" fill="none" stroke="#a8272c" stroke-width="0.8"/>
<circle cx="421.22" cy="486.42" r="2.05" fill="none" stroke="#a8272c" stroke-width="0.8"/>
<circle cx="436.08" cy="485.94" r="2.05" fill="none" stroke="#a8272c" stroke-width="0.8"/>
<circle cx="450.94" cy="512.21" r="2.05" fill="none" stroke="#a8272c" stroke-width="0.8"/>
<circle cx="465.80" cy="507.44" r="2.05" fill="none" stroke="#a8272c" stroke-width="0.8"/>
<circle cx="480.66" cy="481.17" r="2.05" fill="none" stroke="#a8272c" stroke-width="0.8"/>
<circle cx="495.52" cy="509.35" r="2.05" fill="none" stroke="#a8272c" stroke-width="0.8"/>
<text x="384.5" y="393.0" font-size="8.2" fill="#1a1a1a" class="b" letter-spacing="0.3"><tspan font-style="italic">TaLOX2</tspan>-T1</text>
<line x1="542.40" y1="392.60" x2="542.40" y2="513.80" stroke="#333333" stroke-width="0.9" />
<line x1="538.40" y1="513.80" x2="542.40" y2="513.80" stroke="#333333" stroke-width="0.9" />
<text x="535.40" y="516.80" font-size="8.3" text-anchor="end" fill="#2a2a2a" font-weight="normal" font-style="normal" class="b">0</text>
<line x1="540.20" y1="505.72" x2="542.40" y2="505.72" stroke="#333333" stroke-width="0.8" />
<line x1="540.20" y1="497.64" x2="542.40" y2="497.64" stroke="#333333" stroke-width="0.8" />
<line x1="538.40" y1="489.56" x2="542.40" y2="489.56" stroke="#333333" stroke-width="0.9" />
<text x="535.40" y="492.56" font-size="8.3" text-anchor="end" fill="#2a2a2a" font-weight="normal" font-style="normal" class="b">10</text>
<line x1="540.20" y1="481.48" x2="542.40" y2="481.48" stroke="#333333" stroke-width="0.8" />
<line x1="540.20" y1="473.40" x2="542.40" y2="473.40" stroke="#333333" stroke-width="0.8" />
<line x1="538.40" y1="465.32" x2="542.40" y2="465.32" stroke="#333333" stroke-width="0.9" />
<text x="535.40" y="468.32" font-size="8.3" text-anchor="end" fill="#2a2a2a" font-weight="normal" font-style="normal" class="b">20</text>
<line x1="540.20" y1="457.24" x2="542.40" y2="457.24" stroke="#333333" stroke-width="0.8" />
<line x1="540.20" y1="449.16" x2="542.40" y2="449.16" stroke="#333333" stroke-width="0.8" />
<line x1="538.40" y1="441.08" x2="542.40" y2="441.08" stroke="#333333" stroke-width="0.9" />
<text x="535.40" y="444.08" font-size="8.3" text-anchor="end" fill="#2a2a2a" font-weight="normal" font-style="normal" class="b">30</text>
<line x1="540.20" y1="433.00" x2="542.40" y2="433.00" stroke="#333333" stroke-width="0.8" />
<line x1="540.20" y1="424.92" x2="542.40" y2="424.92" stroke="#333333" stroke-width="0.8" />
<line x1="538.40" y1="416.84" x2="542.40" y2="416.84" stroke="#333333" stroke-width="0.9" />
<text x="535.40" y="419.84" font-size="8.3" text-anchor="end" fill="#2a2a2a" font-weight="normal" font-style="normal" class="b">40</text>
<line x1="540.20" y1="408.76" x2="542.40" y2="408.76" stroke="#333333" stroke-width="0.8" />
<line x1="540.20" y1="400.68" x2="542.40" y2="400.68" stroke="#333333" stroke-width="0.8" />
<line x1="538.40" y1="392.60" x2="542.40" y2="392.60" stroke="#333333" stroke-width="0.9" />
<text x="535.40" y="395.60" font-size="8.3" text-anchor="end" fill="#2a2a2a" font-weight="normal" font-style="normal" class="b">50</text>
<line x1="542.40" y1="513.80" x2="664.00" y2="513.80" stroke="#333333" stroke-width="0.9" />
<line x1="553.20" y1="513.80" x2="553.20" y2="516.80" stroke="#333333" stroke-width="0.8" />
<text transform="translate(555.80,524.50) rotate(-45)" font-size="8.5" text-anchor="end" fill="#2a2a2a" font-style="normal" class="b">C-1</text>
<line x1="567.73" y1="513.80" x2="567.73" y2="516.80" stroke="#333333" stroke-width="0.8" />
<text transform="translate(570.33,524.50) rotate(-45)" font-size="8.5" text-anchor="end" fill="#2a2a2a" font-style="normal" class="b">C1</text>
<line x1="582.26" y1="513.80" x2="582.26" y2="516.80" stroke="#333333" stroke-width="0.8" />
<text transform="translate(584.86,524.50) rotate(-45)" font-size="8.5" text-anchor="end" fill="#2a2a2a" font-style="normal" class="b">C2</text>
<line x1="596.79" y1="513.80" x2="596.79" y2="516.80" stroke="#333333" stroke-width="0.8" />
<text transform="translate(599.39,524.50) rotate(-45)" font-size="8.5" text-anchor="end" fill="#2a2a2a" font-style="normal" class="b">C5</text>
<line x1="611.32" y1="513.80" x2="611.32" y2="516.80" stroke="#333333" stroke-width="0.8" />
<text transform="translate(613.92,524.50) rotate(-45)" font-size="8.5" text-anchor="end" fill="#2a2a2a" font-style="normal" class="b">C8</text>
<line x1="625.85" y1="513.80" x2="625.85" y2="516.80" stroke="#333333" stroke-width="0.8" />
<text transform="translate(628.45,524.50) rotate(-45)" font-size="8.5" text-anchor="end" fill="#2a2a2a" font-style="normal" class="b">C11</text>
<line x1="640.38" y1="513.80" x2="640.38" y2="516.80" stroke="#333333" stroke-width="0.8" />
<text transform="translate(642.98,524.50) rotate(-45)" font-size="8.5" text-anchor="end" fill="#2a2a2a" font-style="normal" class="b">C13</text>
<line x1="654.91" y1="513.80" x2="654.91" y2="516.80" stroke="#333333" stroke-width="0.8" />
<text transform="translate(657.51,524.50) rotate(-45)" font-size="8.5" text-anchor="end" fill="#2a2a2a" font-style="normal" class="b">C14</text>
<path d="M553.20,513.80 L567.73,513.80 L582.26,513.80 L596.79,510.89 L611.32,513.07 L625.85,513.80 L640.38,513.80 L654.91,513.80" fill="none" stroke="#222222" stroke-width="1.0"/>
<path d="M553.20,516.15 L555.45,512.16 L550.95,512.16Z" fill="none" stroke="#222222" stroke-width="0.8"/>
<path d="M567.73,516.15 L569.98,512.16 L565.48,512.16Z" fill="none" stroke="#222222" stroke-width="0.8"/>
<path d="M582.26,516.15 L584.51,512.16 L580.01,512.16Z" fill="none" stroke="#222222" stroke-width="0.8"/>
<path d="M596.79,513.24 L599.04,509.25 L594.54,509.25Z" fill="none" stroke="#222222" stroke-width="0.8"/>
<path d="M611.32,515.42 L613.57,511.43 L609.07,511.43Z" fill="none" stroke="#222222" stroke-width="0.8"/>
<path d="M625.85,516.15 L628.10,512.16 L623.60,512.16Z" fill="none" stroke="#222222" stroke-width="0.8"/>
<path d="M640.38,516.15 L642.63,512.16 L638.13,512.16Z" fill="none" stroke="#222222" stroke-width="0.8"/>
<path d="M654.91,516.15 L657.16,512.16 L652.66,512.16Z" fill="none" stroke="#222222" stroke-width="0.8"/>
<path d="M596.79,502.16V506.04M594.99,502.16h3.6M594.99,506.04h3.6" stroke="#6d6d6d" stroke-width="0.7" fill="none"/>
<path d="M553.20,513.80 L567.73,513.80 L582.26,513.80 L596.79,504.10 L611.32,512.59 L625.85,512.59 L640.38,513.80 L654.91,513.80" fill="none" stroke="#2a2aa6" stroke-width="1.0"/>
<path d="M553.20,511.45 L555.45,515.44 L550.95,515.44Z" fill="none" stroke="#2a2aa6" stroke-width="0.8"/>
<path d="M567.73,511.45 L569.98,515.44 L565.48,515.44Z" fill="none" stroke="#2a2aa6" stroke-width="0.8"/>
<path d="M582.26,511.45 L584.51,515.44 L580.01,515.44Z" fill="none" stroke="#2a2aa6" stroke-width="0.8"/>
<path d="M596.79,501.75 L599.04,505.74 L594.54,505.74Z" fill="none" stroke="#2a2aa6" stroke-width="0.8"/>
<path d="M611.32,510.24 L613.57,514.23 L609.07,514.23Z" fill="none" stroke="#2a2aa6" stroke-width="0.8"/>
<path d="M625.85,510.24 L628.10,514.23 L623.60,514.23Z" fill="none" stroke="#2a2aa6" stroke-width="0.8"/>
<path d="M640.38,511.45 L642.63,515.44 L638.13,515.44Z" fill="none" stroke="#2a2aa6" stroke-width="0.8"/>
<path d="M654.91,511.45 L657.16,515.44 L652.66,515.44Z" fill="none" stroke="#2a2aa6" stroke-width="0.8"/>
<path d="M596.79,497.56V503.38M594.99,497.56h3.6M594.99,503.38h3.6" stroke="#6d6d6d" stroke-width="0.7" fill="none"/>
<path d="M611.32,507.01V509.44M609.52,507.01h3.6M609.52,509.44h3.6" stroke="#6d6d6d" stroke-width="0.7" fill="none"/>
<path d="M553.20,513.32 L567.73,513.07 L582.26,512.35 L596.79,500.47 L611.32,508.22 L625.85,510.89 L640.38,513.07 L654.91,513.07" fill="none" stroke="#f0a43c" stroke-width="1.0"/>
<path d="M553.20,510.87 L555.55,513.32 L553.20,515.77 L550.85,513.32Z" fill="none" stroke="#f0a43c" stroke-width="0.8"/>
<path d="M567.73,510.62 L570.08,513.07 L567.73,515.52 L565.38,513.07Z" fill="none" stroke="#f0a43c" stroke-width="0.8"/>
<path d="M582.26,509.90 L584.61,512.35 L582.26,514.80 L579.91,512.35Z" fill="none" stroke="#f0a43c" stroke-width="0.8"/>
<path d="M596.79,498.02 L599.14,500.47 L596.79,502.92 L594.44,500.47Z" fill="none" stroke="#f0a43c" stroke-width="0.8"/>
<path d="M611.32,505.77 L613.67,508.22 L611.32,510.67 L608.97,508.22Z" fill="none" stroke="#f0a43c" stroke-width="0.8"/>
<path d="M625.85,508.44 L628.20,510.89 L625.85,513.34 L623.50,510.89Z" fill="none" stroke="#f0a43c" stroke-width="0.8"/>
<path d="M640.38,510.62 L642.73,513.07 L640.38,515.52 L638.03,513.07Z" fill="none" stroke="#f0a43c" stroke-width="0.8"/>
<path d="M654.91,510.62 L657.26,513.07 L654.91,515.52 L652.56,513.07Z" fill="none" stroke="#f0a43c" stroke-width="0.8"/>
<path d="M596.79,460.47V467.74M594.99,460.47h3.6M594.99,467.74h3.6" stroke="#6d6d6d" stroke-width="0.7" fill="none"/>
<path d="M611.32,455.14V474.53M609.52,455.14h3.6M609.52,474.53h3.6" stroke="#6d6d6d" stroke-width="0.7" fill="none"/>
<path d="M625.85,473.08V481.80M624.05,473.08h3.6M624.05,481.80h3.6" stroke="#6d6d6d" stroke-width="0.7" fill="none"/>
<path d="M553.20,512.59 L567.73,505.80 L582.26,488.83 L596.79,464.11 L611.32,464.84 L625.85,477.44 L640.38,501.68 L654.91,496.10" fill="none" stroke="#a8272c" stroke-width="1.0"/>
<circle cx="553.20" cy="512.59" r="2.05" fill="none" stroke="#a8272c" stroke-width="0.8"/>
<circle cx="567.73" cy="505.80" r="2.05" fill="none" stroke="#a8272c" stroke-width="0.8"/>
<circle cx="582.26" cy="488.83" r="2.05" fill="none" stroke="#a8272c" stroke-width="0.8"/>
<circle cx="596.79" cy="464.11" r="2.05" fill="none" stroke="#a8272c" stroke-width="0.8"/>
<circle cx="611.32" cy="464.84" r="2.05" fill="none" stroke="#a8272c" stroke-width="0.8"/>
<circle cx="625.85" cy="477.44" r="2.05" fill="none" stroke="#a8272c" stroke-width="0.8"/>
<circle cx="640.38" cy="501.68" r="2.05" fill="none" stroke="#a8272c" stroke-width="0.8"/>
<circle cx="654.91" cy="496.10" r="2.05" fill="none" stroke="#a8272c" stroke-width="0.8"/>
<text x="547.0" y="393.0" font-size="8.2" fill="#1a1a1a" class="b" letter-spacing="0.3"><tspan font-style="italic">TaLOX2</tspan>-T2</text>
<line x1="625.80" y1="397.60" x2="639.30" y2="397.60" stroke="#2a2aa6" stroke-width="1.0" />
<path d="M632.55,394.70 L635.35,399.68 L629.75,399.68Z" fill="none" stroke="#2a2aa6" stroke-width="0.9"/>
<text x="642.00" y="400.70" font-size="8.7" text-anchor="start" fill="#1a1a1a" font-weight="normal" font-style="normal" class="b">PBE</text>
<line x1="625.80" y1="407.20" x2="639.30" y2="407.20" stroke="#a8272c" stroke-width="1.0" />
<circle cx="632.55" cy="407.20" r="2.6" fill="none" stroke="#a8272c" stroke-width="0.9"/>
<text x="642.00" y="410.30" font-size="8.7" text-anchor="start" fill="#1a1a1a" font-weight="normal" font-style="normal" class="b">A3A-PBE</text>
<line x1="625.80" y1="416.80" x2="639.30" y2="416.80" stroke="#f0a43c" stroke-width="1.0" />
<path d="M632.55,413.80 L635.45,416.80 L632.55,419.80 L629.65,416.80Z" fill="none" stroke="#f0a43c" stroke-width="0.9"/>
<text x="642.00" y="419.90" font-size="8.7" text-anchor="start" fill="#1a1a1a" font-weight="normal" font-style="normal" class="b">A3A-Gam</text>
<line x1="625.80" y1="426.50" x2="639.30" y2="426.50" stroke="#222222" stroke-width="1.0" />
<path d="M632.55,429.40 L635.35,424.42 L629.75,424.42Z" fill="none" stroke="#222222" stroke-width="0.9"/>
<text x="642.00" y="429.60" font-size="8.7" text-anchor="start" fill="#1a1a1a" font-weight="normal" font-style="normal" class="b">Untreated</text>
<text transform="translate(0.5,555.7) scale(0.85,1.0)" font-size="18.0" font-weight="bold" fill="#000">f</text>
<text x="361.00" y="549.50" font-size="8.7" text-anchor="middle" fill="#1a1a1a" font-weight="normal" font-style="normal" class="b">C to T (rice)</text>
<text transform="translate(7.9,616.2) rotate(-90)" font-size="8.65" text-anchor="middle" fill="#1a1a1a" class="b">% of reads with C to T</text>
<text transform="translate(18.1,617.2) rotate(-90)" font-size="8.65" text-anchor="middle" fill="#1a1a1a" class="b">conversion</text>
<line x1="39.50" y1="557.90" x2="39.50" y2="676.90" stroke="#333333" stroke-width="0.9" />
<line x1="35.50" y1="676.90" x2="39.50" y2="676.90" stroke="#333333" stroke-width="0.9" />
<text x="34.10" y="679.90" font-size="8.6" text-anchor="end" fill="#2a2a2a" font-weight="normal" font-style="normal" class="b">0</text>
<line x1="37.30" y1="666.98" x2="39.50" y2="666.98" stroke="#333333" stroke-width="0.8" />
<line x1="37.30" y1="657.07" x2="39.50" y2="657.07" stroke="#333333" stroke-width="0.8" />
<line x1="35.50" y1="647.15" x2="39.50" y2="647.15" stroke="#333333" stroke-width="0.9" />
<text x="34.10" y="650.15" font-size="8.6" text-anchor="end" fill="#2a2a2a" font-weight="normal" font-style="normal" class="b">10</text>
<line x1="37.30" y1="637.23" x2="39.50" y2="637.23" stroke="#333333" stroke-width="0.8" />
<line x1="37.30" y1="627.32" x2="39.50" y2="627.32" stroke="#333333" stroke-width="0.8" />
<line x1="35.50" y1="617.40" x2="39.50" y2="617.40" stroke="#333333" stroke-width="0.9" />
<text x="34.10" y="620.40" font-size="8.6" text-anchor="end" fill="#2a2a2a" font-weight="normal" font-style="normal" class="b">20</text>
<line x1="37.30" y1="607.48" x2="39.50" y2="607.48" stroke="#333333" stroke-width="0.8" />
<line x1="37.30" y1="597.57" x2="39.50" y2="597.57" stroke="#333333" stroke-width="0.8" />
<line x1="35.50" y1="587.65" x2="39.50" y2="587.65" stroke="#333333" stroke-width="0.9" />
<text x="34.10" y="590.65" font-size="8.6" text-anchor="end" fill="#2a2a2a" font-weight="normal" font-style="normal" class="b">30</text>
<line x1="37.30" y1="577.73" x2="39.50" y2="577.73" stroke="#333333" stroke-width="0.8" />
<line x1="37.30" y1="567.82" x2="39.50" y2="567.82" stroke="#333333" stroke-width="0.8" />
<line x1="35.50" y1="557.90" x2="39.50" y2="557.90" stroke="#333333" stroke-width="0.9" />
<text x="34.10" y="560.90" font-size="8.6" text-anchor="end" fill="#2a2a2a" font-weight="normal" font-style="normal" class="b">40</text>
<line x1="39.50" y1="676.90" x2="145.60" y2="676.90" stroke="#333333" stroke-width="0.9" />
<line x1="49.90" y1="676.90" x2="49.90" y2="679.90" stroke="#333333" stroke-width="0.8" />
<text transform="translate(52.90,687.90) rotate(-45)" font-size="9.2" text-anchor="end" fill="#2a2a2a" font-style="normal" class="b">C-3</text>
<line x1="60.50" y1="676.90" x2="60.50" y2="679.90" stroke="#333333" stroke-width="0.8" />
<text transform="translate(63.50,687.90) rotate(-45)" font-size="9.2" text-anchor="end" fill="#2a2a2a" font-style="normal" class="b">C1</text>
<line x1="71.10" y1="676.90" x2="71.10" y2="679.90" stroke="#333333" stroke-width="0.8" />
<text transform="translate(74.10,687.90) rotate(-45)" font-size="9.2" text-anchor="end" fill="#2a2a2a" font-style="normal" class="b">C8</text>
<line x1="81.70" y1="676.90" x2="81.70" y2="679.90" stroke="#333333" stroke-width="0.8" />
<text transform="translate(84.70,687.90) rotate(-45)" font-size="9.2" text-anchor="end" fill="#2a2a2a" font-style="normal" class="b">C9</text>
<line x1="92.30" y1="676.90" x2="92.30" y2="679.90" stroke="#333333" stroke-width="0.8" />
<text transform="translate(95.30,687.90) rotate(-45)" font-size="9.2" text-anchor="end" fill="#2a2a2a" font-style="normal" class="b">C10</text>
<line x1="102.90" y1="676.90" x2="102.90" y2="679.90" stroke="#333333" stroke-width="0.8" />
<text transform="translate(105.90,687.90) rotate(-45)" font-size="9.2" text-anchor="end" fill="#2a2a2a" font-style="normal" class="b">C13</text>
<line x1="113.50" y1="676.90" x2="113.50" y2="679.90" stroke="#333333" stroke-width="0.8" />
<text transform="translate(116.50,687.90) rotate(-45)" font-size="9.2" text-anchor="end" fill="#2a2a2a" font-style="normal" class="b">C14</text>
<line x1="124.10" y1="676.90" x2="124.10" y2="679.90" stroke="#333333" stroke-width="0.8" />
<text transform="translate(127.10,687.90) rotate(-45)" font-size="9.2" text-anchor="end" fill="#2a2a2a" font-style="normal" class="b">C15</text>
<line x1="134.70" y1="676.90" x2="134.70" y2="679.90" stroke="#333333" stroke-width="0.8" />
<text transform="translate(137.70,687.90) rotate(-45)" font-size="9.2" text-anchor="end" fill="#2a2a2a" font-style="normal" class="b">C16</text>
<path d="M49.90,676.90 L60.50,676.90 L71.10,676.90 L81.70,676.90 L92.30,676.90 L102.90,676.90 L113.50,676.90 L124.10,676.90 L134.70,676.90" fill="none" stroke="#222222" stroke-width="0.9"/>
<path d="M49.90,678.70 L51.60,675.70 L48.20,675.70Z" fill="none" stroke="#222222" stroke-width="1.0"/>
<path d="M60.50,678.70 L62.20,675.70 L58.80,675.70Z" fill="none" stroke="#222222" stroke-width="1.0"/>
<path d="M71.10,678.70 L72.80,675.70 L69.40,675.70Z" fill="none" stroke="#222222" stroke-width="1.0"/>
<path d="M81.70,678.70 L83.40,675.70 L80.00,675.70Z" fill="none" stroke="#222222" stroke-width="1.0"/>
<path d="M92.30,678.70 L94.00,675.70 L90.60,675.70Z" fill="none" stroke="#222222" stroke-width="1.0"/>
<path d="M102.90,678.70 L104.60,675.70 L101.20,675.70Z" fill="none" stroke="#222222" stroke-width="1.0"/>
<path d="M113.50,678.70 L115.20,675.70 L111.80,675.70Z" fill="none" stroke="#222222" stroke-width="1.0"/>
<path d="M124.10,678.70 L125.80,675.70 L122.40,675.70Z" fill="none" stroke="#222222" stroke-width="1.0"/>
<path d="M134.70,678.70 L136.40,675.70 L133.00,675.70Z" fill="none" stroke="#222222" stroke-width="1.0"/>
<path d="M71.10,636.74V639.71M69.70,636.74h2.8M69.70,639.71h2.8" stroke="#6d6d6d" stroke-width="0.7" fill="none"/>
<path d="M49.90,676.90 L60.50,675.41 L71.10,638.23 L81.70,665.89 L92.30,672.44 L102.90,676.90 L113.50,676.90 L124.10,676.90 L134.70,676.90" fill="none" stroke="#2a2aa6" stroke-width="0.9"/>
<path d="M49.90,675.10 L51.60,678.10 L48.20,678.10Z" fill="none" stroke="#2a2aa6" stroke-width="1.0"/>
<path d="M60.50,673.61 L62.20,676.61 L58.80,676.61Z" fill="none" stroke="#2a2aa6" stroke-width="1.0"/>
<path d="M71.10,636.43 L72.80,639.43 L69.40,639.43Z" fill="none" stroke="#2a2aa6" stroke-width="1.0"/>
<path d="M81.70,664.09 L83.40,667.09 L80.00,667.09Z" fill="none" stroke="#2a2aa6" stroke-width="1.0"/>
<path d="M92.30,670.64 L94.00,673.64 L90.60,673.64Z" fill="none" stroke="#2a2aa6" stroke-width="1.0"/>
<path d="M102.90,675.10 L104.60,678.10 L101.20,678.10Z" fill="none" stroke="#2a2aa6" stroke-width="1.0"/>
<path d="M113.50,675.10 L115.20,678.10 L111.80,678.10Z" fill="none" stroke="#2a2aa6" stroke-width="1.0"/>
<path d="M124.10,675.10 L125.80,678.10 L122.40,678.10Z" fill="none" stroke="#2a2aa6" stroke-width="1.0"/>
<path d="M134.70,675.10 L136.40,678.10 L133.00,678.10Z" fill="none" stroke="#2a2aa6" stroke-width="1.0"/>
<path d="M49.90,671.84V674.82M48.50,671.84h2.8M48.50,674.82h2.8" stroke="#6d6d6d" stroke-width="0.7" fill="none"/>
<path d="M60.50,659.94V673.03M59.10,659.94h2.8M59.10,673.03h2.8" stroke="#6d6d6d" stroke-width="0.7" fill="none"/>
<path d="M71.10,639.71V645.66M69.70,639.71h2.8M69.70,645.66h2.8" stroke="#6d6d6d" stroke-width="0.7" fill="none"/>
<path d="M81.70,635.85V643.58M80.30,635.85h2.8M80.30,643.58h2.8" stroke="#6d6d6d" stroke-width="0.7" fill="none"/>
<path d="M92.30,645.07V649.23M90.90,645.07h2.8M90.90,649.23h2.8" stroke="#6d6d6d" stroke-width="0.7" fill="none"/>
<path d="M134.70,664.70V668.27M133.30,664.70h2.8M133.30,668.27h2.8" stroke="#6d6d6d" stroke-width="0.7" fill="none"/>
<path d="M49.90,673.33 L60.50,666.49 L71.10,642.69 L81.70,639.71 L92.30,647.15 L102.90,676.01 L113.50,676.01 L124.10,675.71 L134.70,666.49" fill="none" stroke="#f0a43c" stroke-width="0.9"/>
<path d="M49.90,671.43 L51.70,673.33 L49.90,675.23 L48.10,673.33Z" fill="none" stroke="#f0a43c" stroke-width="1.0"/>
<path d="M60.50,664.59 L62.30,666.49 L60.50,668.39 L58.70,666.49Z" fill="none" stroke="#f0a43c" stroke-width="1.0"/>
<path d="M71.10,640.79 L72.90,642.69 L71.10,644.59 L69.30,642.69Z" fill="none" stroke="#f0a43c" stroke-width="1.0"/>
<path d="M81.70,637.81 L83.50,639.71 L81.70,641.61 L79.90,639.71Z" fill="none" stroke="#f0a43c" stroke-width="1.0"/>
<path d="M92.30,645.25 L94.10,647.15 L92.30,649.05 L90.50,647.15Z" fill="none" stroke="#f0a43c" stroke-width="1.0"/>
<path d="M102.90,674.11 L104.70,676.01 L102.90,677.91 L101.10,676.01Z" fill="none" stroke="#f0a43c" stroke-width="1.0"/>
<path d="M113.50,674.11 L115.30,676.01 L113.50,677.91 L111.70,676.01Z" fill="none" stroke="#f0a43c" stroke-width="1.0"/>
<path d="M124.10,673.81 L125.90,675.71 L124.10,677.61 L122.30,675.71Z" fill="none" stroke="#f0a43c" stroke-width="1.0"/>
<path d="M134.70,664.59 L136.50,666.49 L134.70,668.39 L132.90,666.49Z" fill="none" stroke="#f0a43c" stroke-width="1.0"/>
<path d="M60.50,666.49V669.46M59.10,666.49h2.8M59.10,669.46h2.8" stroke="#6d6d6d" stroke-width="0.7" fill="none"/>
<path d="M71.10,618.29V631.38M69.70,618.29h2.8M69.70,631.38h2.8" stroke="#6d6d6d" stroke-width="0.7" fill="none"/>
<path d="M81.70,622.46V626.03M80.30,622.46h2.8M80.30,626.03h2.8" stroke="#6d6d6d" stroke-width="0.7" fill="none"/>
<path d="M92.30,624.24V637.33M90.90,624.24h2.8M90.90,637.33h2.8" stroke="#6d6d6d" stroke-width="0.7" fill="none"/>
<path d="M49.90,671.84 L60.50,667.98 L71.10,624.84 L81.70,624.24 L92.30,630.79 L102.90,667.38 L113.50,668.87 L124.10,667.68 L134.70,659.05" fill="none" stroke="#a8272c" stroke-width="0.9"/>
<circle cx="49.90" cy="671.84" r="1.5" fill="none" stroke="#a8272c" stroke-width="1.0"/>
<circle cx="60.50" cy="667.98" r="1.5" fill="none" stroke="#a8272c" stroke-width="1.0"/>
<circle cx="71.10" cy="624.84" r="1.5" fill="none" stroke="#a8272c" stroke-width="1.0"/>
<circle cx="81.70" cy="624.24" r="1.5" fill="none" stroke="#a8272c" stroke-width="1.0"/>
<circle cx="92.30" cy="630.79" r="1.5" fill="none" stroke="#a8272c" stroke-width="1.0"/>
<circle cx="102.90" cy="667.38" r="1.5" fill="none" stroke="#a8272c" stroke-width="1.0"/>
<circle cx="113.50" cy="668.87" r="1.5" fill="none" stroke="#a8272c" stroke-width="1.0"/>
<circle cx="124.10" cy="667.68" r="1.5" fill="none" stroke="#a8272c" stroke-width="1.0"/>
<circle cx="134.70" cy="659.05" r="1.5" fill="none" stroke="#a8272c" stroke-width="1.0"/>
<text x="44.9" y="557.5" font-size="8.2" fill="#1a1a1a" class="b" letter-spacing="0.3"><tspan font-style="italic">OsAAT</tspan>-T1</text>
<line x1="168.00" y1="557.90" x2="168.00" y2="677.20" stroke="#333333" stroke-width="0.9" />
<line x1="164.00" y1="677.20" x2="168.00" y2="677.20" stroke="#333333" stroke-width="0.9" />
<text x="162.60" y="680.20" font-size="8.6" text-anchor="end" fill="#2a2a2a" font-weight="normal" font-style="normal" class="b">0</text>
<line x1="165.80" y1="667.26" x2="168.00" y2="667.26" stroke="#333333" stroke-width="0.8" />
<line x1="165.80" y1="657.32" x2="168.00" y2="657.32" stroke="#333333" stroke-width="0.8" />
<line x1="164.00" y1="647.38" x2="168.00" y2="647.38" stroke="#333333" stroke-width="0.9" />
<text x="162.60" y="650.38" font-size="8.6" text-anchor="end" fill="#2a2a2a" font-weight="normal" font-style="normal" class="b">10</text>
<line x1="165.80" y1="637.43" x2="168.00" y2="637.43" stroke="#333333" stroke-width="0.8" />
<line x1="165.80" y1="627.49" x2="168.00" y2="627.49" stroke="#333333" stroke-width="0.8" />
<line x1="164.00" y1="617.55" x2="168.00" y2="617.55" stroke="#333333" stroke-width="0.9" />
<text x="162.60" y="620.55" font-size="8.6" text-anchor="end" fill="#2a2a2a" font-weight="normal" font-style="normal" class="b">20</text>
<line x1="165.80" y1="607.61" x2="168.00" y2="607.61" stroke="#333333" stroke-width="0.8" />
<line x1="165.80" y1="597.67" x2="168.00" y2="597.67" stroke="#333333" stroke-width="0.8" />
<line x1="164.00" y1="587.72" x2="168.00" y2="587.72" stroke="#333333" stroke-width="0.9" />
<text x="162.60" y="590.72" font-size="8.6" text-anchor="end" fill="#2a2a2a" font-weight="normal" font-style="normal" class="b">30</text>
<line x1="165.80" y1="577.78" x2="168.00" y2="577.78" stroke="#333333" stroke-width="0.8" />
<line x1="165.80" y1="567.84" x2="168.00" y2="567.84" stroke="#333333" stroke-width="0.8" />
<line x1="164.00" y1="557.90" x2="168.00" y2="557.90" stroke="#333333" stroke-width="0.9" />
<text x="162.60" y="560.90" font-size="8.6" text-anchor="end" fill="#2a2a2a" font-weight="normal" font-style="normal" class="b">40</text>
<line x1="168.00" y1="677.20" x2="257.80" y2="677.20" stroke="#333333" stroke-width="0.9" />
<line x1="178.80" y1="677.20" x2="178.80" y2="680.20" stroke="#333333" stroke-width="0.8" />
<text transform="translate(181.80,688.20) rotate(-45)" font-size="9.2" text-anchor="end" fill="#2a2a2a" font-style="normal" class="b">C-4</text>
<line x1="188.64" y1="677.20" x2="188.64" y2="680.20" stroke="#333333" stroke-width="0.8" />
<text transform="translate(191.64,688.20) rotate(-45)" font-size="9.2" text-anchor="end" fill="#2a2a2a" font-style="normal" class="b">C-2</text>
<line x1="198.48" y1="677.20" x2="198.48" y2="680.20" stroke="#333333" stroke-width="0.8" />
<text transform="translate(201.48,688.20) rotate(-45)" font-size="9.2" text-anchor="end" fill="#2a2a2a" font-style="normal" class="b">C3</text>
<line x1="208.32" y1="677.20" x2="208.32" y2="680.20" stroke="#333333" stroke-width="0.8" />
<text transform="translate(211.32,688.20) rotate(-45)" font-size="9.2" text-anchor="end" fill="#2a2a2a" font-style="normal" class="b">C4</text>
<line x1="218.16" y1="677.20" x2="218.16" y2="680.20" stroke="#333333" stroke-width="0.8" />
<text transform="translate(221.16,688.20) rotate(-45)" font-size="9.2" text-anchor="end" fill="#2a2a2a" font-style="normal" class="b">C7</text>
<line x1="228.00" y1="677.20" x2="228.00" y2="680.20" stroke="#333333" stroke-width="0.8" />
<text transform="translate(231.00,688.20) rotate(-45)" font-size="9.2" text-anchor="end" fill="#2a2a2a" font-style="normal" class="b">C8</text>
<line x1="237.84" y1="677.20" x2="237.84" y2="680.20" stroke="#333333" stroke-width="0.8" />
<text transform="translate(240.84,688.20) rotate(-45)" font-size="9.2" text-anchor="end" fill="#2a2a2a" font-style="normal" class="b">C11</text>
<line x1="247.68" y1="677.20" x2="247.68" y2="680.20" stroke="#333333" stroke-width="0.8" />
<text transform="translate(250.68,688.20) rotate(-45)" font-size="9.2" text-anchor="end" fill="#2a2a2a" font-style="normal" class="b">C14</text>
<path d="M178.80,677.20 L188.64,677.20 L198.48,677.20 L208.32,677.20 L218.16,677.20 L228.00,677.20 L237.84,677.20 L247.68,677.20" fill="none" stroke="#222222" stroke-width="0.9"/>
<path d="M178.80,679.00 L180.50,676.00 L177.10,676.00Z" fill="none" stroke="#222222" stroke-width="1.0"/>
<path d="M188.64,679.00 L190.34,676.00 L186.94,676.00Z" fill="none" stroke="#222222" stroke-width="1.0"/>
<path d="M198.48,679.00 L200.18,676.00 L196.78,676.00Z" fill="none" stroke="#222222" stroke-width="1.0"/>
<path d="M208.32,679.00 L210.02,676.00 L206.62,676.00Z" fill="none" stroke="#222222" stroke-width="1.0"/>
<path d="M218.16,679.00 L219.86,676.00 L216.46,676.00Z" fill="none" stroke="#222222" stroke-width="1.0"/>
<path d="M228.00,679.00 L229.70,676.00 L226.30,676.00Z" fill="none" stroke="#222222" stroke-width="1.0"/>
<path d="M237.84,679.00 L239.54,676.00 L236.14,676.00Z" fill="none" stroke="#222222" stroke-width="1.0"/>
<path d="M247.68,679.00 L249.38,676.00 L245.98,676.00Z" fill="none" stroke="#222222" stroke-width="1.0"/>
<path d="M198.48,671.23V673.62M197.08,671.23h2.8M197.08,673.62h2.8" stroke="#6d6d6d" stroke-width="0.7" fill="none"/>
<path d="M208.32,669.15V671.53M206.92,669.15h2.8M206.92,671.53h2.8" stroke="#6d6d6d" stroke-width="0.7" fill="none"/>
<path d="M218.16,665.87V668.25M216.76,665.87h2.8M216.76,668.25h2.8" stroke="#6d6d6d" stroke-width="0.7" fill="none"/>
<path d="M228.00,668.55V670.94M226.60,668.55h2.8M226.60,670.94h2.8" stroke="#6d6d6d" stroke-width="0.7" fill="none"/>
<path d="M178.80,677.20 L188.64,677.20 L198.48,672.43 L208.32,670.34 L218.16,667.06 L228.00,669.74 L237.84,676.90 L247.68,674.81" fill="none" stroke="#2a2aa6" stroke-width="0.9"/>
<path d="M178.80,675.40 L180.50,678.40 L177.10,678.40Z" fill="none" stroke="#2a2aa6" stroke-width="1.0"/>
<path d="M188.64,675.40 L190.34,678.40 L186.94,678.40Z" fill="none" stroke="#2a2aa6" stroke-width="1.0"/>
<path d="M198.48,670.63 L200.18,673.63 L196.78,673.63Z" fill="none" stroke="#2a2aa6" stroke-width="1.0"/>
<path d="M208.32,668.54 L210.02,671.54 L206.62,671.54Z" fill="none" stroke="#2a2aa6" stroke-width="1.0"/>
<path d="M218.16,665.26 L219.86,668.26 L216.46,668.26Z" fill="none" stroke="#2a2aa6" stroke-width="1.0"/>
<path d="M228.00,667.94 L229.70,670.94 L226.30,670.94Z" fill="none" stroke="#2a2aa6" stroke-width="1.0"/>
<path d="M237.84,675.10 L239.54,678.10 L236.14,678.10Z" fill="none" stroke="#2a2aa6" stroke-width="1.0"/>
<path d="M247.68,673.01 L249.38,676.01 L245.98,676.01Z" fill="none" stroke="#2a2aa6" stroke-width="1.0"/>
<path d="M178.80,676.31 L188.64,676.60 L198.48,667.66 L208.32,655.73 L218.16,659.30 L228.00,658.41 L237.84,668.55 L247.68,664.67" fill="none" stroke="#f0a43c" stroke-width="0.9"/>
<path d="M178.80,674.41 L180.60,676.31 L178.80,678.21 L177.00,676.31Z" fill="none" stroke="#f0a43c" stroke-width="1.0"/>
<path d="M188.64,674.70 L190.44,676.60 L188.64,678.50 L186.84,676.60Z" fill="none" stroke="#f0a43c" stroke-width="1.0"/>
<path d="M198.48,665.76 L200.28,667.66 L198.48,669.56 L196.68,667.66Z" fill="none" stroke="#f0a43c" stroke-width="1.0"/>
<path d="M208.32,653.83 L210.12,655.73 L208.32,657.63 L206.52,655.73Z" fill="none" stroke="#f0a43c" stroke-width="1.0"/>
<path d="M218.16,657.40 L219.96,659.30 L218.16,661.20 L216.36,659.30Z" fill="none" stroke="#f0a43c" stroke-width="1.0"/>
<path d="M228.00,656.51 L229.80,658.41 L228.00,660.31 L226.20,658.41Z" fill="none" stroke="#f0a43c" stroke-width="1.0"/>
<path d="M237.84,666.65 L239.64,668.55 L237.84,670.45 L236.04,668.55Z" fill="none" stroke="#f0a43c" stroke-width="1.0"/>
<path d="M247.68,662.77 L249.48,664.67 L247.68,666.57 L245.88,664.67Z" fill="none" stroke="#f0a43c" stroke-width="1.0"/>
<path d="M198.48,633.06V642.01M197.08,633.06h2.8M197.08,642.01h2.8" stroke="#6d6d6d" stroke-width="0.7" fill="none"/>
<path d="M208.32,583.85V589.81M206.92,583.85h2.8M206.92,589.81h2.8" stroke="#6d6d6d" stroke-width="0.7" fill="none"/>
<path d="M218.16,585.34V590.11M216.76,585.34h2.8M216.76,590.11h2.8" stroke="#6d6d6d" stroke-width="0.7" fill="none"/>
<path d="M228.00,582.36V588.32M226.60,582.36h2.8M226.60,588.32h2.8" stroke="#6d6d6d" stroke-width="0.7" fill="none"/>
<path d="M237.84,600.25V606.22M236.44,600.25h2.8M236.44,606.22h2.8" stroke="#6d6d6d" stroke-width="0.7" fill="none"/>
<path d="M247.68,584.74V596.67M246.28,584.74h2.8M246.28,596.67h2.8" stroke="#6d6d6d" stroke-width="0.7" fill="none"/>
<path d="M178.80,672.73 L188.64,676.31 L198.48,637.53 L208.32,586.83 L218.16,587.72 L228.00,585.34 L237.84,603.23 L247.68,590.71" fill="none" stroke="#a8272c" stroke-width="0.9"/>
<circle cx="178.80" cy="672.73" r="1.5" fill="none" stroke="#a8272c" stroke-width="1.0"/>
<circle cx="188.64" cy="676.31" r="1.5" fill="none" stroke="#a8272c" stroke-width="1.0"/>
<circle cx="198.48" cy="637.53" r="1.5" fill="none" stroke="#a8272c" stroke-width="1.0"/>
<circle cx="208.32" cy="586.83" r="1.5" fill="none" stroke="#a8272c" stroke-width="1.0"/>
<circle cx="218.16" cy="587.72" r="1.5" fill="none" stroke="#a8272c" stroke-width="1.0"/>
<circle cx="228.00" cy="585.34" r="1.5" fill="none" stroke="#a8272c" stroke-width="1.0"/>
<circle cx="237.84" cy="603.23" r="1.5" fill="none" stroke="#a8272c" stroke-width="1.0"/>
<circle cx="247.68" cy="590.71" r="1.5" fill="none" stroke="#a8272c" stroke-width="1.0"/>
<text x="175.0" y="557.5" font-size="8.2" fill="#1a1a1a" class="b" letter-spacing="0.3"><tspan font-style="italic">OsCDC48</tspan></text>
<line x1="278.30" y1="557.90" x2="278.30" y2="677.20" stroke="#333333" stroke-width="0.9" />
<line x1="274.30" y1="677.20" x2="278.30" y2="677.20" stroke="#333333" stroke-width="0.9" />
<text x="272.90" y="680.20" font-size="8.6" text-anchor="end" fill="#2a2a2a" font-weight="normal" font-style="normal" class="b">0</text>
<line x1="276.10" y1="667.26" x2="278.30" y2="667.26" stroke="#333333" stroke-width="0.8" />
<line x1="276.10" y1="657.32" x2="278.30" y2="657.32" stroke="#333333" stroke-width="0.8" />
<line x1="274.30" y1="647.38" x2="278.30" y2="647.38" stroke="#333333" stroke-width="0.9" />
<text x="272.90" y="650.38" font-size="8.6" text-anchor="end" fill="#2a2a2a" font-weight="normal" font-style="normal" class="b">10</text>
<line x1="276.10" y1="637.43" x2="278.30" y2="637.43" stroke="#333333" stroke-width="0.8" />
<line x1="276.10" y1="627.49" x2="278.30" y2="627.49" stroke="#333333" stroke-width="0.8" />
<line x1="274.30" y1="617.55" x2="278.30" y2="617.55" stroke="#333333" stroke-width="0.9" />
<text x="272.90" y="620.55" font-size="8.6" text-anchor="end" fill="#2a2a2a" font-weight="normal" font-style="normal" class="b">20</text>
<line x1="276.10" y1="607.61" x2="278.30" y2="607.61" stroke="#333333" stroke-width="0.8" />
<line x1="276.10" y1="597.67" x2="278.30" y2="597.67" stroke="#333333" stroke-width="0.8" />
<line x1="274.30" y1="587.72" x2="278.30" y2="587.72" stroke="#333333" stroke-width="0.9" />
<text x="272.90" y="590.72" font-size="8.6" text-anchor="end" fill="#2a2a2a" font-weight="normal" font-style="normal" class="b">30</text>
<line x1="276.10" y1="577.78" x2="278.30" y2="577.78" stroke="#333333" stroke-width="0.8" />
<line x1="276.10" y1="567.84" x2="278.30" y2="567.84" stroke="#333333" stroke-width="0.8" />
<line x1="274.30" y1="557.90" x2="278.30" y2="557.90" stroke="#333333" stroke-width="0.9" />
<text x="272.90" y="560.90" font-size="8.6" text-anchor="end" fill="#2a2a2a" font-weight="normal" font-style="normal" class="b">40</text>
<line x1="278.30" y1="677.20" x2="372.80" y2="677.20" stroke="#333333" stroke-width="0.9" />
<line x1="290.70" y1="677.20" x2="290.70" y2="680.20" stroke="#333333" stroke-width="0.8" />
<text transform="translate(293.70,688.20) rotate(-45)" font-size="9.2" text-anchor="end" fill="#2a2a2a" font-style="normal" class="b">C-2</text>
<line x1="302.37" y1="677.20" x2="302.37" y2="680.20" stroke="#333333" stroke-width="0.8" />
<text transform="translate(305.37,688.20) rotate(-45)" font-size="9.2" text-anchor="end" fill="#2a2a2a" font-style="normal" class="b">C4</text>
<line x1="314.04" y1="677.20" x2="314.04" y2="680.20" stroke="#333333" stroke-width="0.8" />
<text transform="translate(317.04,688.20) rotate(-45)" font-size="9.2" text-anchor="end" fill="#2a2a2a" font-style="normal" class="b">C8</text>
<line x1="325.71" y1="677.20" x2="325.71" y2="680.20" stroke="#333333" stroke-width="0.8" />
<text transform="translate(328.71,688.20) rotate(-45)" font-size="9.2" text-anchor="end" fill="#2a2a2a" font-style="normal" class="b">C13</text>
<line x1="337.38" y1="677.20" x2="337.38" y2="680.20" stroke="#333333" stroke-width="0.8" />
<text transform="translate(340.38,688.20) rotate(-45)" font-size="9.2" text-anchor="end" fill="#2a2a2a" font-style="normal" class="b">C14</text>
<line x1="349.05" y1="677.20" x2="349.05" y2="680.20" stroke="#333333" stroke-width="0.8" />
<text transform="translate(352.05,688.20) rotate(-45)" font-size="9.2" text-anchor="end" fill="#2a2a2a" font-style="normal" class="b">C15</text>
<line x1="360.72" y1="677.20" x2="360.72" y2="680.20" stroke="#333333" stroke-width="0.8" />
<text transform="translate(363.72,688.20) rotate(-45)" font-size="9.2" text-anchor="end" fill="#2a2a2a" font-style="normal" class="b">C17</text>
<path d="M290.70,677.20 L302.37,677.20 L314.04,677.20 L325.71,677.20 L337.38,677.20 L349.05,677.20 L360.72,677.20" fill="none" stroke="#222222" stroke-width="0.9"/>
<path d="M290.70,679.00 L292.40,676.00 L289.00,676.00Z" fill="none" stroke="#222222" stroke-width="1.0"/>
<path d="M302.37,679.00 L304.07,676.00 L300.67,676.00Z" fill="none" stroke="#222222" stroke-width="1.0"/>
<path d="M314.04,679.00 L315.74,676.00 L312.34,676.00Z" fill="none" stroke="#222222" stroke-width="1.0"/>
<path d="M325.71,679.00 L327.41,676.00 L324.01,676.00Z" fill="none" stroke="#222222" stroke-width="1.0"/>
<path d="M337.38,679.00 L339.08,676.00 L335.68,676.00Z" fill="none" stroke="#222222" stroke-width="1.0"/>
<path d="M349.05,679.00 L350.75,676.00 L347.35,676.00Z" fill="none" stroke="#222222" stroke-width="1.0"/>
<path d="M360.72,679.00 L362.42,676.00 L359.02,676.00Z" fill="none" stroke="#222222" stroke-width="1.0"/>
<path d="M290.70,677.20 L302.37,677.20 L314.04,677.20 L325.71,677.20 L337.38,677.20 L349.05,677.20 L360.72,677.20" fill="none" stroke="#2a2aa6" stroke-width="0.9"/>
<path d="M290.70,675.40 L292.40,678.40 L289.00,678.40Z" fill="none" stroke="#2a2aa6" stroke-width="1.0"/>
<path d="M302.37,675.40 L304.07,678.40 L300.67,678.40Z" fill="none" stroke="#2a2aa6" stroke-width="1.0"/>
<path d="M314.04,675.40 L315.74,678.40 L312.34,678.40Z" fill="none" stroke="#2a2aa6" stroke-width="1.0"/>
<path d="M325.71,675.40 L327.41,678.40 L324.01,678.40Z" fill="none" stroke="#2a2aa6" stroke-width="1.0"/>
<path d="M337.38,675.40 L339.08,678.40 L335.68,678.40Z" fill="none" stroke="#2a2aa6" stroke-width="1.0"/>
<path d="M349.05,675.40 L350.75,678.40 L347.35,678.40Z" fill="none" stroke="#2a2aa6" stroke-width="1.0"/>
<path d="M360.72,675.40 L362.42,678.40 L359.02,678.40Z" fill="none" stroke="#2a2aa6" stroke-width="1.0"/>
<path d="M302.37,666.76V669.74M300.97,666.76h2.8M300.97,669.74h2.8" stroke="#6d6d6d" stroke-width="0.7" fill="none"/>
<path d="M290.70,676.60 L302.37,668.25 L314.04,676.01 L325.71,676.90 L337.38,676.90 L349.05,676.90 L360.72,675.41" fill="none" stroke="#f0a43c" stroke-width="0.9"/>
<path d="M290.70,674.70 L292.50,676.60 L290.70,678.50 L288.90,676.60Z" fill="none" stroke="#f0a43c" stroke-width="1.0"/>
<path d="M302.37,666.35 L304.17,668.25 L302.37,670.15 L300.57,668.25Z" fill="none" stroke="#f0a43c" stroke-width="1.0"/>
<path d="M314.04,674.11 L315.84,676.01 L314.04,677.91 L312.24,676.01Z" fill="none" stroke="#f0a43c" stroke-width="1.0"/>
<path d="M325.71,675.00 L327.51,676.90 L325.71,678.80 L323.91,676.90Z" fill="none" stroke="#f0a43c" stroke-width="1.0"/>
<path d="M337.38,675.00 L339.18,676.90 L337.38,678.80 L335.58,676.90Z" fill="none" stroke="#f0a43c" stroke-width="1.0"/>
<path d="M349.05,675.00 L350.85,676.90 L349.05,678.80 L347.25,676.90Z" fill="none" stroke="#f0a43c" stroke-width="1.0"/>
<path d="M360.72,673.51 L362.52,675.41 L360.72,677.31 L358.92,675.41Z" fill="none" stroke="#f0a43c" stroke-width="1.0"/>
<path d="M302.37,619.34V626.50M300.97,619.34h2.8M300.97,626.50h2.8" stroke="#6d6d6d" stroke-width="0.7" fill="none"/>
<path d="M314.04,611.59V618.74M312.64,611.59h2.8M312.64,618.74h2.8" stroke="#6d6d6d" stroke-width="0.7" fill="none"/>
<path d="M325.71,644.99V647.97M324.31,644.99h2.8M324.31,647.97h2.8" stroke="#6d6d6d" stroke-width="0.7" fill="none"/>
<path d="M337.38,639.92V644.09M335.98,639.92h2.8M335.98,644.09h2.8" stroke="#6d6d6d" stroke-width="0.7" fill="none"/>
<path d="M349.05,645.88V648.27M347.65,645.88h2.8M347.65,648.27h2.8" stroke="#6d6d6d" stroke-width="0.7" fill="none"/>
<path d="M290.70,674.81 L302.37,622.92 L314.04,615.16 L325.71,646.48 L337.38,642.01 L349.05,647.08 L360.72,659.90" fill="none" stroke="#a8272c" stroke-width="0.9"/>
<circle cx="290.70" cy="674.81" r="1.5" fill="none" stroke="#a8272c" stroke-width="1.0"/>
<circle cx="302.37" cy="622.92" r="1.5" fill="none" stroke="#a8272c" stroke-width="1.0"/>
<circle cx="314.04" cy="615.16" r="1.5" fill="none" stroke="#a8272c" stroke-width="1.0"/>
<circle cx="325.71" cy="646.48" r="1.5" fill="none" stroke="#a8272c" stroke-width="1.0"/>
<circle cx="337.38" cy="642.01" r="1.5" fill="none" stroke="#a8272c" stroke-width="1.0"/>
<circle cx="349.05" cy="647.08" r="1.5" fill="none" stroke="#a8272c" stroke-width="1.0"/>
<circle cx="360.72" cy="659.90" r="1.5" fill="none" stroke="#a8272c" stroke-width="1.0"/>
<text x="284.1" y="557.5" font-size="8.2" fill="#1a1a1a" class="b" letter-spacing="0.3"><tspan font-style="italic">OsDEP1</tspan></text>
<line x1="394.80" y1="557.90" x2="394.80" y2="677.20" stroke="#333333" stroke-width="0.9" />
<line x1="390.80" y1="677.20" x2="394.80" y2="677.20" stroke="#333333" stroke-width="0.9" />
<text x="389.40" y="680.20" font-size="8.6" text-anchor="end" fill="#2a2a2a" font-weight="normal" font-style="normal" class="b">0</text>
<line x1="392.60" y1="667.26" x2="394.80" y2="667.26" stroke="#333333" stroke-width="0.8" />
<line x1="392.60" y1="657.32" x2="394.80" y2="657.32" stroke="#333333" stroke-width="0.8" />
<line x1="390.80" y1="647.38" x2="394.80" y2="647.38" stroke="#333333" stroke-width="0.9" />
<text x="389.40" y="650.38" font-size="8.6" text-anchor="end" fill="#2a2a2a" font-weight="normal" font-style="normal" class="b">10</text>
<line x1="392.60" y1="637.43" x2="394.80" y2="637.43" stroke="#333333" stroke-width="0.8" />
<line x1="392.60" y1="627.49" x2="394.80" y2="627.49" stroke="#333333" stroke-width="0.8" />
<line x1="390.80" y1="617.55" x2="394.80" y2="617.55" stroke="#333333" stroke-width="0.9" />
<text x="389.40" y="620.55" font-size="8.6" text-anchor="end" fill="#2a2a2a" font-weight="normal" font-style="normal" class="b">20</text>
<line x1="392.60" y1="607.61" x2="394.80" y2="607.61" stroke="#333333" stroke-width="0.8" />
<line x1="392.60" y1="597.67" x2="394.80" y2="597.67" stroke="#333333" stroke-width="0.8" />
<line x1="390.80" y1="587.72" x2="394.80" y2="587.72" stroke="#333333" stroke-width="0.9" />
<text x="389.40" y="590.72" font-size="8.6" text-anchor="end" fill="#2a2a2a" font-weight="normal" font-style="normal" class="b">30</text>
<line x1="392.60" y1="577.78" x2="394.80" y2="577.78" stroke="#333333" stroke-width="0.8" />
<line x1="392.60" y1="567.84" x2="394.80" y2="567.84" stroke="#333333" stroke-width="0.8" />
<line x1="390.80" y1="557.90" x2="394.80" y2="557.90" stroke="#333333" stroke-width="0.9" />
<text x="389.40" y="560.90" font-size="8.6" text-anchor="end" fill="#2a2a2a" font-weight="normal" font-style="normal" class="b">40</text>
<line x1="394.80" y1="677.20" x2="450.50" y2="677.20" stroke="#333333" stroke-width="0.9" />
<line x1="406.70" y1="677.20" x2="406.70" y2="680.20" stroke="#333333" stroke-width="0.8" />
<text transform="translate(409.70,688.20) rotate(-45)" font-size="9.2" text-anchor="end" fill="#2a2a2a" font-style="normal" class="b">C2</text>
<line x1="417.67" y1="677.20" x2="417.67" y2="680.20" stroke="#333333" stroke-width="0.8" />
<text transform="translate(420.67,688.20) rotate(-45)" font-size="9.2" text-anchor="end" fill="#2a2a2a" font-style="normal" class="b">C10</text>
<line x1="428.64" y1="677.20" x2="428.64" y2="680.20" stroke="#333333" stroke-width="0.8" />
<text transform="translate(431.64,688.20) rotate(-45)" font-size="9.2" text-anchor="end" fill="#2a2a2a" font-style="normal" class="b">C15</text>
<line x1="439.61" y1="677.20" x2="439.61" y2="680.20" stroke="#333333" stroke-width="0.8" />
<text transform="translate(442.61,688.20) rotate(-45)" font-size="9.2" text-anchor="end" fill="#2a2a2a" font-style="normal" class="b">C16</text>
<path d="M406.70,677.20 L417.67,677.20 L428.64,677.20 L439.61,677.20" fill="none" stroke="#222222" stroke-width="0.9"/>
<path d="M406.70,679.00 L408.40,676.00 L405.00,676.00Z" fill="none" stroke="#222222" stroke-width="1.0"/>
<path d="M417.67,679.00 L419.37,676.00 L415.97,676.00Z" fill="none" stroke="#222222" stroke-width="1.0"/>
<path d="M428.64,679.00 L430.34,676.00 L426.94,676.00Z" fill="none" stroke="#222222" stroke-width="1.0"/>
<path d="M439.61,679.00 L441.31,676.00 L437.91,676.00Z" fill="none" stroke="#222222" stroke-width="1.0"/>
<path d="M417.67,648.27V655.43M416.27,648.27h2.8M416.27,655.43h2.8" stroke="#6d6d6d" stroke-width="0.7" fill="none"/>
<path d="M406.70,677.20 L417.67,651.85 L428.64,676.31 L439.61,677.20" fill="none" stroke="#2a2aa6" stroke-width="0.9"/>
<path d="M406.70,675.40 L408.40,678.40 L405.00,678.40Z" fill="none" stroke="#2a2aa6" stroke-width="1.0"/>
<path d="M417.67,650.05 L419.37,653.05 L415.97,653.05Z" fill="none" stroke="#2a2aa6" stroke-width="1.0"/>
<path d="M428.64,674.51 L430.34,677.51 L426.94,677.51Z" fill="none" stroke="#2a2aa6" stroke-width="1.0"/>
<path d="M439.61,675.40 L441.31,678.40 L437.91,678.40Z" fill="none" stroke="#2a2aa6" stroke-width="1.0"/>
<path d="M406.70,662.88V665.87M405.30,662.88h2.8M405.30,665.87h2.8" stroke="#6d6d6d" stroke-width="0.7" fill="none"/>
<path d="M417.67,616.66V625.60M416.27,616.66h2.8M416.27,625.60h2.8" stroke="#6d6d6d" stroke-width="0.7" fill="none"/>
<path d="M406.70,664.38 L417.67,621.13 L428.64,674.81 L439.61,673.62" fill="none" stroke="#f0a43c" stroke-width="0.9"/>
<path d="M406.70,662.48 L408.50,664.38 L406.70,666.28 L404.90,664.38Z" fill="none" stroke="#f0a43c" stroke-width="1.0"/>
<path d="M417.67,619.23 L419.47,621.13 L417.67,623.03 L415.87,621.13Z" fill="none" stroke="#f0a43c" stroke-width="1.0"/>
<path d="M428.64,672.91 L430.44,674.81 L428.64,676.71 L426.84,674.81Z" fill="none" stroke="#f0a43c" stroke-width="1.0"/>
<path d="M439.61,671.72 L441.41,673.62 L439.61,675.52 L437.81,673.62Z" fill="none" stroke="#f0a43c" stroke-width="1.0"/>
<path d="M406.70,661.09V664.67M405.30,661.09h2.8M405.30,664.67h2.8" stroke="#6d6d6d" stroke-width="0.7" fill="none"/>
<path d="M417.67,596.67V609.80M416.27,596.67h2.8M416.27,609.80h2.8" stroke="#6d6d6d" stroke-width="0.7" fill="none"/>
<path d="M428.64,653.64V657.22M427.24,653.64h2.8M427.24,657.22h2.8" stroke="#6d6d6d" stroke-width="0.7" fill="none"/>
<path d="M439.61,643.20V647.97M438.21,643.20h2.8M438.21,647.97h2.8" stroke="#6d6d6d" stroke-width="0.7" fill="none"/>
<path d="M406.70,662.88 L417.67,603.23 L428.64,655.43 L439.61,645.59" fill="none" stroke="#a8272c" stroke-width="0.9"/>
<circle cx="406.70" cy="662.88" r="1.5" fill="none" stroke="#a8272c" stroke-width="1.0"/>
<circle cx="417.67" cy="603.23" r="1.5" fill="none" stroke="#a8272c" stroke-width="1.0"/>
<circle cx="428.64" cy="655.43" r="1.5" fill="none" stroke="#a8272c" stroke-width="1.0"/>
<circle cx="439.61" cy="645.59" r="1.5" fill="none" stroke="#a8272c" stroke-width="1.0"/>
<text x="396.4" y="557.5" font-size="8.2" fill="#1a1a1a" class="b" letter-spacing="0.3"><tspan font-style="italic">OsNRT1.1B</tspan>-T1</text>
<line x1="477.60" y1="557.90" x2="477.60" y2="677.40" stroke="#333333" stroke-width="0.9" />
<line x1="473.60" y1="677.40" x2="477.60" y2="677.40" stroke="#333333" stroke-width="0.9" />
<text x="472.20" y="680.40" font-size="8.6" text-anchor="end" fill="#2a2a2a" font-weight="normal" font-style="normal" class="b">0</text>
<line x1="475.40" y1="667.44" x2="477.60" y2="667.44" stroke="#333333" stroke-width="0.8" />
<line x1="475.40" y1="657.48" x2="477.60" y2="657.48" stroke="#333333" stroke-width="0.8" />
<line x1="473.60" y1="647.52" x2="477.60" y2="647.52" stroke="#333333" stroke-width="0.9" />
<text x="472.20" y="650.52" font-size="8.6" text-anchor="end" fill="#2a2a2a" font-weight="normal" font-style="normal" class="b">10</text>
<line x1="475.40" y1="637.57" x2="477.60" y2="637.57" stroke="#333333" stroke-width="0.8" />
<line x1="475.40" y1="627.61" x2="477.60" y2="627.61" stroke="#333333" stroke-width="0.8" />
<line x1="473.60" y1="617.65" x2="477.60" y2="617.65" stroke="#333333" stroke-width="0.9" />
<text x="472.20" y="620.65" font-size="8.6" text-anchor="end" fill="#2a2a2a" font-weight="normal" font-style="normal" class="b">20</text>
<line x1="475.40" y1="607.69" x2="477.60" y2="607.69" stroke="#333333" stroke-width="0.8" />
<line x1="475.40" y1="597.73" x2="477.60" y2="597.73" stroke="#333333" stroke-width="0.8" />
<line x1="473.60" y1="587.77" x2="477.60" y2="587.77" stroke="#333333" stroke-width="0.9" />
<text x="472.20" y="590.77" font-size="8.6" text-anchor="end" fill="#2a2a2a" font-weight="normal" font-style="normal" class="b">30</text>
<line x1="475.40" y1="577.82" x2="477.60" y2="577.82" stroke="#333333" stroke-width="0.8" />
<line x1="475.40" y1="567.86" x2="477.60" y2="567.86" stroke="#333333" stroke-width="0.8" />
<line x1="473.60" y1="557.90" x2="477.60" y2="557.90" stroke="#333333" stroke-width="0.9" />
<text x="472.20" y="560.90" font-size="8.6" text-anchor="end" fill="#2a2a2a" font-weight="normal" font-style="normal" class="b">40</text>
<line x1="477.60" y1="677.40" x2="566.30" y2="677.40" stroke="#333333" stroke-width="0.9" />
<line x1="489.00" y1="677.40" x2="489.00" y2="680.40" stroke="#333333" stroke-width="0.8" />
<text transform="translate(492.00,688.40) rotate(-45)" font-size="9.2" text-anchor="end" fill="#2a2a2a" font-style="normal" class="b">C1</text>
<line x1="500.07" y1="677.40" x2="500.07" y2="680.40" stroke="#333333" stroke-width="0.8" />
<text transform="translate(503.07,688.40) rotate(-45)" font-size="9.2" text-anchor="end" fill="#2a2a2a" font-style="normal" class="b">C3</text>
<line x1="511.14" y1="677.40" x2="511.14" y2="680.40" stroke="#333333" stroke-width="0.8" />
<text transform="translate(514.14,688.40) rotate(-45)" font-size="9.2" text-anchor="end" fill="#2a2a2a" font-style="normal" class="b">C5</text>
<line x1="522.21" y1="677.40" x2="522.21" y2="680.40" stroke="#333333" stroke-width="0.8" />
<text transform="translate(525.21,688.40) rotate(-45)" font-size="9.2" text-anchor="end" fill="#2a2a2a" font-style="normal" class="b">C7</text>
<line x1="533.28" y1="677.40" x2="533.28" y2="680.40" stroke="#333333" stroke-width="0.8" />
<text transform="translate(536.28,688.40) rotate(-45)" font-size="9.2" text-anchor="end" fill="#2a2a2a" font-style="normal" class="b">C9</text>
<line x1="544.35" y1="677.40" x2="544.35" y2="680.40" stroke="#333333" stroke-width="0.8" />
<text transform="translate(547.35,688.40) rotate(-45)" font-size="9.2" text-anchor="end" fill="#2a2a2a" font-style="normal" class="b">C11</text>
<line x1="555.42" y1="677.40" x2="555.42" y2="680.40" stroke="#333333" stroke-width="0.8" />
<text transform="translate(558.42,688.40) rotate(-45)" font-size="9.2" text-anchor="end" fill="#2a2a2a" font-style="normal" class="b">C17</text>
<path d="M489.00,677.40 L500.07,677.40 L511.14,677.40 L522.21,677.40 L533.28,677.40 L544.35,677.40 L555.42,677.40" fill="none" stroke="#222222" stroke-width="0.9"/>
<path d="M489.00,679.20 L490.70,676.20 L487.30,676.20Z" fill="none" stroke="#222222" stroke-width="1.0"/>
<path d="M500.07,679.20 L501.77,676.20 L498.37,676.20Z" fill="none" stroke="#222222" stroke-width="1.0"/>
<path d="M511.14,679.20 L512.84,676.20 L509.44,676.20Z" fill="none" stroke="#222222" stroke-width="1.0"/>
<path d="M522.21,679.20 L523.91,676.20 L520.51,676.20Z" fill="none" stroke="#222222" stroke-width="1.0"/>
<path d="M533.28,679.20 L534.98,676.20 L531.58,676.20Z" fill="none" stroke="#222222" stroke-width="1.0"/>
<path d="M544.35,679.20 L546.05,676.20 L542.65,676.20Z" fill="none" stroke="#222222" stroke-width="1.0"/>
<path d="M555.42,679.20 L557.12,676.20 L553.72,676.20Z" fill="none" stroke="#222222" stroke-width="1.0"/>
<path d="M500.07,666.64V671.42M498.67,666.64h2.8M498.67,671.42h2.8" stroke="#6d6d6d" stroke-width="0.7" fill="none"/>
<path d="M511.14,658.58V669.33M509.74,658.58h2.8M509.74,669.33h2.8" stroke="#6d6d6d" stroke-width="0.7" fill="none"/>
<path d="M522.21,666.35V671.13M520.81,666.35h2.8M520.81,671.13h2.8" stroke="#6d6d6d" stroke-width="0.7" fill="none"/>
<path d="M489.00,677.40 L500.07,669.03 L511.14,663.96 L522.21,668.74 L533.28,676.80 L544.35,677.10 L555.42,677.40" fill="none" stroke="#2a2aa6" stroke-width="0.9"/>
<path d="M489.00,675.60 L490.70,678.60 L487.30,678.60Z" fill="none" stroke="#2a2aa6" stroke-width="1.0"/>
<path d="M500.07,667.24 L501.77,670.24 L498.37,670.24Z" fill="none" stroke="#2a2aa6" stroke-width="1.0"/>
<path d="M511.14,662.16 L512.84,665.16 L509.44,665.16Z" fill="none" stroke="#2a2aa6" stroke-width="1.0"/>
<path d="M522.21,666.94 L523.91,669.94 L520.51,669.94Z" fill="none" stroke="#2a2aa6" stroke-width="1.0"/>
<path d="M533.28,675.00 L534.98,678.00 L531.58,678.00Z" fill="none" stroke="#2a2aa6" stroke-width="1.0"/>
<path d="M544.35,675.30 L546.05,678.30 L542.65,678.30Z" fill="none" stroke="#2a2aa6" stroke-width="1.0"/>
<path d="M555.42,675.60 L557.12,678.60 L553.72,678.60Z" fill="none" stroke="#2a2aa6" stroke-width="1.0"/>
<path d="M489.00,669.93V675.91M487.60,669.93h2.8M487.60,675.91h2.8" stroke="#6d6d6d" stroke-width="0.7" fill="none"/>
<path d="M500.07,660.07V664.85M498.67,660.07h2.8M498.67,664.85h2.8" stroke="#6d6d6d" stroke-width="0.7" fill="none"/>
<path d="M511.14,656.49V661.27M509.74,656.49h2.8M509.74,661.27h2.8" stroke="#6d6d6d" stroke-width="0.7" fill="none"/>
<path d="M522.21,659.77V663.36M520.81,659.77h2.8M520.81,663.36h2.8" stroke="#6d6d6d" stroke-width="0.7" fill="none"/>
<path d="M489.00,672.92 L500.07,662.46 L511.14,658.88 L522.21,661.57 L533.28,675.01 L544.35,676.50 L555.42,677.10" fill="none" stroke="#f0a43c" stroke-width="0.9"/>
<path d="M489.00,671.02 L490.80,672.92 L489.00,674.82 L487.20,672.92Z" fill="none" stroke="#f0a43c" stroke-width="1.0"/>
<path d="M500.07,660.56 L501.87,662.46 L500.07,664.36 L498.27,662.46Z" fill="none" stroke="#f0a43c" stroke-width="1.0"/>
<path d="M511.14,656.98 L512.94,658.88 L511.14,660.78 L509.34,658.88Z" fill="none" stroke="#f0a43c" stroke-width="1.0"/>
<path d="M522.21,659.67 L524.01,661.57 L522.21,663.47 L520.41,661.57Z" fill="none" stroke="#f0a43c" stroke-width="1.0"/>
<path d="M533.28,673.11 L535.08,675.01 L533.28,676.91 L531.48,675.01Z" fill="none" stroke="#f0a43c" stroke-width="1.0"/>
<path d="M544.35,674.60 L546.15,676.50 L544.35,678.40 L542.55,676.50Z" fill="none" stroke="#f0a43c" stroke-width="1.0"/>
<path d="M555.42,675.20 L557.22,677.10 L555.42,679.00 L553.62,677.10Z" fill="none" stroke="#f0a43c" stroke-width="1.0"/>
<path d="M489.00,645.13V649.91M487.60,645.13h2.8M487.60,649.91h2.8" stroke="#6d6d6d" stroke-width="0.7" fill="none"/>
<path d="M500.07,627.21V633.18M498.67,627.21h2.8M498.67,633.18h2.8" stroke="#6d6d6d" stroke-width="0.7" fill="none"/>
<path d="M511.14,626.01V631.99M509.74,626.01h2.8M509.74,631.99h2.8" stroke="#6d6d6d" stroke-width="0.7" fill="none"/>
<path d="M522.21,626.01V631.99M520.81,626.01h2.8M520.81,631.99h2.8" stroke="#6d6d6d" stroke-width="0.7" fill="none"/>
<path d="M533.28,648.12V651.11M531.88,648.12h2.8M531.88,651.11h2.8" stroke="#6d6d6d" stroke-width="0.7" fill="none"/>
<path d="M489.00,647.52 L500.07,630.20 L511.14,629.00 L522.21,629.00 L533.28,649.62 L544.35,657.68 L555.42,677.10" fill="none" stroke="#a8272c" stroke-width="0.9"/>
<circle cx="489.00" cy="647.52" r="1.5" fill="none" stroke="#a8272c" stroke-width="1.0"/>
<circle cx="500.07" cy="630.20" r="1.5" fill="none" stroke="#a8272c" stroke-width="1.0"/>
<circle cx="511.14" cy="629.00" r="1.5" fill="none" stroke="#a8272c" stroke-width="1.0"/>
<circle cx="522.21" cy="629.00" r="1.5" fill="none" stroke="#a8272c" stroke-width="1.0"/>
<circle cx="533.28" cy="649.62" r="1.5" fill="none" stroke="#a8272c" stroke-width="1.0"/>
<circle cx="544.35" cy="657.68" r="1.5" fill="none" stroke="#a8272c" stroke-width="1.0"/>
<circle cx="555.42" cy="677.10" r="1.5" fill="none" stroke="#a8272c" stroke-width="1.0"/>
<text x="485.1" y="557.5" font-size="8.2" fill="#1a1a1a" class="b" letter-spacing="0.3"><tspan font-style="italic">OsOD</tspan></text>
<line x1="587.20" y1="556.30" x2="587.20" y2="678.30" stroke="#333333" stroke-width="0.9" />
<line x1="583.20" y1="678.30" x2="587.20" y2="678.30" stroke="#333333" stroke-width="0.9" />
<text x="581.80" y="681.30" font-size="8.6" text-anchor="end" fill="#2a2a2a" font-weight="normal" font-style="normal" class="b">0</text>
<line x1="585.00" y1="668.13" x2="587.20" y2="668.13" stroke="#333333" stroke-width="0.8" />
<line x1="585.00" y1="657.97" x2="587.20" y2="657.97" stroke="#333333" stroke-width="0.8" />
<line x1="583.20" y1="647.80" x2="587.20" y2="647.80" stroke="#333333" stroke-width="0.9" />
<text x="581.80" y="650.80" font-size="8.6" text-anchor="end" fill="#2a2a2a" font-weight="normal" font-style="normal" class="b">10</text>
<line x1="585.00" y1="637.63" x2="587.20" y2="637.63" stroke="#333333" stroke-width="0.8" />
<line x1="585.00" y1="627.47" x2="587.20" y2="627.47" stroke="#333333" stroke-width="0.8" />
<line x1="583.20" y1="617.30" x2="587.20" y2="617.30" stroke="#333333" stroke-width="0.9" />
<text x="581.80" y="620.30" font-size="8.6" text-anchor="end" fill="#2a2a2a" font-weight="normal" font-style="normal" class="b">20</text>
<line x1="585.00" y1="607.13" x2="587.20" y2="607.13" stroke="#333333" stroke-width="0.8" />
<line x1="585.00" y1="596.97" x2="587.20" y2="596.97" stroke="#333333" stroke-width="0.8" />
<line x1="583.20" y1="586.80" x2="587.20" y2="586.80" stroke="#333333" stroke-width="0.9" />
<text x="581.80" y="589.80" font-size="8.6" text-anchor="end" fill="#2a2a2a" font-weight="normal" font-style="normal" class="b">30</text>
<line x1="585.00" y1="576.63" x2="587.20" y2="576.63" stroke="#333333" stroke-width="0.8" />
<line x1="585.00" y1="566.47" x2="587.20" y2="566.47" stroke="#333333" stroke-width="0.8" />
<line x1="583.20" y1="556.30" x2="587.20" y2="556.30" stroke="#333333" stroke-width="0.9" />
<text x="581.80" y="559.30" font-size="8.6" text-anchor="end" fill="#2a2a2a" font-weight="normal" font-style="normal" class="b">40</text>
<line x1="587.20" y1="678.30" x2="683.10" y2="678.30" stroke="#333333" stroke-width="0.9" />
<line x1="598.10" y1="678.30" x2="598.10" y2="681.30" stroke="#333333" stroke-width="0.8" />
<text transform="translate(601.10,689.30) rotate(-45)" font-size="9.2" text-anchor="end" fill="#2a2a2a" font-style="normal" class="b">C-1</text>
<line x1="608.80" y1="678.30" x2="608.80" y2="681.30" stroke="#333333" stroke-width="0.8" />
<text transform="translate(611.80,689.30) rotate(-45)" font-size="9.2" text-anchor="end" fill="#2a2a2a" font-style="normal" class="b">C2</text>
<line x1="619.50" y1="678.30" x2="619.50" y2="681.30" stroke="#333333" stroke-width="0.8" />
<text transform="translate(622.50,689.30) rotate(-45)" font-size="9.2" text-anchor="end" fill="#2a2a2a" font-style="normal" class="b">C4</text>
<line x1="630.20" y1="678.30" x2="630.20" y2="681.30" stroke="#333333" stroke-width="0.8" />
<text transform="translate(633.20,689.30) rotate(-45)" font-size="9.2" text-anchor="end" fill="#2a2a2a" font-style="normal" class="b">C6</text>
<line x1="640.90" y1="678.30" x2="640.90" y2="681.30" stroke="#333333" stroke-width="0.8" />
<text transform="translate(643.90,689.30) rotate(-45)" font-size="9.2" text-anchor="end" fill="#2a2a2a" font-style="normal" class="b">C8</text>
<line x1="651.60" y1="678.30" x2="651.60" y2="681.30" stroke="#333333" stroke-width="0.8" />
<text transform="translate(654.60,689.30) rotate(-45)" font-size="9.2" text-anchor="end" fill="#2a2a2a" font-style="normal" class="b">C10</text>
<line x1="662.30" y1="678.30" x2="662.30" y2="681.30" stroke="#333333" stroke-width="0.8" />
<text transform="translate(665.30,689.30) rotate(-45)" font-size="9.2" text-anchor="end" fill="#2a2a2a" font-style="normal" class="b">C16</text>
<line x1="673.00" y1="678.30" x2="673.00" y2="681.30" stroke="#333333" stroke-width="0.8" />
<text transform="translate(676.00,689.30) rotate(-45)" font-size="9.2" text-anchor="end" fill="#2a2a2a" font-style="normal" class="b">C17</text>
<path d="M598.10,678.30 L608.80,678.30 L619.50,678.30 L630.20,678.30 L640.90,678.30 L651.60,678.30 L662.30,678.30 L673.00,678.30" fill="none" stroke="#222222" stroke-width="0.9"/>
<path d="M598.10,680.10 L599.80,677.10 L596.40,677.10Z" fill="none" stroke="#222222" stroke-width="1.0"/>
<path d="M608.80,680.10 L610.50,677.10 L607.10,677.10Z" fill="none" stroke="#222222" stroke-width="1.0"/>
<path d="M619.50,680.10 L621.20,677.10 L617.80,677.10Z" fill="none" stroke="#222222" stroke-width="1.0"/>
<path d="M630.20,680.10 L631.90,677.10 L628.50,677.10Z" fill="none" stroke="#222222" stroke-width="1.0"/>
<path d="M640.90,680.10 L642.60,677.10 L639.20,677.10Z" fill="none" stroke="#222222" stroke-width="1.0"/>
<path d="M651.60,680.10 L653.30,677.10 L649.90,677.10Z" fill="none" stroke="#222222" stroke-width="1.0"/>
<path d="M662.30,680.10 L664.00,677.10 L660.60,677.10Z" fill="none" stroke="#222222" stroke-width="1.0"/>
<path d="M673.00,680.10 L674.70,677.10 L671.30,677.10Z" fill="none" stroke="#222222" stroke-width="1.0"/>
<path d="M598.10,678.30 L608.80,678.30 L619.50,677.38 L630.20,676.77 L640.90,678.30 L651.60,678.30 L662.30,678.30 L673.00,678.30" fill="none" stroke="#2a2aa6" stroke-width="0.9"/>
<path d="M598.10,676.50 L599.80,679.50 L596.40,679.50Z" fill="none" stroke="#2a2aa6" stroke-width="1.0"/>
<path d="M608.80,676.50 L610.50,679.50 L607.10,679.50Z" fill="none" stroke="#2a2aa6" stroke-width="1.0"/>
<path d="M619.50,675.59 L621.20,678.59 L617.80,678.59Z" fill="none" stroke="#2a2aa6" stroke-width="1.0"/>
<path d="M630.20,674.98 L631.90,677.98 L628.50,677.98Z" fill="none" stroke="#2a2aa6" stroke-width="1.0"/>
<path d="M640.90,676.50 L642.60,679.50 L639.20,679.50Z" fill="none" stroke="#2a2aa6" stroke-width="1.0"/>
<path d="M651.60,676.50 L653.30,679.50 L649.90,679.50Z" fill="none" stroke="#2a2aa6" stroke-width="1.0"/>
<path d="M662.30,676.50 L664.00,679.50 L660.60,679.50Z" fill="none" stroke="#2a2aa6" stroke-width="1.0"/>
<path d="M673.00,676.50 L674.70,679.50 L671.30,679.50Z" fill="none" stroke="#2a2aa6" stroke-width="1.0"/>
<path d="M619.50,667.93V671.59M618.10,667.93h2.8M618.10,671.59h2.8" stroke="#6d6d6d" stroke-width="0.7" fill="none"/>
<path d="M630.20,660.00V666.10M628.80,660.00h2.8M628.80,666.10h2.8" stroke="#6d6d6d" stroke-width="0.7" fill="none"/>
<path d="M640.90,670.06V675.55M639.50,670.06h2.8M639.50,675.55h2.8" stroke="#6d6d6d" stroke-width="0.7" fill="none"/>
<path d="M598.10,677.69 L608.80,675.25 L619.50,669.76 L630.20,663.05 L640.90,672.81 L651.60,677.38 L662.30,678.00 L673.00,678.00" fill="none" stroke="#f0a43c" stroke-width="0.9"/>
<path d="M598.10,675.79 L599.90,677.69 L598.10,679.59 L596.30,677.69Z" fill="none" stroke="#f0a43c" stroke-width="1.0"/>
<path d="M608.80,673.35 L610.60,675.25 L608.80,677.15 L607.00,675.25Z" fill="none" stroke="#f0a43c" stroke-width="1.0"/>
<path d="M619.50,667.86 L621.30,669.76 L619.50,671.66 L617.70,669.76Z" fill="none" stroke="#f0a43c" stroke-width="1.0"/>
<path d="M630.20,661.15 L632.00,663.05 L630.20,664.95 L628.40,663.05Z" fill="none" stroke="#f0a43c" stroke-width="1.0"/>
<path d="M640.90,670.91 L642.70,672.81 L640.90,674.71 L639.10,672.81Z" fill="none" stroke="#f0a43c" stroke-width="1.0"/>
<path d="M651.60,675.49 L653.40,677.38 L651.60,679.28 L649.80,677.38Z" fill="none" stroke="#f0a43c" stroke-width="1.0"/>
<path d="M662.30,676.10 L664.10,678.00 L662.30,679.89 L660.50,678.00Z" fill="none" stroke="#f0a43c" stroke-width="1.0"/>
<path d="M673.00,676.10 L674.80,678.00 L673.00,679.89 L671.20,678.00Z" fill="none" stroke="#f0a43c" stroke-width="1.0"/>
<path d="M608.80,660.30V662.75M607.40,660.30h2.8M607.40,662.75h2.8" stroke="#6d6d6d" stroke-width="0.7" fill="none"/>
<path d="M619.50,637.12V644.44M618.10,637.12h2.8M618.10,644.44h2.8" stroke="#6d6d6d" stroke-width="0.7" fill="none"/>
<path d="M630.20,636.21V642.31M628.80,636.21h2.8M628.80,642.31h2.8" stroke="#6d6d6d" stroke-width="0.7" fill="none"/>
<path d="M640.90,641.39V646.27M639.50,641.39h2.8M639.50,646.27h2.8" stroke="#6d6d6d" stroke-width="0.7" fill="none"/>
<path d="M651.60,660.30V667.62M650.20,660.30h2.8M650.20,667.62h2.8" stroke="#6d6d6d" stroke-width="0.7" fill="none"/>
<path d="M673.00,674.33V677.38M671.60,674.33h2.8M671.60,677.38h2.8" stroke="#6d6d6d" stroke-width="0.7" fill="none"/>
<path d="M598.10,676.77 L608.80,661.52 L619.50,640.78 L630.20,639.26 L640.90,643.83 L651.60,663.96 L662.30,677.38 L673.00,675.86" fill="none" stroke="#a8272c" stroke-width="0.9"/>
<circle cx="598.10" cy="676.77" r="1.5" fill="none" stroke="#a8272c" stroke-width="1.0"/>
<circle cx="608.80" cy="661.52" r="1.5" fill="none" stroke="#a8272c" stroke-width="1.0"/>
<circle cx="619.50" cy="640.78" r="1.5" fill="none" stroke="#a8272c" stroke-width="1.0"/>
<circle cx="630.20" cy="639.26" r="1.5" fill="none" stroke="#a8272c" stroke-width="1.0"/>
<circle cx="640.90" cy="643.83" r="1.5" fill="none" stroke="#a8272c" stroke-width="1.0"/>
<circle cx="651.60" cy="663.96" r="1.5" fill="none" stroke="#a8272c" stroke-width="1.0"/>
<circle cx="662.30" cy="677.38" r="1.5" fill="none" stroke="#a8272c" stroke-width="1.0"/>
<circle cx="673.00" cy="675.86" r="1.5" fill="none" stroke="#a8272c" stroke-width="1.0"/>
<text x="594.0" y="557.5" font-size="8.2" fill="#1a1a1a" class="b" letter-spacing="0.3"><tspan font-style="italic">OsEV</tspan></text>
<line x1="631.00" y1="560.00" x2="644.50" y2="560.00" stroke="#2a2aa6" stroke-width="1.0" />
<path d="M637.75,557.10 L640.55,562.08 L634.95,562.08Z" fill="none" stroke="#2a2aa6" stroke-width="0.9"/>
<text x="647.20" y="563.10" font-size="8.7" text-anchor="start" fill="#1a1a1a" font-weight="normal" font-style="normal" class="b">PBE</text>
<line x1="631.00" y1="569.60" x2="644.50" y2="569.60" stroke="#a8272c" stroke-width="1.0" />
<circle cx="637.75" cy="569.60" r="2.6" fill="none" stroke="#a8272c" stroke-width="0.9"/>
<text x="647.20" y="572.70" font-size="8.7" text-anchor="start" fill="#1a1a1a" font-weight="normal" font-style="normal" class="b">A3A-PBE</text>
<line x1="631.00" y1="579.70" x2="644.50" y2="579.70" stroke="#f0a43c" stroke-width="1.0" />
<path d="M637.75,576.70 L640.65,579.70 L637.75,582.70 L634.85,579.70Z" fill="none" stroke="#f0a43c" stroke-width="0.9"/>
<text x="647.20" y="582.80" font-size="8.7" text-anchor="start" fill="#1a1a1a" font-weight="normal" font-style="normal" class="b">A3A-Gam</text>
<line x1="631.00" y1="589.50" x2="644.50" y2="589.50" stroke="#222222" stroke-width="1.0" />
<path d="M637.75,592.40 L640.55,587.42 L634.95,587.42Z" fill="none" stroke="#222222" stroke-width="0.9"/>
<text x="647.20" y="592.60" font-size="8.7" text-anchor="start" fill="#1a1a1a" font-weight="normal" font-style="normal" class="b">Untreated</text>
<text transform="translate(0.2,713.3) scale(0.85,1.0)" font-size="17.2" font-weight="bold" fill="#000">g</text>
<text x="338.70" y="718.30" font-size="8.7" text-anchor="middle" fill="#1a1a1a" font-weight="normal" font-style="normal" class="b">C to T (potato)</text>
<text transform="translate(8.0,769.0) rotate(-90)" font-size="8.65" text-anchor="middle" fill="#1a1a1a" class="b">% of reads with C to T</text>
<text transform="translate(18.1,768.5) rotate(-90)" font-size="8.65" text-anchor="middle" fill="#1a1a1a" class="b">conversion</text>
<line x1="41.20" y1="715.70" x2="41.20" y2="821.10" stroke="#333333" stroke-width="0.9" />
<line x1="37.20" y1="821.10" x2="41.20" y2="821.10" stroke="#333333" stroke-width="0.9" />
<text x="33.60" y="824.10" font-size="8.3" text-anchor="end" fill="#2a2a2a" font-weight="normal" font-style="normal" class="b">0</text>
<line x1="39.00" y1="814.07" x2="41.20" y2="814.07" stroke="#333333" stroke-width="0.8" />
<line x1="39.00" y1="807.05" x2="41.20" y2="807.05" stroke="#333333" stroke-width="0.8" />
<line x1="37.20" y1="800.02" x2="41.20" y2="800.02" stroke="#333333" stroke-width="0.9" />
<text x="33.60" y="803.02" font-size="8.3" text-anchor="end" fill="#2a2a2a" font-weight="normal" font-style="normal" class="b">5</text>
<line x1="39.00" y1="792.99" x2="41.20" y2="792.99" stroke="#333333" stroke-width="0.8" />
<line x1="39.00" y1="785.97" x2="41.20" y2="785.97" stroke="#333333" stroke-width="0.8" />
<line x1="37.20" y1="778.94" x2="41.20" y2="778.94" stroke="#333333" stroke-width="0.9" />
<text x="33.60" y="781.94" font-size="8.3" text-anchor="end" fill="#2a2a2a" font-weight="normal" font-style="normal" class="b">10</text>
<line x1="39.00" y1="771.91" x2="41.20" y2="771.91" stroke="#333333" stroke-width="0.8" />
<line x1="39.00" y1="764.89" x2="41.20" y2="764.89" stroke="#333333" stroke-width="0.8" />
<line x1="37.20" y1="757.86" x2="41.20" y2="757.86" stroke="#333333" stroke-width="0.9" />
<text x="33.60" y="760.86" font-size="8.3" text-anchor="end" fill="#2a2a2a" font-weight="normal" font-style="normal" class="b">15</text>
<line x1="39.00" y1="750.83" x2="41.20" y2="750.83" stroke="#333333" stroke-width="0.8" />
<line x1="39.00" y1="743.81" x2="41.20" y2="743.81" stroke="#333333" stroke-width="0.8" />
<line x1="37.20" y1="736.78" x2="41.20" y2="736.78" stroke="#333333" stroke-width="0.9" />
<text x="33.60" y="739.78" font-size="8.3" text-anchor="end" fill="#2a2a2a" font-weight="normal" font-style="normal" class="b">20</text>
<line x1="39.00" y1="729.75" x2="41.20" y2="729.75" stroke="#333333" stroke-width="0.8" />
<line x1="39.00" y1="722.73" x2="41.20" y2="722.73" stroke="#333333" stroke-width="0.8" />
<line x1="37.20" y1="715.70" x2="41.20" y2="715.70" stroke="#333333" stroke-width="0.9" />
<text x="33.60" y="718.70" font-size="8.3" text-anchor="end" fill="#2a2a2a" font-weight="normal" font-style="normal" class="b">25</text>
<line x1="41.20" y1="821.10" x2="634.20" y2="821.10" stroke="#333333" stroke-width="0.9" />
<rect x="44.00" y="819.84" width="5.00" height="1.26" fill="#1818b8" stroke="none" stroke-width="0.5" />
<rect x="54.00" y="820.68" width="5.00" height="0.72" fill="#111111" stroke="none" stroke-width="0.5" />
<rect x="49.00" y="812.67" width="5.00" height="8.43" fill="#a20b0d" stroke="none" stroke-width="0.5" />
<path d="M51.50,807.19V812.67M50.20,807.19h2.6" stroke="#777" stroke-width="0.65" fill="none"/>
<circle cx="51.50" cy="802.97" r="0.7" fill="#333"/>
<circle cx="51.50" cy="814.35" r="0.6" fill="#400"/>
<line x1="51.50" y1="821.10" x2="51.50" y2="824.10" stroke="#333333" stroke-width="0.8" />
<text transform="translate(54.50,830.30) rotate(-45)" font-size="8.8" text-anchor="end" fill="#2a2a2a" font-style="normal" class="b">C2</text>
<rect x="61.31" y="819.84" width="5.00" height="1.26" fill="#1818b8" stroke="none" stroke-width="0.5" />
<rect x="71.31" y="820.68" width="5.00" height="0.72" fill="#111111" stroke="none" stroke-width="0.5" />
<rect x="66.31" y="794.96" width="5.00" height="26.14" fill="#a20b0d" stroke="none" stroke-width="0.5" />
<path d="M68.81,788.64V794.96M67.51,788.64h2.6" stroke="#777" stroke-width="0.65" fill="none"/>
<circle cx="68.81" cy="787.37" r="0.7" fill="#333"/>
<circle cx="68.81" cy="800.19" r="0.6" fill="#400"/>
<line x1="68.81" y1="821.10" x2="68.81" y2="824.10" stroke="#333333" stroke-width="0.8" />
<text transform="translate(71.81,830.30) rotate(-45)" font-size="8.8" text-anchor="end" fill="#2a2a2a" font-style="normal" class="b">C8</text>
<rect x="78.62" y="817.31" width="5.00" height="3.79" fill="#1818b8" stroke="none" stroke-width="0.5" />
<rect x="88.62" y="820.68" width="5.00" height="0.72" fill="#111111" stroke="none" stroke-width="0.5" />
<rect x="83.62" y="801.28" width="5.00" height="19.82" fill="#a20b0d" stroke="none" stroke-width="0.5" />
<path d="M86.12,796.65V801.28M84.82,796.65h2.6" stroke="#777" stroke-width="0.65" fill="none"/>
<circle cx="86.12" cy="791.59" r="0.7" fill="#333"/>
<circle cx="86.12" cy="805.25" r="0.6" fill="#400"/>
<line x1="86.12" y1="821.10" x2="86.12" y2="824.10" stroke="#333333" stroke-width="0.8" />
<text transform="translate(89.12,830.30) rotate(-45)" font-size="8.8" text-anchor="end" fill="#2a2a2a" font-style="normal" class="b">C5</text>
<rect x="105.93" y="820.68" width="5.00" height="0.72" fill="#111111" stroke="none" stroke-width="0.5" />
<rect x="100.93" y="817.73" width="5.00" height="3.37" fill="#a20b0d" stroke="none" stroke-width="0.5" />
<path d="M103.43,814.78V817.73M102.13,814.78h2.6" stroke="#777" stroke-width="0.65" fill="none"/>
<circle cx="103.43" cy="813.09" r="0.7" fill="#333"/>
<line x1="103.43" y1="821.10" x2="103.43" y2="824.10" stroke="#333333" stroke-width="0.8" />
<text transform="translate(106.43,830.30) rotate(-45)" font-size="8.8" text-anchor="end" fill="#2a2a2a" font-style="normal" class="b">C12</text>
<rect x="118.24" y="818.57" width="5.00" height="2.53" fill="#a20b0d" stroke="none" stroke-width="0.5" />
<line x1="120.74" y1="821.10" x2="120.74" y2="824.10" stroke="#333333" stroke-width="0.8" />
<text transform="translate(123.74,830.30) rotate(-45)" font-size="8.8" text-anchor="end" fill="#2a2a2a" font-style="normal" class="b">C1</text>
<rect x="135.55" y="814.78" width="5.00" height="6.32" fill="#a20b0d" stroke="none" stroke-width="0.5" />
<circle cx="138.05" cy="816.04" r="0.6" fill="#400"/>
<line x1="138.05" y1="821.10" x2="138.05" y2="824.10" stroke="#333333" stroke-width="0.8" />
<text transform="translate(141.05,830.30) rotate(-45)" font-size="8.8" text-anchor="end" fill="#2a2a2a" font-style="normal" class="b">C5</text>
<rect x="152.86" y="818.57" width="5.00" height="2.53" fill="#a20b0d" stroke="none" stroke-width="0.5" />
<line x1="155.36" y1="821.10" x2="155.36" y2="824.10" stroke="#333333" stroke-width="0.8" />
<text transform="translate(158.36,830.30) rotate(-45)" font-size="8.8" text-anchor="end" fill="#2a2a2a" font-style="normal" class="b">C9</text>
<rect x="170.17" y="817.73" width="5.00" height="3.37" fill="#a20b0d" stroke="none" stroke-width="0.5" />
<line x1="172.67" y1="821.10" x2="172.67" y2="824.10" stroke="#333333" stroke-width="0.8" />
<text transform="translate(175.67,830.30) rotate(-45)" font-size="8.8" text-anchor="end" fill="#2a2a2a" font-style="normal" class="b">C10</text>
<rect x="187.48" y="815.62" width="5.00" height="5.48" fill="#a20b0d" stroke="none" stroke-width="0.5" />
<circle cx="189.98" cy="816.72" r="0.6" fill="#400"/>
<line x1="189.98" y1="821.10" x2="189.98" y2="824.10" stroke="#333333" stroke-width="0.8" />
<text transform="translate(192.98,830.30) rotate(-45)" font-size="8.8" text-anchor="end" fill="#2a2a2a" font-style="normal" class="b">C11</text>
<rect x="209.79" y="820.68" width="5.00" height="0.72" fill="#111111" stroke="none" stroke-width="0.5" />
<rect x="204.79" y="819.84" width="5.00" height="1.26" fill="#a20b0d" stroke="none" stroke-width="0.5" />
<line x1="207.29" y1="821.10" x2="207.29" y2="824.10" stroke="#333333" stroke-width="0.8" />
<text transform="translate(210.29,830.30) rotate(-45)" font-size="8.8" text-anchor="end" fill="#2a2a2a" font-style="normal" class="b">C14</text>
<rect x="217.10" y="810.98" width="5.00" height="10.12" fill="#1818b8" stroke="none" stroke-width="0.5" />
<path d="M219.60,809.30V810.98M218.40,809.30h2.4" stroke="#6d6d6d" stroke-width="0.6" fill="none"/>
<rect x="227.10" y="820.68" width="5.00" height="0.72" fill="#111111" stroke="none" stroke-width="0.5" />
<rect x="222.10" y="802.55" width="5.00" height="18.55" fill="#a20b0d" stroke="none" stroke-width="0.5" />
<path d="M224.60,798.76V802.55M223.30,798.76h2.6" stroke="#777" stroke-width="0.65" fill="none"/>
<circle cx="224.60" cy="794.12" r="0.7" fill="#333"/>
<circle cx="224.60" cy="806.26" r="0.6" fill="#400"/>
<line x1="224.60" y1="821.10" x2="224.60" y2="824.10" stroke="#333333" stroke-width="0.8" />
<text transform="translate(227.60,830.30) rotate(-45)" font-size="8.8" text-anchor="end" fill="#2a2a2a" font-style="normal" class="b">C6</text>
<rect x="234.41" y="810.98" width="5.00" height="10.12" fill="#1818b8" stroke="none" stroke-width="0.5" />
<path d="M236.91,809.30V810.98M235.71,809.30h2.4" stroke="#6d6d6d" stroke-width="0.6" fill="none"/>
<rect x="244.41" y="820.68" width="5.00" height="0.72" fill="#111111" stroke="none" stroke-width="0.5" />
<rect x="239.41" y="802.55" width="5.00" height="18.55" fill="#a20b0d" stroke="none" stroke-width="0.5" />
<path d="M241.91,798.76V802.55M240.61,798.76h2.6" stroke="#777" stroke-width="0.65" fill="none"/>
<circle cx="241.91" cy="794.12" r="0.7" fill="#333"/>
<circle cx="241.91" cy="806.26" r="0.6" fill="#400"/>
<line x1="241.91" y1="821.10" x2="241.91" y2="824.10" stroke="#333333" stroke-width="0.8" />
<text transform="translate(244.91,830.30) rotate(-45)" font-size="8.8" text-anchor="end" fill="#2a2a2a" font-style="normal" class="b">C8</text>
<rect x="251.72" y="817.73" width="5.00" height="3.37" fill="#1818b8" stroke="none" stroke-width="0.5" />
<path d="M254.22,816.04V817.73M253.02,816.04h2.4" stroke="#6d6d6d" stroke-width="0.6" fill="none"/>
<rect x="261.72" y="820.68" width="5.00" height="0.72" fill="#111111" stroke="none" stroke-width="0.5" />
<rect x="256.72" y="811.82" width="5.00" height="9.28" fill="#a20b0d" stroke="none" stroke-width="0.5" />
<path d="M259.22,810.14V811.82M257.92,810.14h2.6" stroke="#777" stroke-width="0.65" fill="none"/>
<circle cx="259.22" cy="808.45" r="0.7" fill="#333"/>
<circle cx="259.22" cy="813.68" r="0.6" fill="#400"/>
<line x1="259.22" y1="821.10" x2="259.22" y2="824.10" stroke="#333333" stroke-width="0.8" />
<text transform="translate(262.22,830.30) rotate(-45)" font-size="8.8" text-anchor="end" fill="#2a2a2a" font-style="normal" class="b">C11</text>
<rect x="269.03" y="820.26" width="5.00" height="0.84" fill="#1818b8" stroke="none" stroke-width="0.5" />
<rect x="279.03" y="820.26" width="5.00" height="1.14" fill="#111111" stroke="none" stroke-width="0.5" />
<rect x="274.03" y="816.04" width="5.00" height="5.06" fill="#a20b0d" stroke="none" stroke-width="0.5" />
<path d="M276.53,814.35V816.04M275.23,814.35h2.6" stroke="#777" stroke-width="0.65" fill="none"/>
<circle cx="276.53" cy="812.67" r="0.7" fill="#333"/>
<circle cx="276.53" cy="817.05" r="0.6" fill="#400"/>
<line x1="276.53" y1="821.10" x2="276.53" y2="824.10" stroke="#333333" stroke-width="0.8" />
<text transform="translate(279.53,830.30) rotate(-45)" font-size="8.8" text-anchor="end" fill="#2a2a2a" font-style="normal" class="b">C12</text>
<rect x="286.34" y="820.26" width="5.00" height="0.84" fill="#1818b8" stroke="none" stroke-width="0.5" />
<rect x="296.34" y="820.68" width="5.00" height="0.72" fill="#111111" stroke="none" stroke-width="0.5" />
<rect x="291.34" y="814.78" width="5.00" height="6.32" fill="#a20b0d" stroke="none" stroke-width="0.5" />
<path d="M293.84,813.51V814.78M292.54,813.51h2.6" stroke="#777" stroke-width="0.65" fill="none"/>
<circle cx="293.84" cy="811.40" r="0.7" fill="#333"/>
<circle cx="293.84" cy="816.04" r="0.6" fill="#400"/>
<line x1="293.84" y1="821.10" x2="293.84" y2="824.10" stroke="#333333" stroke-width="0.8" />
<text transform="translate(296.84,830.30) rotate(-45)" font-size="8.8" text-anchor="end" fill="#2a2a2a" font-style="normal" class="b">C14</text>
<rect x="303.65" y="820.26" width="5.00" height="0.84" fill="#1818b8" stroke="none" stroke-width="0.5" />
<rect x="308.65" y="810.14" width="5.00" height="10.96" fill="#a20b0d" stroke="none" stroke-width="0.5" />
<circle cx="311.15" cy="812.33" r="0.6" fill="#400"/>
<line x1="311.15" y1="821.10" x2="311.15" y2="824.10" stroke="#333333" stroke-width="0.8" />
<text transform="translate(314.15,830.30) rotate(-45)" font-size="8.8" text-anchor="end" fill="#2a2a2a" font-style="normal" class="b">C5</text>
<rect x="320.96" y="820.68" width="5.00" height="0.42" fill="#1818b8" stroke="none" stroke-width="0.5" />
<rect x="325.96" y="810.14" width="5.00" height="10.96" fill="#a20b0d" stroke="none" stroke-width="0.5" />
<circle cx="328.46" cy="812.33" r="0.6" fill="#400"/>
<line x1="328.46" y1="821.10" x2="328.46" y2="824.10" stroke="#333333" stroke-width="0.8" />
<text transform="translate(331.46,830.30) rotate(-45)" font-size="8.8" text-anchor="end" fill="#2a2a2a" font-style="normal" class="b">C6</text>
<rect x="343.27" y="810.14" width="5.00" height="10.96" fill="#a20b0d" stroke="none" stroke-width="0.5" />
<circle cx="345.77" cy="812.33" r="0.6" fill="#400"/>
<line x1="345.77" y1="821.10" x2="345.77" y2="824.10" stroke="#333333" stroke-width="0.8" />
<text transform="translate(348.77,830.30) rotate(-45)" font-size="8.8" text-anchor="end" fill="#2a2a2a" font-style="normal" class="b">C8</text>
<rect x="360.58" y="816.04" width="5.00" height="5.06" fill="#a20b0d" stroke="none" stroke-width="0.5" />
<circle cx="363.08" cy="817.05" r="0.6" fill="#400"/>
<line x1="363.08" y1="821.10" x2="363.08" y2="824.10" stroke="#333333" stroke-width="0.8" />
<text transform="translate(366.08,830.30) rotate(-45)" font-size="8.8" text-anchor="end" fill="#2a2a2a" font-style="normal" class="b">C11</text>
<rect x="372.89" y="820.68" width="5.00" height="0.42" fill="#1818b8" stroke="none" stroke-width="0.5" />
<rect x="377.89" y="817.73" width="5.00" height="3.37" fill="#a20b0d" stroke="none" stroke-width="0.5" />
<line x1="380.39" y1="821.10" x2="380.39" y2="824.10" stroke="#333333" stroke-width="0.8" />
<text transform="translate(383.39,830.30) rotate(-45)" font-size="8.8" text-anchor="end" fill="#2a2a2a" font-style="normal" class="b">C17</text>
<rect x="395.20" y="815.20" width="5.00" height="5.90" fill="#a20b0d" stroke="none" stroke-width="0.5" />
<path d="M397.70,813.09V815.20M396.40,813.09h2.6" stroke="#777" stroke-width="0.65" fill="none"/>
<circle cx="397.70" cy="811.82" r="0.7" fill="#333"/>
<circle cx="397.70" cy="816.38" r="0.6" fill="#400"/>
<line x1="397.70" y1="821.10" x2="397.70" y2="824.10" stroke="#333333" stroke-width="0.8" />
<text transform="translate(400.70,830.30) rotate(-45)" font-size="8.8" text-anchor="end" fill="#2a2a2a" font-style="normal" class="b">C1</text>
<rect x="407.51" y="819.84" width="5.00" height="1.26" fill="#1818b8" stroke="none" stroke-width="0.5" />
<rect x="412.51" y="813.93" width="5.00" height="7.17" fill="#a20b0d" stroke="none" stroke-width="0.5" />
<path d="M415.01,810.56V813.93M413.71,810.56h2.6" stroke="#777" stroke-width="0.65" fill="none"/>
<circle cx="415.01" cy="806.77" r="0.7" fill="#333"/>
<circle cx="415.01" cy="815.37" r="0.6" fill="#400"/>
<line x1="415.01" y1="821.10" x2="415.01" y2="824.10" stroke="#333333" stroke-width="0.8" />
<text transform="translate(418.01,830.30) rotate(-45)" font-size="8.8" text-anchor="end" fill="#2a2a2a" font-style="normal" class="b">C7</text>
<rect x="429.82" y="816.04" width="5.00" height="5.06" fill="#a20b0d" stroke="none" stroke-width="0.5" />
<path d="M432.32,814.35V816.04M431.02,814.35h2.6" stroke="#777" stroke-width="0.65" fill="none"/>
<circle cx="432.32" cy="812.67" r="0.7" fill="#333"/>
<circle cx="432.32" cy="817.05" r="0.6" fill="#400"/>
<line x1="432.32" y1="821.10" x2="432.32" y2="824.10" stroke="#333333" stroke-width="0.8" />
<text transform="translate(435.32,830.30) rotate(-45)" font-size="8.8" text-anchor="end" fill="#2a2a2a" font-style="normal" class="b">C10</text>
<rect x="442.13" y="820.26" width="5.00" height="0.84" fill="#1818b8" stroke="none" stroke-width="0.5" />
<rect x="447.13" y="801.71" width="5.00" height="19.39" fill="#a20b0d" stroke="none" stroke-width="0.5" />
<path d="M449.63,795.80V801.71M448.33,795.80h2.6" stroke="#777" stroke-width="0.65" fill="none"/>
<circle cx="449.63" cy="790.32" r="0.7" fill="#333"/>
<circle cx="449.63" cy="805.59" r="0.6" fill="#400"/>
<line x1="449.63" y1="821.10" x2="449.63" y2="824.10" stroke="#333333" stroke-width="0.8" />
<text transform="translate(452.63,830.30) rotate(-45)" font-size="8.8" text-anchor="end" fill="#2a2a2a" font-style="normal" class="b">C15</text>
<rect x="459.44" y="816.04" width="5.00" height="5.06" fill="#1818b8" stroke="none" stroke-width="0.5" />
<rect x="464.44" y="768.82" width="5.00" height="52.28" fill="#a20b0d" stroke="none" stroke-width="0.5" />
<path d="M466.94,765.03V768.82M465.64,765.03h2.6" stroke="#777" stroke-width="0.65" fill="none"/>
<circle cx="466.94" cy="762.08" r="0.7" fill="#333"/>
<circle cx="466.94" cy="779.28" r="0.6" fill="#400"/>
<line x1="466.94" y1="821.10" x2="466.94" y2="824.10" stroke="#333333" stroke-width="0.8" />
<text transform="translate(469.94,830.30) rotate(-45)" font-size="8.8" text-anchor="end" fill="#2a2a2a" font-style="normal" class="b">C6</text>
<rect x="476.75" y="818.57" width="5.00" height="2.53" fill="#1818b8" stroke="none" stroke-width="0.5" />
<rect x="481.75" y="752.38" width="5.00" height="68.72" fill="#a20b0d" stroke="none" stroke-width="0.5" />
<path d="M484.25,745.21V752.38M482.95,745.21h2.6" stroke="#777" stroke-width="0.65" fill="none"/>
<circle cx="484.25" cy="744.37" r="0.7" fill="#333"/>
<circle cx="484.25" cy="766.12" r="0.6" fill="#400"/>
<line x1="484.25" y1="821.10" x2="484.25" y2="824.10" stroke="#333333" stroke-width="0.8" />
<text transform="translate(487.25,830.30) rotate(-45)" font-size="8.8" text-anchor="end" fill="#2a2a2a" font-style="normal" class="b">C13</text>
<rect x="494.06" y="818.99" width="5.00" height="2.11" fill="#1818b8" stroke="none" stroke-width="0.5" />
<rect x="499.06" y="742.26" width="5.00" height="78.84" fill="#a20b0d" stroke="none" stroke-width="0.5" />
<path d="M501.56,739.31V742.26M500.26,739.31h2.6" stroke="#777" stroke-width="0.65" fill="none"/>
<circle cx="501.56" cy="738.47" r="0.7" fill="#333"/>
<circle cx="501.56" cy="758.03" r="0.6" fill="#400"/>
<line x1="501.56" y1="821.10" x2="501.56" y2="824.10" stroke="#333333" stroke-width="0.8" />
<text transform="translate(504.56,830.30) rotate(-45)" font-size="8.8" text-anchor="end" fill="#2a2a2a" font-style="normal" class="b">C14</text>
<rect x="511.37" y="820.26" width="5.00" height="0.84" fill="#1818b8" stroke="none" stroke-width="0.5" />
<rect x="516.37" y="770.09" width="5.00" height="51.01" fill="#a20b0d" stroke="none" stroke-width="0.5" />
<path d="M518.87,762.08V770.09M517.57,762.08h2.6" stroke="#777" stroke-width="0.65" fill="none"/>
<circle cx="518.87" cy="757.86" r="0.7" fill="#333"/>
<circle cx="518.87" cy="780.29" r="0.6" fill="#400"/>
<line x1="518.87" y1="821.10" x2="518.87" y2="824.10" stroke="#333333" stroke-width="0.8" />
<text transform="translate(521.87,830.30) rotate(-45)" font-size="8.8" text-anchor="end" fill="#2a2a2a" font-style="normal" class="b">C7</text>
<rect x="528.68" y="819.41" width="5.00" height="1.69" fill="#1818b8" stroke="none" stroke-width="0.5" />
<rect x="533.68" y="781.05" width="5.00" height="40.05" fill="#a20b0d" stroke="none" stroke-width="0.5" />
<path d="M536.18,780.20V781.05M534.88,780.20h2.6" stroke="#777" stroke-width="0.65" fill="none"/>
<circle cx="536.18" cy="779.78" r="0.7" fill="#333"/>
<circle cx="536.18" cy="789.06" r="0.6" fill="#400"/>
<line x1="536.18" y1="821.10" x2="536.18" y2="824.10" stroke="#333333" stroke-width="0.8" />
<text transform="translate(539.18,830.30) rotate(-45)" font-size="8.8" text-anchor="end" fill="#2a2a2a" font-style="normal" class="b">C6</text>
<rect x="550.99" y="807.19" width="5.00" height="13.91" fill="#a20b0d" stroke="none" stroke-width="0.5" />
<path d="M553.49,801.28V807.19M552.19,801.28h2.6" stroke="#777" stroke-width="0.65" fill="none"/>
<circle cx="553.49" cy="795.38" r="0.7" fill="#333"/>
<circle cx="553.49" cy="809.97" r="0.6" fill="#400"/>
<line x1="553.49" y1="821.10" x2="553.49" y2="824.10" stroke="#333333" stroke-width="0.8" />
<text transform="translate(556.49,830.30) rotate(-45)" font-size="8.8" text-anchor="end" fill="#2a2a2a" font-style="normal" class="b">C1</text>
<rect x="563.30" y="812.25" width="5.00" height="8.85" fill="#1818b8" stroke="none" stroke-width="0.5" />
<path d="M565.80,808.45V812.25M564.60,808.45h2.4" stroke="#6d6d6d" stroke-width="0.6" fill="none"/>
<rect x="573.30" y="820.26" width="5.00" height="1.14" fill="#111111" stroke="none" stroke-width="0.5" />
<rect x="568.30" y="796.23" width="5.00" height="24.87" fill="#a20b0d" stroke="none" stroke-width="0.5" />
<path d="M570.80,787.37V796.23M569.50,787.37h2.6" stroke="#777" stroke-width="0.65" fill="none"/>
<circle cx="570.80" cy="778.10" r="0.7" fill="#333"/>
<circle cx="570.80" cy="801.20" r="0.6" fill="#400"/>
<line x1="570.80" y1="821.10" x2="570.80" y2="824.10" stroke="#333333" stroke-width="0.8" />
<text transform="translate(573.80,830.30) rotate(-45)" font-size="8.8" text-anchor="end" fill="#2a2a2a" font-style="normal" class="b">C5</text>
<rect x="585.61" y="802.13" width="5.00" height="18.97" fill="#a20b0d" stroke="none" stroke-width="0.5" />
<path d="M588.11,794.54V802.13M586.81,794.54h2.6" stroke="#777" stroke-width="0.65" fill="none"/>
<circle cx="588.11" cy="787.37" r="0.7" fill="#333"/>
<circle cx="588.11" cy="805.92" r="0.6" fill="#400"/>
<line x1="588.11" y1="821.10" x2="588.11" y2="824.10" stroke="#333333" stroke-width="0.8" />
<text transform="translate(591.11,830.30) rotate(-45)" font-size="8.8" text-anchor="end" fill="#2a2a2a" font-style="normal" class="b">C11</text>
<rect x="602.92" y="791.59" width="5.00" height="29.51" fill="#a20b0d" stroke="none" stroke-width="0.5" />
<path d="M605.42,779.78V791.59M604.12,779.78h2.6" stroke="#777" stroke-width="0.65" fill="none"/>
<circle cx="605.42" cy="768.82" r="0.7" fill="#333"/>
<circle cx="605.42" cy="797.49" r="0.6" fill="#400"/>
<line x1="605.42" y1="821.10" x2="605.42" y2="824.10" stroke="#333333" stroke-width="0.8" />
<text transform="translate(608.42,830.30) rotate(-45)" font-size="8.8" text-anchor="end" fill="#2a2a2a" font-style="normal" class="b">C13</text>
<rect x="615.23" y="818.15" width="5.00" height="2.95" fill="#1818b8" stroke="none" stroke-width="0.5" />
<rect x="620.23" y="792.01" width="5.00" height="29.09" fill="#a20b0d" stroke="none" stroke-width="0.5" />
<path d="M622.73,780.63V792.01M621.43,780.63h2.6" stroke="#777" stroke-width="0.65" fill="none"/>
<circle cx="622.73" cy="769.66" r="0.7" fill="#333"/>
<circle cx="622.73" cy="797.83" r="0.6" fill="#400"/>
<line x1="622.73" y1="821.10" x2="622.73" y2="824.10" stroke="#333333" stroke-width="0.8" />
<text transform="translate(625.73,830.30) rotate(-45)" font-size="8.8" text-anchor="end" fill="#2a2a2a" font-style="normal" class="b">C16</text>
<path d="M47.30,841.40V843.70H70.70V841.40M59.00,843.70v2.3" stroke="#444" stroke-width="0.75" fill="none"/>
<path d="M82.30,841.40V843.70H106.40V841.40M94.35,843.70v2.3" stroke="#444" stroke-width="0.75" fill="none"/>
<path d="M118.50,841.40V843.70H210.20V841.40M164.35,843.70v2.3" stroke="#444" stroke-width="0.75" fill="none"/>
<path d="M219.50,841.40V843.70H294.90V841.40M257.20,843.70v2.3" stroke="#444" stroke-width="0.75" fill="none"/>
<path d="M308.20,841.40V843.70H384.40V841.40M346.30,843.70v2.3" stroke="#444" stroke-width="0.75" fill="none"/>
<path d="M395.60,841.40V843.70H451.70V841.40M423.65,843.70v2.3" stroke="#444" stroke-width="0.75" fill="none"/>
<path d="M461.50,841.40V843.70H502.80V841.40M482.15,843.70v2.3" stroke="#444" stroke-width="0.75" fill="none"/>
<path d="M509.30,841.40V843.70H524.60V841.40M516.95,843.70v2.3" stroke="#444" stroke-width="0.75" fill="none"/>
<path d="M528.90,841.40V843.70H543.60V841.40M536.25,843.70v2.3" stroke="#444" stroke-width="0.75" fill="none"/>
<path d="M552.70,841.40V843.70H628.90V841.40M590.80,843.70v2.3" stroke="#444" stroke-width="0.75" fill="none"/>
<text transform="translate(55.70,855.80) scale(1,1.15)" font-size="7.4" text-anchor="middle" fill="#1a1a1a" class="b"><tspan font-style="italic">StALS</tspan>-T1</text>
<text transform="translate(98.00,855.80) scale(1,1.15)" font-size="7.4" text-anchor="middle" fill="#1a1a1a" class="b"><tspan font-style="italic">StALS</tspan>-T2</text>
<text transform="translate(164.50,855.80) scale(1,1.15)" font-size="7.4" text-anchor="middle" fill="#1a1a1a" class="b"><tspan font-style="italic">StALS</tspan>-T3</text>
<text transform="translate(257.00,855.80) scale(1,1.15)" font-size="7.4" text-anchor="middle" fill="#1a1a1a" class="b"><tspan font-style="italic">StALS</tspan>-T4</text>
<text transform="translate(346.00,855.80) scale(1,1.15)" font-size="7.4" text-anchor="middle" fill="#1a1a1a" class="b"><tspan font-style="italic">StGBSS</tspan>-T1</text>
<text transform="translate(423.00,855.80) scale(1,1.15)" font-size="7.4" text-anchor="middle" fill="#1a1a1a" class="b"><tspan font-style="italic">StGBSS</tspan>-T2</text>
<text transform="translate(481.30,855.80) scale(1,1.15)" font-size="7.4" text-anchor="middle" fill="#1a1a1a" class="b"><tspan font-style="italic">StGBSS</tspan></text>
<text transform="translate(481.50,863.00) scale(1,1.15)" font-size="7.4" text-anchor="middle" fill="#1a1a1a" class="b"><tspan font-style="italic"></tspan>-T3</text>
<text transform="translate(513.20,855.80) scale(1,1.15)" font-size="7.4" text-anchor="middle" fill="#1a1a1a" class="b"><tspan font-style="italic">StGBSS</tspan></text>
<text transform="translate(514.00,863.00) scale(1,1.15)" font-size="7.4" text-anchor="middle" fill="#1a1a1a" class="b"><tspan font-style="italic"></tspan>-T4</text>
<text transform="translate(543.50,855.80) scale(1,1.15)" font-size="7.4" text-anchor="middle" fill="#1a1a1a" class="b"><tspan font-style="italic">StGBSS</tspan></text>
<text transform="translate(544.00,863.00) scale(1,1.15)" font-size="7.4" text-anchor="middle" fill="#1a1a1a" class="b"><tspan font-style="italic"></tspan>-T5</text>
<text transform="translate(590.80,855.80) scale(1,1.15)" font-size="7.4" text-anchor="middle" fill="#1a1a1a" class="b"><tspan font-style="italic">StGBSS</tspan>-T6</text>
<rect x="571.80" y="718.40" width="5.60" height="5.40" fill="#1818b8" stroke="none" stroke-width="0.5" />
<text x="581.90" y="723.40" font-size="6.4" text-anchor="start" fill="#1a1a1a" font-weight="normal" font-style="normal" >PBE</text>
<rect x="571.80" y="727.10" width="5.60" height="5.40" fill="#a20b0d" stroke="none" stroke-width="0.5" />
<text x="581.90" y="732.10" font-size="6.4" text-anchor="start" fill="#1a1a1a" font-weight="normal" font-style="normal" >A3A-PBE</text>
<rect x="571.80" y="735.60" width="5.60" height="5.40" fill="#111111" stroke="none" stroke-width="0.5" />
<text x="581.90" y="740.60" font-size="6.4" text-anchor="start" fill="#1a1a1a" font-weight="normal" font-style="normal" >Untreated</text>
</svg>
</body></html>
